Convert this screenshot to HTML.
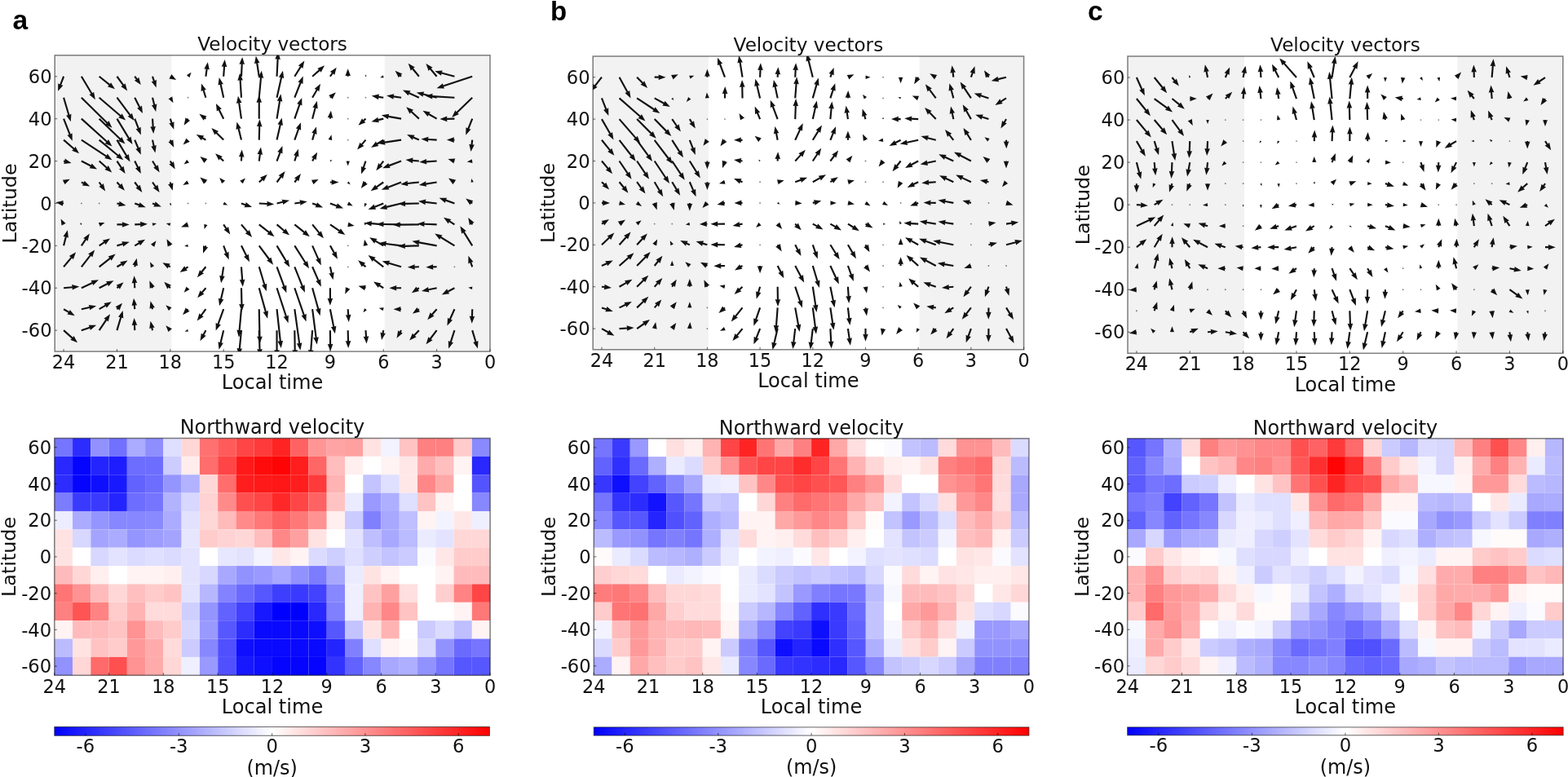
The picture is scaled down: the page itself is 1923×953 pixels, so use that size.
<!DOCTYPE html><html><head><meta charset="utf-8"><style>html,body{margin:0;padding:0;background:#fff;overflow:hidden}svg{display:block;filter:blur(0.55px)}text{font-family:'DejaVu Sans', 'Liberation Sans', sans-serif;fill:#111}</style></head><body>
<svg width="1923" height="953" viewBox="0 0 1923 953">
<defs>
<clipPath id="cq0"><rect x="67.2" y="67.8" width="533.8" height="363.3"/></clipPath>
<clipPath id="cq1"><rect x="727.2" y="69" width="528.4" height="359.8"/></clipPath>
<clipPath id="cq2"><rect x="1383" y="69" width="533.8" height="364.3"/></clipPath>
<linearGradient id="cbg" x1="0" x2="1" y1="0" y2="0"><stop offset="0" stop-color="#0000ff"/><stop offset="0.5" stop-color="#ffffff"/><stop offset="1" stop-color="#ff0000"/></linearGradient>
</defs>
<text x="15.6" y="35.7" style="font-family:'Liberation Sans',Arial,sans-serif;font-weight:bold;font-size:33.5px;fill:#000">a</text>
<rect x="67.2" y="67.8" width="143.02" height="363.3" fill="#f2f2f2"/>
<rect x="471.67" y="67.8" width="129.33" height="363.3" fill="#f2f2f2"/>
<g clip-path="url(#cq0)" fill="#111"><polygon points="77.09,93.36 73.19,103.44 71.26,102.27 71.09,111.85 77.42,104.65 75.2,104.22 79.1,94.14"/><polygon points="98.96,94.3 111.54,115.32 109.43,116.12 116.88,122.15 115.09,112.73 113.39,114.22 100.8,93.2"/><polygon points="120.99,94.59 133.61,104.78 131.9,106.26 140.97,109.35 136.04,101.13 134.96,103.11 122.35,92.91"/><polygon points="142.58,94.38 150.27,105.09 148.23,106.06 156.16,111.45 153.59,102.21 152.02,103.84 144.33,93.12"/><polygon points="164.38,94.39 166.87,97.77 164.85,98.77 172.84,104.05 170.16,94.85 168.6,96.49 166.11,93.11"/><polygon points="186.01,94.09 187.88,99.64 185.64,99.97 191.63,107.45 191.9,97.87 189.91,98.96 188.05,93.41"/><polygon points="208.32,94.62 208.64,94.81 207.28,96.43 216.12,97.95 210.36,91.07 209.65,93.06 209.32,92.88"/><polygon points="231.21,94.22 231.38,93.99 232.44,95.18 234.51,88.75 228.77,92.32 230.18,93.06 230.01,93.28"/><polygon points="253.46,93.9 254.7,84.82 256.85,85.51 254.8,76.15 250.31,84.62 252.57,84.53 251.33,93.6"/><polygon points="275.26,93.83 276.13,81.71 278.32,82.26 275.68,73.05 271.74,81.79 273.99,81.55 273.11,93.67"/><polygon points="297.05,93.8 297.81,78.59 300.01,79.1 297.17,69.95 293.42,78.77 295.66,78.48 294.9,93.7"/><polygon points="318.82,93.58 316.25,77.08 318.51,77.13 313.86,68.75 311.99,78.15 314.12,77.41 316.7,93.92"/><polygon points="340.62,93.8 341.69,72.39 343.89,72.9 341.05,63.75 337.3,72.57 339.54,72.29 338.47,93.7"/><polygon points="362.25,94.32 369.69,82.41 371.36,83.93 373.33,74.55 365.77,80.43 367.87,81.27 360.42,93.18"/><polygon points="383.84,94.55 392.43,86.88 393.61,88.81 398.12,80.35 389.21,83.88 390.99,85.28 382.41,92.95"/><polygon points="405.79,94.37 408.65,90.3 410.24,91.91 412.71,82.65 404.84,88.12 406.89,89.07 404.03,93.13"/><polygon points="427.77,93.75 427.77,92.85 430,93.25 426.7,84.25 423.4,93.25 425.62,92.85 425.62,93.75"/><polygon points="448.78,93.79 448.8,93.67 449.4,93.86 448.79,91.25 447.57,93.64 448.2,93.6 448.19,93.71"/><polygon points="470.09,93.27 469.92,93.34 469.72,92.28 466.27,95.25 470.82,95.22 470.27,94.29 470.45,94.23"/><polygon points="492.79,92.96 491.58,91.83 493.39,90.48 484.56,86.75 488.89,95.3 490.11,93.4 491.33,94.54"/><polygon points="514.68,93.07 506.93,83.62 508.91,82.52 500.65,77.65 503.8,86.7 505.27,84.98 513.02,94.43"/><polygon points="536.46,93.06 528.7,83.84 530.66,82.71 522.34,77.95 525.61,86.96 527.05,85.22 534.81,94.44"/><polygon points="557.7,92.71 541.81,88.51 542.77,86.46 533.22,87.35 541.08,92.84 541.26,90.59 557.15,94.79"/><polygon points="578.87,92.73 543.34,104.52 543.02,102.28 535.51,108.25 545.09,108.55 544.01,106.56 579.55,94.77"/><polygon points="77.06,120 83.34,141.35 81.09,141.6 86.79,149.3 87.42,139.73 85.4,140.75 79.13,119.4"/><polygon points="99.13,120.47 130.6,151.43 128.75,152.74 137.48,156.7 133.38,148.04 132.11,149.9 100.64,118.93"/><polygon points="120.97,120.52 146.94,142.81 145.19,144.24 154.17,147.6 149.49,139.23 148.34,141.18 122.37,118.88"/><polygon points="142.6,120.35 158.63,141.67 156.61,142.69 164.66,147.9 161.89,138.72 160.35,140.38 144.32,119.05"/><polygon points="164.29,120.18 170.21,131.91 168.04,132.55 175.04,139.1 173.93,129.58 172.13,130.94 166.2,119.22"/><polygon points="185.99,119.96 188.15,128.8 185.89,128.94 191.23,136.9 192.3,127.37 190.24,128.29 188.08,119.44"/><polygon points="208.04,120.14 208.21,120.43 206.44,121.06 212.52,126.2 211.2,118.34 209.76,119.55 209.6,119.26"/><circle cx="230.61" cy="119.7" r="0.9" fill-opacity="0.55"/><polygon points="253.42,119.38 250.6,110.38 252.84,110.1 247,102.5 246.54,112.08 248.55,111.03 251.37,120.02"/><polygon points="275.23,119.47 271.68,103.27 273.94,103.18 268.78,95.1 267.49,104.6 269.58,103.73 273.13,119.93"/><polygon points="297.04,119.63 295.69,98.21 297.93,98.47 294.07,89.7 291.35,98.89 293.54,98.35 294.9,119.77"/><polygon points="318.83,119.8 321.05,95.36 323.23,95.96 320.76,86.7 316.66,95.36 318.91,95.17 316.69,119.6"/><polygon points="340.6,119.94 346.11,95.33 348.2,96.2 346.95,86.7 341.76,94.76 344.02,94.86 338.5,119.46"/><polygon points="362.33,120.1 369.56,101.89 371.48,103.08 371.73,93.5 365.35,100.65 367.56,101.1 360.34,119.3"/><polygon points="384.05,120.24 389.6,110.76 391.32,112.23 393.02,102.8 385.63,108.9 387.75,109.68 382.19,119.16"/><polygon points="405.64,120.49 406.34,119.84 407.56,121.74 411.91,113.2 403.07,116.91 404.88,118.26 404.18,118.91"/><circle cx="426.7" cy="119.7" r="0.9" fill-opacity="0.55"/><circle cx="448.49" cy="119.7" r="0.9" fill-opacity="0.55"/><polygon points="470.43,118.64 464.44,117.77 465.15,115.62 455.77,117.6 464.21,122.16 464.13,119.9 470.12,120.76"/><polygon points="492.2,118.63 482.73,117.37 483.42,115.22 474.06,117.3 482.55,121.76 482.44,119.5 491.92,120.77"/><polygon points="514.3,118.72 502.22,113.2 503.51,111.34 493.95,110.6 500.76,117.34 501.32,115.15 513.4,120.68"/><polygon points="535.9,118.66 519.34,114.47 520.27,112.41 510.74,113.4 518.65,118.81 518.81,116.55 535.37,120.74"/><polygon points="557.49,118.63 530.17,117.03 530.7,114.83 521.52,117.6 530.32,121.42 530.05,119.18 557.36,120.77"/><polygon points="578.46,118.93 559.63,137.23 558.37,135.36 554.21,144 562.97,140.09 561.13,138.78 579.96,120.47"/><polygon points="77.09,146.04 84.65,165.24 82.43,165.68 88.79,172.85 88.57,163.27 86.65,164.45 79.09,145.26"/><polygon points="99.16,146.45 130.37,174.5 128.58,175.89 137.48,179.45 132.99,170.98 131.8,172.9 100.6,144.85"/><polygon points="120.92,146.42 146.55,171.33 144.72,172.64 153.47,176.55 149.31,167.91 148.05,169.79 122.42,144.88"/><polygon points="142.54,146.21 157.08,170.16 154.97,170.97 162.46,176.95 160.61,167.54 158.91,169.04 144.38,145.09"/><polygon points="164.24,146.04 168.76,157.81 166.54,158.23 172.84,165.45 172.7,155.87 170.77,157.04 166.25,145.26"/><polygon points="185.96,145.72 186.6,155.54 184.35,155.28 188.23,164.05 190.94,154.85 188.75,155.4 188.11,145.58"/><polygon points="207.8,145.99 209.48,151.03 207.24,151.36 213.22,158.85 213.51,149.27 211.52,150.35 209.84,145.31"/><polygon points="229.7,145.08 229.25,145.79 227.58,144.27 225.61,153.65 233.18,147.77 231.08,146.93 231.52,146.22"/><polygon points="253.04,144.79 251.92,143.95 253.58,142.41 244.4,139.65 249.62,147.69 250.63,145.67 251.75,146.51"/><polygon points="275.15,145.17 269.68,134.17 271.85,133.54 264.88,126.95 265.94,136.48 267.75,135.13 273.22,146.13"/><polygon points="297.04,145.5 294.25,126.01 296.51,126.09 291.97,117.65 289.98,127.03 292.12,126.32 294.91,145.8"/><polygon points="318.83,145.65 318.83,125.45 321.06,125.85 317.76,116.85 314.46,125.85 316.68,125.45 316.68,145.65"/><polygon points="340.61,145.82 344.14,124.01 346.27,124.76 344.45,115.35 339.75,123.71 342.01,123.67 338.49,145.48"/><polygon points="362.35,146 368.44,128.43 370.41,129.53 370.23,119.95 364.17,127.37 366.4,127.72 360.32,145.3"/><polygon points="384.16,145.92 387.69,132.44 389.74,133.39 388.82,123.85 383.35,131.72 385.61,131.9 382.08,145.38"/><polygon points="405.98,145.76 406.12,144.31 408.3,144.93 405.91,135.65 401.73,144.28 403.98,144.1 403.84,145.54"/><circle cx="426.7" cy="145.65" r="0.9" fill-opacity="0.55"/><polygon points="447.77,144.85 445.2,147.13 444.02,145.2 439.49,153.65 448.4,150.14 446.63,148.74 449.2,146.45"/><polygon points="470.03,144.6 463.6,146.12 463.47,143.87 455.47,149.15 464.99,150.29 464.09,148.22 470.52,146.7"/><polygon points="492.25,144.59 476.52,141.8 477.3,139.68 467.86,141.35 476.15,146.17 476.14,143.91 491.87,146.71"/><polygon points="514.58,144.86 505.28,136.22 507.09,134.86 498.25,131.15 502.59,139.69 503.82,137.79 513.12,146.44"/><polygon points="536.17,144.72 526.43,139.11 527.88,137.38 518.44,135.75 524.59,143.1 525.35,140.97 535.1,146.58"/><polygon points="557.4,144.58 548,144.78 548.35,142.55 539.42,146.05 548.5,149.15 548.05,146.93 557.45,146.72"/><polygon points="578.21,145.25 573.39,157.36 571.47,156.17 571.21,165.75 577.61,158.61 575.39,158.16 580.21,146.05"/><polygon points="77.39,172.41 89.91,183.35 88.15,184.76 97.09,188.2 92.49,179.79 91.32,181.73 78.8,170.79"/><polygon points="99.29,172.5 129.7,192.48 128.15,194.12 137.48,196.3 131.77,188.6 130.88,190.68 100.47,170.7"/><polygon points="120.98,172.43 143.98,191.62 142.24,193.07 151.27,196.3 146.47,188 145.36,189.96 122.36,170.77"/><polygon points="142.53,172.15 154.22,191.67 152.1,192.47 159.56,198.5 157.77,189.08 156.06,190.57 144.38,171.05"/><polygon points="164.25,172.02 168.52,182.19 166.32,182.68 172.84,189.7 172.4,180.12 170.51,181.35 166.24,171.18"/><polygon points="185.98,171.82 187.58,179.31 185.32,179.39 190.43,187.5 191.78,178.01 189.69,178.87 188.08,171.38"/><polygon points="207.85,172.06 208.54,173.51 206.36,174.1 213.22,180.8 212.31,171.26 210.48,172.58 209.79,171.14"/><polygon points="229.89,170.88 229.62,171.15 228.41,169.4 224.61,177.6 232.81,173.8 231.06,172.58 231.32,172.32"/><polygon points="252.93,170.67 248.8,168.32 250.25,166.58 240.8,165 246.99,172.32 247.74,170.19 251.86,172.53"/><polygon points="274.94,170.84 266.24,162.2 268.09,160.9 259.38,156.9 263.44,165.58 264.73,163.72 273.43,172.36"/><polygon points="297.01,171.34 293.59,157.59 295.85,157.44 290.47,149.5 289.44,159.03 291.51,158.11 294.93,171.86"/><polygon points="318.83,171.63 319.3,154.93 321.51,155.39 318.46,146.3 314.91,155.21 317.15,154.87 316.68,171.57"/><polygon points="340.6,171.84 344.81,153.13 346.89,154 345.65,144.5 340.45,152.56 342.71,152.65 338.5,171.36"/><polygon points="362.35,171.96 367.07,158.66 369.03,159.79 368.93,150.2 362.81,157.58 365.04,157.94 360.32,171.24"/><polygon points="384.15,171.91 386.51,163.95 388.53,164.97 387.92,155.4 382.2,163.09 384.45,163.34 382.09,171.29"/><polygon points="405.66,171.79 405.73,171.51 407.22,172.19 406.51,165.3 402.6,171.01 404.23,171.13 404.16,171.41"/><circle cx="426.7" cy="171.6" r="0.9" fill-opacity="0.55"/><polygon points="447.67,170.9 442.91,176.4 441.49,174.64 438.09,183.6 446.47,178.96 444.53,177.81 449.3,172.3"/><polygon points="469.7,170.69 461.88,175.61 461.03,173.51 455.17,181.1 464.55,179.1 463.03,177.43 470.85,172.51"/><polygon points="491.9,170.54 471.61,173.57 471.68,171.31 463.26,175.9 472.65,177.83 471.93,175.69 492.22,172.66"/><polygon points="514.29,170.62 507.34,167.52 508.61,165.65 499.05,165 505.92,171.68 506.47,169.48 513.41,172.58"/><polygon points="535.69,170.53 525.08,169.97 525.6,167.77 516.44,170.6 525.25,174.36 524.97,172.12 535.58,172.67"/><polygon points="557.42,170.53 556.52,170.53 556.92,168.3 547.92,171.6 556.92,174.9 556.52,172.68 557.42,172.68"/><polygon points="578.14,171.47 577.45,177.33 575.29,176.68 577.51,186 581.84,177.45 579.59,177.59 580.28,171.73"/><polygon points="77.82,198.59 79,198.9 78.05,200.95 87.59,200.05 79.73,194.57 79.55,196.82 78.37,196.51"/><polygon points="99.39,198.5 110.96,204.53 109.58,206.32 119.08,207.55 112.62,200.47 111.95,202.62 100.38,196.6"/><polygon points="120.95,198.35 130.15,206.61 128.37,207.99 137.27,211.55 132.78,203.08 131.59,205.01 122.39,196.75"/><polygon points="142.56,198.14 148.03,206.46 145.95,207.35 153.66,213.05 151.47,203.72 149.83,205.28 144.36,196.96"/><polygon points="164.28,198.02 168.09,205.8 165.92,206.42 172.84,213.05 171.85,203.52 170.02,204.86 166.21,197.08"/><polygon points="186.12,198.11 190.22,204.78 188.11,205.61 195.63,211.55 193.73,202.15 192.05,203.66 187.95,196.99"/><polygon points="207.89,198.1 209.42,200.69 207.3,201.48 214.72,207.55 212.99,198.12 211.28,199.6 209.75,197"/><polygon points="230.13,196.95 229.91,197.13 229.14,195.72 225.61,201.55 232.07,199.38 230.86,198.33 231.09,198.15"/><polygon points="253.05,196.71 252.74,196.47 254.41,194.98 245.4,192.05 250.38,200.12 251.43,198.14 251.74,198.39"/><polygon points="274.91,196.76 271.14,193.28 272.94,191.92 264.08,188.25 268.47,196.77 269.68,194.87 273.46,198.34"/><polygon points="297.05,197.6 297.32,192.19 299.52,192.7 296.67,183.55 292.93,192.37 295.17,192.09 294.9,197.5"/><polygon points="318.83,197.69 319.92,189.22 322.08,189.9 319.96,180.55 315.53,189.05 317.79,188.94 316.69,197.41"/><polygon points="340.55,197.92 344.46,187.39 346.41,188.54 346.45,178.95 340.22,186.24 342.45,186.64 338.54,197.18"/><polygon points="362.36,197.86 364.35,191.39 366.36,192.42 365.83,182.85 360.04,190.49 362.29,190.76 360.31,197.24"/><polygon points="384.06,198.07 385.89,194.79 387.64,196.22 389.12,186.75 381.87,193.01 384.01,193.75 382.18,197.03"/><polygon points="405.09,197.85 405.2,197.78 405.46,198.47 407.41,196.05 404.36,196.63 404.84,197.18 404.73,197.25"/><polygon points="425.98,197.55 425.98,197.82 424.5,197.55 426.7,203.55 428.9,197.55 427.41,197.82 427.41,197.55"/><polygon points="447.47,197.21 444.82,205.06 442.84,203.97 443.09,213.55 449.09,206.08 446.85,205.75 449.5,197.89"/><polygon points="469.42,196.9 465.72,201.75 464.2,200.09 461.37,209.25 469.45,204.08 467.44,203.06 471.13,198.2"/><polygon points="491.68,196.54 476.83,202.12 476.43,199.9 469.16,206.15 478.75,206.08 477.59,204.13 492.44,198.56"/><polygon points="513.95,196.48 506.11,195.76 506.71,193.58 497.45,196.05 506.11,200.16 505.92,197.9 513.75,198.62"/><polygon points="535.57,196.48 522.76,197.26 523.02,195.01 514.24,198.85 523.42,201.6 522.89,199.4 535.7,198.62"/><polygon points="557.72,196.59 557.37,196.48 558.34,194.62 549.42,195.05 556.51,200.48 556.77,198.39 557.13,198.51"/><polygon points="579.09,196.77 578.8,196.82 578.85,195.17 572.71,198.55 579.58,199.93 579.04,198.37 579.33,198.33"/><polygon points="78.55,224.42 78.89,224.25 79.49,226.32 85.79,219.7 76.7,220.68 77.98,222.41 77.64,222.58"/><polygon points="99.42,224.47 102.07,225.74 100.74,227.57 110.28,228.5 103.6,221.63 103,223.8 100.35,222.53"/><polygon points="120.78,224.11 123.41,227.92 121.35,228.86 129.17,234.4 126.79,225.12 125.18,226.71 122.55,222.89"/><polygon points="142.67,224.23 146.31,228.14 144.41,229.36 152.96,233.7 149.24,224.86 147.88,226.67 144.24,222.77"/><polygon points="164.38,224.14 168.39,229.6 166.36,230.6 174.34,235.9 171.68,226.69 170.12,228.33 166.11,222.86"/><polygon points="186.15,224.11 189.85,229.45 187.79,230.39 195.63,235.9 193.22,226.62 191.61,228.22 187.92,222.89"/><polygon points="207.79,223.79 208.33,225.72 206.08,225.95 211.72,233.7 212.43,224.14 210.4,225.13 209.85,223.21"/><polygon points="230.19,222.75 229.91,222.9 229.32,221.19 224.31,227 231.89,225.81 230.75,224.41 231.03,224.25"/><polygon points="253.1,222.68 252.63,222.28 254.38,220.85 245.4,217.5 250.08,225.86 251.23,223.91 251.7,224.32"/><polygon points="274.84,222.9 274.62,222.66 276.2,221.67 269.18,218 272.17,225.33 273.3,223.85 273.53,224.1"/><polygon points="296.57,224.1 296.79,223.88 297.8,225.33 300.97,218.5 294.14,221.67 295.6,222.68 295.37,222.9"/><polygon points="318.5,224.28 322.26,220.7 323.51,222.59 327.76,214 318.96,217.81 320.78,219.14 317.02,222.72"/><polygon points="340.41,224.14 345.29,217.55 346.84,219.2 349.55,210 341.54,215.27 343.56,216.27 338.68,222.86"/><polygon points="362.2,224.13 364.73,220.68 366.29,222.31 368.93,213.1 360.96,218.42 362.99,219.41 360.47,222.87"/><polygon points="383.54,224.4 383.87,224.24 384.41,226.25 390.62,220 381.84,220.75 383.04,222.45 382.7,222.6"/><polygon points="404.91,224.57 406.91,224.57 406.51,226.8 415.51,223.5 406.51,220.2 406.91,222.43 404.91,222.43"/><polygon points="426.34,223.86 426.47,223.99 425.6,224.6 429.7,226.5 427.8,222.4 427.19,223.28 427.06,223.14"/><polygon points="447.63,222.85 447.13,223.5 445.6,221.84 442.79,231 450.86,225.83 448.85,224.8 449.34,224.15"/><polygon points="469.67,222.61 461.16,228.45 460.23,226.39 454.67,234.2 463.96,231.83 462.37,230.22 470.88,224.39"/><polygon points="491.68,222.5 475.52,228.64 475.1,226.42 467.86,232.7 477.45,232.59 476.28,230.65 492.44,224.5"/><polygon points="513.73,222.43 499.68,223.99 499.83,221.73 491.25,226 500.56,228.29 499.92,226.12 513.97,224.57"/><polygon points="535.47,222.44 522.17,224.51 522.22,222.25 513.84,226.9 523.24,228.77 522.5,226.64 535.8,224.56"/><polygon points="558.02,222.61 557.68,222.38 559.24,220.75 549.92,218.5 555.58,226.24 556.48,224.16 556.83,224.39"/><polygon points="579.75,223.38 579.71,223.18 580.86,223.13 578.21,219 577.56,223.87 578.63,223.42 578.67,223.62"/><polygon points="78.22,248.38 77.16,248.26 77.81,246.1 68.49,248.35 77.06,252.65 76.92,250.4 77.97,250.52"/><circle cx="99.88" cy="249.45" r="0.9" fill-opacity="0.55"/><circle cx="121.67" cy="249.45" r="0.9" fill-opacity="0.55"/><polygon points="143.22,250.5 145.83,251.09 144.95,253.17 154.46,251.95 146.41,246.74 146.31,249 143.7,248.4"/><polygon points="164.88,250.46 170.28,252.38 169.16,254.34 178.74,254.25 171.37,248.13 171,250.36 165.61,248.44"/><polygon points="186.66,250.46 189.39,251.47 188.25,253.42 197.83,253.45 190.54,247.23 190.14,249.46 187.41,248.44"/><polygon points="208.46,249.57 208.51,249.7 207.72,249.82 209.82,252.45 209.92,249.08 209.22,249.46 209.18,249.33"/><circle cx="230.61" cy="249.45" r="0.9" fill-opacity="0.55"/><circle cx="252.4" cy="249.45" r="0.9" fill-opacity="0.55"/><polygon points="273.94,250.05 274.17,250.14 273.45,251.28 279.18,251.45 274.92,247.62 274.64,248.94 274.42,248.85"/><polygon points="295.62,250.47 300.59,252.17 299.49,254.15 309.07,253.95 301.63,247.91 301.29,250.14 296.32,248.43"/><polygon points="317.7,250.52 327.61,251.11 327.08,253.31 336.26,250.55 327.47,246.72 327.74,248.97 317.82,248.38"/><polygon points="339.8,250.5 346.93,248.79 347.06,251.05 355.05,245.75 345.53,244.63 346.43,246.7 339.3,248.4"/><polygon points="361.49,250.51 368.37,249.53 368.29,251.79 376.73,247.25 367.36,245.26 368.07,247.4 361.18,248.39"/><polygon points="382.74,250.45 387.71,252.37 386.54,254.3 396.12,254.45 388.91,248.14 388.48,250.36 383.51,248.45"/><polygon points="404.53,250.46 412.59,253.51 411.42,255.45 421.01,255.55 413.76,249.28 413.35,251.5 405.29,248.44"/><polygon points="426.34,250.17 426.61,250.3 425.6,251.65 432.7,252.45 427.8,247.25 427.32,248.87 427.06,248.73"/><polygon points="447.95,249.27 447.88,249.47 446.84,248.9 446.99,253.95 450.14,250 448.96,249.83 449.02,249.63"/><polygon points="469.87,248.45 459.23,252.8 458.76,250.59 451.67,257.05 461.25,256.7 460.04,254.79 470.68,250.45"/><polygon points="491.8,248.41 473.75,252.85 473.61,250.59 465.66,255.95 475.19,257 474.27,254.94 492.32,250.49"/><polygon points="513.82,248.38 496.82,248.77 497.17,246.54 488.25,250.05 497.32,253.14 496.87,250.92 513.87,250.52"/><polygon points="535.76,248.38 521.8,246.77 522.46,244.6 513.14,246.85 521.7,251.16 521.56,248.91 535.51,250.52"/><polygon points="557.79,248.44 547.09,244.62 548.21,242.66 538.62,242.75 545.99,248.88 546.36,246.65 557.06,250.46"/><polygon points="579.86,248.59 578.74,247.75 580.39,246.21 571.21,243.45 576.43,251.49 577.45,249.47 578.57,250.31"/><polygon points="78.93,274.98 78.77,274.67 80.66,274.12 74.59,268.4 75.53,276.68 77.1,275.51 77.26,275.82"/><polygon points="100.18,275.22 100.11,275.11 100.8,274.85 98.38,272.9 98.96,275.95 99.52,275.47 99.58,275.58"/><polygon points="121.97,276.21 122.27,276.1 122.59,277.89 128.47,272.9 120.75,272.91 121.67,274.48 121.37,274.59"/><polygon points="143.45,276.47 150.15,276.52 149.74,278.74 158.76,275.5 149.78,272.14 150.16,274.37 143.46,274.33"/><polygon points="165.29,276.47 172.39,276.2 172.08,278.44 180.94,274.8 171.83,271.85 172.31,274.05 165.2,274.33"/><polygon points="187.21,276 187.43,275.93 187.58,277.23 192.03,273.9 186.48,273.57 187.08,274.74 186.85,274.8"/><polygon points="209,274.8 208.78,274.74 209.37,273.57 203.82,273.9 208.27,277.23 208.42,275.93 208.64,276"/><polygon points="230.25,274.39 229.86,274.52 229.5,272.29 222.11,278.4 231.69,278.52 230.58,276.55 230.97,276.41"/><polygon points="251.72,275.19 251.64,275.44 250.31,274.74 250.6,281.1 254.49,276.06 253,275.87 253.08,275.62"/><polygon points="273.29,276 276.58,280.87 274.51,281.79 282.28,287.4 279.98,278.09 278.36,279.67 275.07,274.8"/><polygon points="295.15,276.09 302.7,285.03 300.74,286.16 309.07,290.9 305.78,281.9 304.34,283.64 296.79,274.71"/><polygon points="317.09,276.24 329.14,285.73 327.45,287.23 336.56,290.2 331.53,282.04 330.47,284.04 318.42,274.56"/><polygon points="338.85,276.22 347.8,283.84 346.06,285.28 355.05,288.6 350.33,280.25 349.2,282.21 340.24,274.58"/><polygon points="360.66,276.24 372.45,285.67 370.75,287.15 379.83,290.2 374.87,282 373.79,283.99 362.01,274.56"/><polygon points="382.29,276.08 390.65,286.32 388.67,287.42 396.92,292.3 393.79,283.24 392.32,284.96 383.96,274.72"/><polygon points="404.3,276.28 415.62,284.1 414.03,285.7 423.31,288.1 417.78,280.27 416.84,282.33 405.52,274.52"/><polygon points="426.52,276.36 426.87,276.42 426.15,278.33 434.7,276.9 427.25,272.47 427.23,274.51 426.88,274.44"/><polygon points="448.84,275.16 448.76,275.03 449.59,274.67 446.49,272.4 447.39,276.13 448.04,275.51 448.13,275.64"/><polygon points="470.37,274.33 455.53,273.06 456.12,270.88 446.87,273.4 455.56,277.45 455.35,275.2 470.18,276.47"/><polygon points="492.08,274.33 470.28,273.97 470.71,271.75 461.66,274.9 470.61,278.35 470.24,276.12 492.04,276.47"/><polygon points="513.84,274.33 490.44,274.54 490.82,272.32 481.85,275.7 490.88,278.92 490.46,276.69 513.86,276.47"/><polygon points="535.68,274.33 520.27,273.68 520.77,271.48 511.64,274.4 520.49,278.07 520.18,275.83 535.59,276.47"/><polygon points="558.01,274.5 551.84,270.54 553.38,268.88 544.02,266.8 549.82,274.44 550.68,272.35 556.84,276.3"/><polygon points="580.14,274.85 579.5,273.77 581.62,272.98 574.21,266.9 575.93,276.33 577.65,274.86 578.29,275.95"/><polygon points="79.14,301.61 81.85,290.75 83.91,291.68 82.89,282.15 77.51,290.08 79.77,290.23 77.05,301.09"/><polygon points="100.77,301.95 105.96,294.28 107.58,295.85 109.88,286.55 102.11,292.16 104.18,293.07 98.99,300.75"/><polygon points="122.26,302.25 128.5,298.1 129.4,300.18 135.07,292.45 125.75,294.68 127.31,296.31 121.07,300.45"/><polygon points="143.76,302.38 150.81,300.31 151.05,302.56 158.76,296.85 149.19,296.22 150.2,298.25 143.15,300.32"/><polygon points="165.79,302.28 171.17,299.13 171.95,301.25 178.04,293.85 168.61,295.55 170.08,297.27 164.7,300.42"/><polygon points="187.75,301.89 187.95,301.62 189.23,303 191.53,295.35 184.83,299.7 186.52,300.55 186.32,300.81"/><polygon points="209.77,300.84 209.43,300.22 211.58,299.52 204.42,293.15 205.77,302.64 207.54,301.24 207.87,301.86"/><polygon points="230.55,300.81 230.35,300.83 230.42,299.7 226.11,301.85 230.79,303 230.47,301.91 230.67,301.89"/><polygon points="251.39,300.98 250.94,302.2 248.99,301.06 249,310.65 255.19,303.33 252.96,302.94 253.41,301.72"/><polygon points="273.18,301.73 276.62,310.79 274.4,311.21 280.68,318.45 280.57,308.86 278.63,310.03 275.19,300.97"/><polygon points="295.01,301.83 301.15,314.05 298.98,314.69 305.97,321.25 304.88,311.73 303.07,313.08 296.93,300.87"/><polygon points="316.9,301.99 329.07,318.39 327.04,319.39 335.06,324.65 332.34,315.46 330.8,317.1 318.62,300.71"/><polygon points="338.62,301.9 350.01,320.92 347.89,321.72 355.35,327.75 353.56,318.33 351.85,319.82 340.47,300.8"/><polygon points="360.43,301.93 373.52,322.56 371.43,323.42 379.03,329.25 377,319.88 375.34,321.41 362.24,300.77"/><polygon points="382.14,301.79 389.35,318.03 387.15,318.56 393.82,325.45 393.19,315.89 391.32,317.15 384.1,300.91"/><polygon points="403.97,301.87 408.88,310.66 406.74,311.4 414.01,317.65 412.5,308.18 410.76,309.62 405.85,300.83"/><circle cx="426.7" cy="301.35" r="0.9" fill-opacity="0.55"/><polygon points="449.38,301.17 449.31,300.84 451.24,300.8 446.99,293.85 445.74,301.9 447.52,301.2 447.59,301.53"/><polygon points="470.82,300.42 461.13,294.7 462.6,292.99 453.17,291.25 459.24,298.67 460.03,296.55 469.73,302.28"/><polygon points="492.19,300.28 473.43,297.95 474.1,295.79 464.76,297.95 473.28,302.34 473.16,300.08 491.93,302.42"/><polygon points="513.82,300.28 496.62,300.74 496.96,298.51 488.05,302.05 497.14,305.1 496.67,302.89 513.88,302.42"/><polygon points="535.83,300.29 513.99,296.33 514.78,294.21 505.34,295.85 513.6,300.7 513.61,298.44 535.44,302.41"/><polygon points="557.99,300.43 541.12,290.12 542.62,288.43 533.22,286.55 539.18,294.06 540,291.95 556.86,302.27"/><polygon points="580.13,300.78 569.75,284 571.85,283.17 564.31,277.25 566.24,286.64 567.92,285.13 578.3,301.92"/><polygon points="78.92,327.99 88.41,316.59 89.87,318.33 93.09,309.3 84.8,314.1 86.76,315.22 77.27,326.61"/><polygon points="100.73,327.96 111.74,313.84 113.25,315.53 116.18,306.4 108.04,311.47 110.05,312.52 99.03,326.64"/><polygon points="122.34,328.14 135.59,317.67 136.65,319.67 141.67,311.5 132.56,314.49 134.25,315.99 121,326.46"/><polygon points="144,328.23 149.69,324.88 150.47,327.01 156.56,319.6 147.13,321.32 148.6,323.03 142.91,326.37"/><polygon points="166.29,327.55 166.8,325.42 168.87,326.32 167.74,316.8 162.45,324.79 164.71,324.92 164.2,327.05"/><polygon points="187.75,326.94 187.62,326.68 189.23,326.2 184.03,321.3 184.83,328.4 186.18,327.39 186.32,327.66"/><polygon points="209.32,326.35 207.43,325.35 208.82,323.57 199.32,322.3 205.75,329.41 206.43,327.26 208.32,328.25"/><polygon points="230.01,326.41 227.15,328.32 226.25,326.25 220.61,334 229.92,331.73 228.35,330.11 231.21,328.19"/><polygon points="251.56,326.62 246.49,332.85 245.02,331.14 241.9,340.2 250.14,335.3 248.16,334.21 253.23,327.98"/><polygon points="273.12,327.13 271.35,338.54 269.21,337.8 271.08,347.2 275.73,338.82 273.47,338.87 275.25,327.47"/><polygon points="294.9,327.38 296.07,343.3 293.82,343.07 297.77,351.8 300.4,342.58 298.21,343.14 297.04,327.22"/><polygon points="316.73,327.61 323.26,349.37 321.01,349.63 326.76,357.3 327.33,347.73 325.32,348.75 318.79,326.99"/><polygon points="338.54,327.67 347.36,351.6 345.14,352 351.35,359.3 351.33,349.71 349.38,350.86 340.56,326.93"/><polygon points="360.34,327.7 369.74,351.21 367.53,351.67 373.93,358.8 373.66,349.22 371.74,350.42 362.33,326.9"/><polygon points="382.14,327.73 389.4,344.35 387.2,344.87 393.82,351.8 393.24,342.23 391.37,343.49 384.11,326.87"/><polygon points="403.86,327.54 405.57,335.15 403.32,335.24 408.51,343.3 409.75,333.8 407.67,334.67 405.96,327.06"/><circle cx="426.7" cy="327.3" r="0.9" fill-opacity="0.55"/><polygon points="449.19,326.49 446.38,324.04 448.14,322.62 439.19,319.2 443.81,327.6 444.96,325.66 447.78,328.11"/><polygon points="470.93,326.45 459.06,317.37 460.73,315.85 451.57,313 456.72,321.09 457.75,319.08 469.62,328.15"/><polygon points="492.37,326.27 477.21,321.73 478.23,319.72 468.66,320.3 476.34,326.04 476.59,323.79 491.75,328.33"/><polygon points="513.82,326.23 508.41,326.38 508.75,324.14 499.85,327.7 508.94,330.74 508.48,328.53 513.88,328.37"/><polygon points="535.6,326.23 530.9,326.37 531.23,324.13 522.34,327.7 531.43,330.73 530.97,328.52 535.67,328.37"/><circle cx="557.42" cy="327.3" r="0.9" fill-opacity="0.55"/><polygon points="580.23,326.94 578.31,321.54 580.54,321.17 574.41,313.8 574.32,323.39 576.28,322.26 578.2,327.66"/><polygon points="78.19,354.32 88.83,353.32 88.64,355.58 97.29,351.45 88.03,349 88.63,351.18 77.99,352.18"/><polygon points="100.34,354.22 113.67,347.9 114.26,350.09 120.98,343.25 111.44,344.12 112.75,345.96 99.42,352.28"/><polygon points="122.16,354.21 132.3,349.02 132.96,351.19 139.47,344.15 129.95,345.31 131.32,347.11 121.18,352.29"/><polygon points="144.17,354.06 145.69,352.72 146.86,354.66 151.46,346.25 142.51,349.69 144.28,351.1 142.75,352.44"/><polygon points="166.32,353.2 166.02,346.79 168.26,347.09 164.54,338.25 161.67,347.39 163.87,346.89 164.17,353.3"/><polygon points="188.03,352.84 187.63,351.88 189.83,351.39 183.33,344.35 183.74,353.93 185.64,352.7 186.04,353.66"/><polygon points="209.58,352.49 208.16,351.07 210.02,349.78 201.32,345.75 205.35,354.45 206.64,352.59 208.06,354.01"/><polygon points="229.95,352.65 229.73,352.9 228.59,351.42 225.61,358.75 232.62,355.08 231.04,354.09 231.27,353.85"/><polygon points="251.58,352.55 246.95,358 245.51,356.26 242.2,365.25 250.54,360.53 248.58,359.39 253.22,353.95"/><polygon points="273.14,353.01 269.99,366.53 267.91,365.64 269.08,375.15 274.34,367.13 272.08,367.02 275.23,353.49"/><polygon points="294.9,353.28 295.39,373.28 293.15,372.93 296.67,381.85 299.75,372.77 297.54,373.23 297.05,353.22"/><polygon points="316.72,353.54 324.82,382.65 322.57,382.86 328.16,390.65 328.93,381.09 326.89,382.08 318.79,352.96"/><polygon points="338.52,353.58 349.86,388.31 347.62,388.62 353.55,396.15 353.89,386.57 351.9,387.64 340.57,352.92"/><polygon points="360.32,353.6 371.72,386.67 369.48,387.02 375.53,394.45 375.72,384.87 373.75,385.97 362.35,352.9"/><polygon points="382.09,353.54 389.27,379.26 387.02,379.47 392.62,387.25 393.38,377.69 391.34,378.68 384.16,352.96"/><polygon points="403.84,353.25 403.84,366.15 401.61,365.75 404.91,374.75 408.21,365.75 405.99,366.15 405.99,353.25"/><polygon points="425.8,352.83 425.65,353.17 423.95,351.97 423.2,360.75 429.45,354.53 427.44,354 427.59,353.67"/><polygon points="448.77,352.21 448.06,352.02 449.04,349.98 439.49,350.75 447.27,356.34 447.48,354.09 448.2,354.29"/><polygon points="470.85,352.34 465.9,349.18 467.43,347.52 458.07,345.45 463.88,353.08 464.74,350.99 469.69,354.16"/><polygon points="492.06,352.18 485.96,352.18 486.36,349.95 477.36,353.25 486.36,356.55 485.96,354.33 492.06,354.33"/><polygon points="513.25,352.36 511.41,353.59 510.51,351.51 504.85,359.25 514.17,357 512.6,355.37 514.45,354.14"/><polygon points="535.43,352.2 525.26,354.22 525.22,351.96 517.04,356.95 526.51,358.43 525.68,356.33 535.85,354.3"/><polygon points="556.92,352.3 548.94,356.5 548.26,354.34 541.82,361.45 551.33,360.18 549.94,358.4 557.92,354.2"/><polygon points="579.27,352.65 579.05,352.63 579.4,351.42 574.21,352.75 579.03,355.08 578.93,353.83 579.15,353.85"/><polygon points="77.55,380.13 83.84,383.85 82.37,385.56 91.79,387.3 85.73,379.88 84.94,382 78.64,378.27"/><polygon points="100.11,380.25 110.01,378.09 110.09,380.35 118.18,375.2 108.68,373.9 109.55,375.99 99.65,378.15"/><polygon points="122.22,380.12 129.93,375.53 130.73,377.64 136.77,370.2 127.35,371.97 128.83,373.68 121.12,378.28"/><polygon points="144.27,379.9 145.14,378.9 146.56,380.66 149.96,371.7 141.57,376.34 143.51,377.49 142.64,378.5"/><polygon points="166.32,379.1 165.88,374.27 168.13,374.47 164.04,365.8 161.56,375.06 163.74,374.46 164.17,379.3"/><polygon points="188.08,378.94 187.66,377.28 189.92,377.13 184.53,369.2 183.51,378.73 185.58,377.8 185.99,379.46"/><polygon points="209.42,378.54 209.17,378.32 210.65,377.18 203.32,374.2 206.99,381.22 207.98,379.63 208.22,379.86"/><polygon points="229.82,378.47 229.17,379.17 227.81,377.36 224.11,386.2 232.65,381.85 230.75,380.63 231.4,379.93"/><polygon points="251.54,378.55 246.01,385.88 244.48,384.23 241.7,393.4 249.75,388.2 247.73,387.18 253.25,379.85"/><polygon points="273.17,378.83 266.59,397.05 264.64,395.91 264.68,405.5 270.84,398.16 268.62,397.78 275.19,379.57"/><polygon points="294.9,379.1 292.57,405.04 290.39,404.44 292.87,413.7 296.96,405.03 294.71,405.23 297.04,379.3"/><polygon points="316.68,379.22 317.4,412.92 315.17,412.57 318.66,421.5 321.77,412.43 319.55,412.88 318.83,379.18"/><polygon points="338.48,379.32 342.75,418.57 340.49,418.41 344.75,427 347.05,417.7 344.89,418.33 340.62,379.08"/><polygon points="360.27,379.35 366.09,421.33 363.83,421.24 368.33,429.7 370.37,420.33 368.22,421.03 362.4,379.05"/><polygon points="382.06,379.34 386.56,414.21 384.3,414.1 388.72,422.6 390.84,413.25 388.69,413.93 384.19,379.06"/><polygon points="403.86,379.41 408.17,400.98 405.91,401.02 410.91,409.2 412.38,399.73 410.28,400.56 405.96,378.99"/><polygon points="425.63,379.27 426.13,386.5 423.88,386.25 427.8,395 430.46,385.79 428.27,386.35 427.77,379.13"/><polygon points="448.01,378.84 447.87,379.02 447.02,378.1 445.49,383.2 449.95,380.3 448.83,379.74 448.96,379.56"/><polygon points="470.45,378.54 470.21,378.48 470.82,377.18 464.77,377.7 469.72,381.22 469.85,379.79 470.09,379.86"/><polygon points="492.06,378.13 491.16,378.13 491.56,375.9 482.56,379.2 491.56,382.5 491.16,380.28 492.06,380.28"/><polygon points="513.24,378.31 512.33,378.94 511.4,376.88 505.85,384.7 515.13,382.32 513.54,380.71 514.46,380.09"/><polygon points="534.83,378.49 529.1,385.03 527.69,383.26 524.24,392.2 532.65,387.61 530.72,386.44 536.44,379.91"/><polygon points="556.44,378.76 550.94,391.11 549.07,389.84 548.42,399.4 555.1,392.52 552.91,391.98 558.41,379.64"/><polygon points="578.14,379.17 577.88,388.07 575.67,387.61 578.71,396.7 582.27,387.8 580.03,388.13 580.29,379.23"/><polygon points="77.38,405.95 87.97,415.42 86.19,416.81 95.09,420.35 90.58,411.89 89.4,413.82 78.81,404.35"/><polygon points="100.23,406.17 110.4,402.67 110.75,404.9 118.18,398.85 108.6,398.66 109.7,400.63 99.53,404.13"/><polygon points="122.56,405.75 131.18,392.89 132.8,394.46 135.07,385.15 127.32,390.79 129.39,391.7 120.78,404.55"/><polygon points="144.49,405.46 149.24,389.5 151.25,390.52 150.66,380.95 144.93,388.64 147.17,388.89 142.43,404.84"/><polygon points="166.32,405.1 166.02,398.59 168.26,398.89 164.54,390.05 161.67,399.19 163.87,398.69 164.17,405.2"/><polygon points="188.08,404.92 187.41,401.83 189.67,401.74 184.53,393.65 183.22,403.15 185.31,402.28 185.98,405.38"/><polygon points="209.54,404.49 209.29,404.23 211.02,403.13 203.32,399.15 206.62,407.17 207.86,405.54 208.1,405.81"/><polygon points="230.43,404.67 230.25,404.74 230.06,403.68 226.61,406.65 231.16,406.62 230.61,405.69 230.79,405.63"/><polygon points="251.45,404.65 248.58,410.05 246.8,408.65 245.5,418.15 252.63,411.75 250.48,411.06 253.35,405.65"/><polygon points="273.14,404.9 269.53,420.04 267.46,419.13 268.58,428.65 273.88,420.66 271.62,420.53 275.23,405.4"/><polygon points="294.9,405.05 292.73,427.49 290.55,426.87 292.97,436.15 297.12,427.51 294.87,427.69 297.04,405.25"/><polygon points="316.68,405.18 317.42,428.59 315.18,428.26 318.76,437.15 321.78,428.05 319.57,428.52 318.83,405.12"/><polygon points="338.47,405.15 338.47,429.55 336.25,429.15 339.55,438.15 342.85,429.15 340.62,429.55 340.62,405.15"/><polygon points="360.26,405.17 360.63,429.57 358.4,429.2 361.83,438.15 365,429.1 362.78,429.53 362.41,405.13"/><polygon points="382.05,405.07 380.2,429.49 378.01,428.93 380.62,438.15 384.59,429.43 382.34,429.66 384.19,405.23"/><polygon points="403.84,405.16 404.03,422.26 401.81,421.89 405.21,430.85 408.4,421.81 406.18,422.24 405.99,405.14"/><polygon points="425.62,405.17 425.93,418.38 423.69,418.03 427.2,426.95 430.29,417.88 428.08,418.33 427.77,405.13"/><polygon points="447.41,405.22 447.93,412.94 445.69,412.69 449.59,421.45 452.27,412.25 450.08,412.8 449.56,405.08"/><polygon points="469.22,404.95 468.55,408.4 466.44,407.59 467.97,417.05 472.92,408.84 470.66,408.81 471.33,405.35"/><polygon points="491.13,404.61 489.94,406.67 488.21,405.21 486.56,414.65 493.93,408.51 491.8,407.75 492.99,405.69"/><polygon points="513.07,404.41 507.27,410.56 505.93,408.74 502.15,417.55 510.73,413.27 508.83,412.03 514.63,405.89"/><polygon points="534.78,404.5 526.89,414.86 525.36,413.19 522.54,422.35 530.62,417.19 528.6,416.16 536.49,405.8"/><polygon points="556.4,404.82 551.77,419.04 549.78,417.97 550.12,427.55 556.05,420.02 553.81,419.71 558.45,405.48"/><polygon points="578.18,405.46 582.42,419.62 580.17,419.87 585.91,427.55 586.49,417.98 584.48,419 580.24,404.84"/></g>
<rect x="67.2" y="67.8" width="533.8" height="363.3" fill="none" stroke="#000" stroke-opacity="0.5" stroke-width="1.5"/>
<line x1="67.2" x2="70.2" y1="93.75" y2="93.75" stroke="#000" stroke-opacity="0.55" stroke-width="1.1"/>
<text x="63.6" y="101.92" text-anchor="end" font-size="22.7">60</text>
<line x1="67.2" x2="70.2" y1="145.65" y2="145.65" stroke="#000" stroke-opacity="0.55" stroke-width="1.1"/>
<text x="63.6" y="153.82" text-anchor="end" font-size="22.7">40</text>
<line x1="67.2" x2="70.2" y1="197.55" y2="197.55" stroke="#000" stroke-opacity="0.55" stroke-width="1.1"/>
<text x="63.6" y="205.72" text-anchor="end" font-size="22.7">20</text>
<line x1="67.2" x2="70.2" y1="249.45" y2="249.45" stroke="#000" stroke-opacity="0.55" stroke-width="1.1"/>
<text x="63.6" y="257.62" text-anchor="end" font-size="22.7">0</text>
<line x1="67.2" x2="70.2" y1="301.35" y2="301.35" stroke="#000" stroke-opacity="0.55" stroke-width="1.1"/>
<text x="63.6" y="309.52" text-anchor="end" font-size="22.7">-20</text>
<line x1="67.2" x2="70.2" y1="353.25" y2="353.25" stroke="#000" stroke-opacity="0.55" stroke-width="1.1"/>
<text x="63.6" y="361.42" text-anchor="end" font-size="22.7">-40</text>
<line x1="67.2" x2="70.2" y1="405.15" y2="405.15" stroke="#000" stroke-opacity="0.55" stroke-width="1.1"/>
<text x="63.6" y="413.32" text-anchor="end" font-size="22.7">-60</text>
<line x1="78.09" x2="78.09" y1="431.1" y2="428.1" stroke="#000" stroke-opacity="0.55" stroke-width="1.1"/>
<text x="78.09" y="452.1" text-anchor="middle" font-size="22.4">24</text>
<line x1="143.46" x2="143.46" y1="431.1" y2="428.1" stroke="#000" stroke-opacity="0.55" stroke-width="1.1"/>
<text x="143.46" y="452.1" text-anchor="middle" font-size="22.4">21</text>
<line x1="208.82" x2="208.82" y1="431.1" y2="428.1" stroke="#000" stroke-opacity="0.55" stroke-width="1.1"/>
<text x="208.82" y="452.1" text-anchor="middle" font-size="22.4">18</text>
<line x1="274.18" x2="274.18" y1="431.1" y2="428.1" stroke="#000" stroke-opacity="0.55" stroke-width="1.1"/>
<text x="274.18" y="452.1" text-anchor="middle" font-size="22.4">15</text>
<line x1="339.55" x2="339.55" y1="431.1" y2="428.1" stroke="#000" stroke-opacity="0.55" stroke-width="1.1"/>
<text x="339.55" y="452.1" text-anchor="middle" font-size="22.4">12</text>
<line x1="404.91" x2="404.91" y1="431.1" y2="428.1" stroke="#000" stroke-opacity="0.55" stroke-width="1.1"/>
<text x="404.91" y="452.1" text-anchor="middle" font-size="22.4">9</text>
<line x1="470.27" x2="470.27" y1="431.1" y2="428.1" stroke="#000" stroke-opacity="0.55" stroke-width="1.1"/>
<text x="470.27" y="452.1" text-anchor="middle" font-size="22.4">6</text>
<line x1="535.64" x2="535.64" y1="431.1" y2="428.1" stroke="#000" stroke-opacity="0.55" stroke-width="1.1"/>
<text x="535.64" y="452.1" text-anchor="middle" font-size="22.4">3</text>
<line x1="601" x2="601" y1="431.1" y2="428.1" stroke="#000" stroke-opacity="0.55" stroke-width="1.1"/>
<text x="601" y="452.1" text-anchor="middle" font-size="22.4">0</text>
<text x="334.1" y="62.2" text-anchor="middle" font-size="23.15">Velocity vectors</text>
<text x="334.1" y="477.4" text-anchor="middle" font-size="24.1">Local time</text>
<text transform="translate(19.7 249.45) rotate(-90)" text-anchor="middle" font-size="23.85">Latitude</text>
<g><rect x="66.8" y="537.5" width="22.26" height="22.37" fill="#7575ff"/><rect x="89.06" y="537.5" width="22.26" height="22.37" fill="#2c2cff"/><rect x="111.33" y="537.5" width="22.26" height="22.37" fill="#9292ff"/><rect x="133.59" y="537.5" width="22.26" height="22.37" fill="#7171ff"/><rect x="155.85" y="537.5" width="22.26" height="22.37" fill="#ababff"/><rect x="178.11" y="537.5" width="22.26" height="22.37" fill="#8e8eff"/><rect x="200.38" y="537.5" width="22.26" height="22.37" fill="#dfdfff"/><rect x="222.64" y="537.5" width="22.26" height="22.37" fill="#ffd7d7"/><rect x="244.9" y="537.5" width="22.26" height="22.37" fill="#ff7171"/><rect x="267.16" y="537.5" width="22.26" height="22.37" fill="#ff5b5b"/><rect x="289.43" y="537.5" width="22.26" height="22.37" fill="#ff4545"/><rect x="311.69" y="537.5" width="22.26" height="22.37" fill="#ff3a3a"/><rect x="333.95" y="537.5" width="22.26" height="22.37" fill="#ff2424"/><rect x="356.21" y="537.5" width="22.26" height="22.37" fill="#ff6262"/><rect x="378.48" y="537.5" width="22.26" height="22.37" fill="#ff9595"/><rect x="400.74" y="537.5" width="22.26" height="22.37" fill="#ffa4a4"/><rect x="423" y="537.5" width="22.26" height="22.37" fill="#ffa0a0"/><rect x="445.26" y="537.5" width="22.26" height="22.37" fill="#ffe3e3"/><rect x="467.53" y="537.5" width="22.26" height="22.37" fill="#f3f3ff"/><rect x="489.79" y="537.5" width="22.26" height="22.37" fill="#ffc3c3"/><rect x="512.05" y="537.5" width="22.26" height="22.37" fill="#ff8080"/><rect x="534.31" y="537.5" width="22.26" height="22.37" fill="#ff8080"/><rect x="556.58" y="537.5" width="22.26" height="22.37" fill="#ffcbcb"/><rect x="578.84" y="537.5" width="22.26" height="22.37" fill="#8a8aff"/><rect x="66.8" y="559.87" width="22.26" height="22.37" fill="#2828ff"/><rect x="89.06" y="559.87" width="22.26" height="22.37" fill="#0404ff"/><rect x="111.33" y="559.87" width="22.26" height="22.37" fill="#2424ff"/><rect x="133.59" y="559.87" width="22.26" height="22.37" fill="#1d1dff"/><rect x="155.85" y="559.87" width="22.26" height="22.37" fill="#6d6dff"/><rect x="178.11" y="559.87" width="22.26" height="22.37" fill="#6d6dff"/><rect x="200.38" y="559.87" width="22.26" height="22.37" fill="#ccccff"/><rect x="222.64" y="559.87" width="22.26" height="22.37" fill="#ffeded"/><rect x="244.9" y="559.87" width="22.26" height="22.37" fill="#ff6d6d"/><rect x="267.16" y="559.87" width="22.26" height="22.37" fill="#ff4545"/><rect x="289.43" y="559.87" width="22.26" height="22.37" fill="#ff1919"/><rect x="311.69" y="559.87" width="22.26" height="22.37" fill="#ff0b0b"/><rect x="333.95" y="559.87" width="22.26" height="22.37" fill="#ff0404"/><rect x="356.21" y="559.87" width="22.26" height="22.37" fill="#ff1d1d"/><rect x="378.48" y="559.87" width="22.26" height="22.37" fill="#ff6666"/><rect x="400.74" y="559.87" width="22.26" height="22.37" fill="#ffbdbd"/><rect x="423" y="559.87" width="22.26" height="22.37" fill="#ffefef"/><rect x="445.26" y="559.87" width="22.26" height="22.37" fill="#ffffff"/><rect x="467.53" y="559.87" width="22.26" height="22.37" fill="#fff3f3"/><rect x="489.79" y="559.87" width="22.26" height="22.37" fill="#ffe7e7"/><rect x="512.05" y="559.87" width="22.26" height="22.37" fill="#ffabab"/><rect x="534.31" y="559.87" width="22.26" height="22.37" fill="#ffbfbf"/><rect x="556.58" y="559.87" width="22.26" height="22.37" fill="#fff3f3"/><rect x="578.84" y="559.87" width="22.26" height="22.37" fill="#2828ff"/><rect x="66.8" y="582.24" width="22.26" height="22.37" fill="#2c2cff"/><rect x="89.06" y="582.24" width="22.26" height="22.37" fill="#0404ff"/><rect x="111.33" y="582.24" width="22.26" height="22.37" fill="#0f0fff"/><rect x="133.59" y="582.24" width="22.26" height="22.37" fill="#1919ff"/><rect x="155.85" y="582.24" width="22.26" height="22.37" fill="#6262ff"/><rect x="178.11" y="582.24" width="22.26" height="22.37" fill="#6d6dff"/><rect x="200.38" y="582.24" width="22.26" height="22.37" fill="#9595ff"/><rect x="222.64" y="582.24" width="22.26" height="22.37" fill="#b2b2ff"/><rect x="244.9" y="582.24" width="22.26" height="22.37" fill="#ffd7d7"/><rect x="267.16" y="582.24" width="22.26" height="22.37" fill="#ff6d6d"/><rect x="289.43" y="582.24" width="22.26" height="22.37" fill="#ff1d1d"/><rect x="311.69" y="582.24" width="22.26" height="22.37" fill="#ff1919"/><rect x="333.95" y="582.24" width="22.26" height="22.37" fill="#ff1616"/><rect x="356.21" y="582.24" width="22.26" height="22.37" fill="#ff1d1d"/><rect x="378.48" y="582.24" width="22.26" height="22.37" fill="#ff3a3a"/><rect x="400.74" y="582.24" width="22.26" height="22.37" fill="#ffb3b3"/><rect x="423" y="582.24" width="22.26" height="22.37" fill="#ffffff"/><rect x="445.26" y="582.24" width="22.26" height="22.37" fill="#c3c3ff"/><rect x="467.53" y="582.24" width="22.26" height="22.37" fill="#dfdfff"/><rect x="489.79" y="582.24" width="22.26" height="22.37" fill="#ffe7e7"/><rect x="512.05" y="582.24" width="22.26" height="22.37" fill="#ff8787"/><rect x="534.31" y="582.24" width="22.26" height="22.37" fill="#ffa8a8"/><rect x="556.58" y="582.24" width="22.26" height="22.37" fill="#ffffff"/><rect x="578.84" y="582.24" width="22.26" height="22.37" fill="#5454ff"/><rect x="66.8" y="604.61" width="22.26" height="22.37" fill="#7c7cff"/><rect x="89.06" y="604.61" width="22.26" height="22.37" fill="#3a3aff"/><rect x="111.33" y="604.61" width="22.26" height="22.37" fill="#3a3aff"/><rect x="133.59" y="604.61" width="22.26" height="22.37" fill="#2424ff"/><rect x="155.85" y="604.61" width="22.26" height="22.37" fill="#6d6dff"/><rect x="178.11" y="604.61" width="22.26" height="22.37" fill="#7575ff"/><rect x="200.38" y="604.61" width="22.26" height="22.37" fill="#b2b2ff"/><rect x="222.64" y="604.61" width="22.26" height="22.37" fill="#d7d7ff"/><rect x="244.9" y="604.61" width="22.26" height="22.37" fill="#ffd3d3"/><rect x="267.16" y="604.61" width="22.26" height="22.37" fill="#ff8a8a"/><rect x="289.43" y="604.61" width="22.26" height="22.37" fill="#ff5050"/><rect x="311.69" y="604.61" width="22.26" height="22.37" fill="#ff4545"/><rect x="333.95" y="604.61" width="22.26" height="22.37" fill="#ff2828"/><rect x="356.21" y="604.61" width="22.26" height="22.37" fill="#ff4545"/><rect x="378.48" y="604.61" width="22.26" height="22.37" fill="#ff6262"/><rect x="400.74" y="604.61" width="22.26" height="22.37" fill="#ffc3c3"/><rect x="423" y="604.61" width="22.26" height="22.37" fill="#ebebff"/><rect x="445.26" y="604.61" width="22.26" height="22.37" fill="#9999ff"/><rect x="467.53" y="604.61" width="22.26" height="22.37" fill="#afafff"/><rect x="489.79" y="604.61" width="22.26" height="22.37" fill="#dfdfff"/><rect x="512.05" y="604.61" width="22.26" height="22.37" fill="#ffc3c3"/><rect x="534.31" y="604.61" width="22.26" height="22.37" fill="#fff3f3"/><rect x="556.58" y="604.61" width="22.26" height="22.37" fill="#ffffff"/><rect x="578.84" y="604.61" width="22.26" height="22.37" fill="#8787ff"/><rect x="66.8" y="626.98" width="22.26" height="22.37" fill="#ededff"/><rect x="89.06" y="626.98" width="22.26" height="22.37" fill="#ababff"/><rect x="111.33" y="626.98" width="22.26" height="22.37" fill="#9595ff"/><rect x="133.59" y="626.98" width="22.26" height="22.37" fill="#8787ff"/><rect x="155.85" y="626.98" width="22.26" height="22.37" fill="#8787ff"/><rect x="178.11" y="626.98" width="22.26" height="22.37" fill="#8a8aff"/><rect x="200.38" y="626.98" width="22.26" height="22.37" fill="#ababff"/><rect x="222.64" y="626.98" width="22.26" height="22.37" fill="#e2e2ff"/><rect x="244.9" y="626.98" width="22.26" height="22.37" fill="#ffd7d7"/><rect x="267.16" y="626.98" width="22.26" height="22.37" fill="#ffbaba"/><rect x="289.43" y="626.98" width="22.26" height="22.37" fill="#ff8a8a"/><rect x="311.69" y="626.98" width="22.26" height="22.37" fill="#ff7878"/><rect x="333.95" y="626.98" width="22.26" height="22.37" fill="#ff6262"/><rect x="356.21" y="626.98" width="22.26" height="22.37" fill="#ff7878"/><rect x="378.48" y="626.98" width="22.26" height="22.37" fill="#ff9292"/><rect x="400.74" y="626.98" width="22.26" height="22.37" fill="#ffefef"/><rect x="423" y="626.98" width="22.26" height="22.37" fill="#cbcbff"/><rect x="445.26" y="626.98" width="22.26" height="22.37" fill="#8080ff"/><rect x="467.53" y="626.98" width="22.26" height="22.37" fill="#a8a8ff"/><rect x="489.79" y="626.98" width="22.26" height="22.37" fill="#bfbfff"/><rect x="512.05" y="626.98" width="22.26" height="22.37" fill="#fff3f3"/><rect x="534.31" y="626.98" width="22.26" height="22.37" fill="#f3f3ff"/><rect x="556.58" y="626.98" width="22.26" height="22.37" fill="#ffe7e7"/><rect x="578.84" y="626.98" width="22.26" height="22.37" fill="#efefff"/><rect x="66.8" y="649.35" width="22.26" height="22.37" fill="#ffe2e2"/><rect x="89.06" y="649.35" width="22.26" height="22.37" fill="#d7d7ff"/><rect x="111.33" y="649.35" width="22.26" height="22.37" fill="#a4a4ff"/><rect x="133.59" y="649.35" width="22.26" height="22.37" fill="#ababff"/><rect x="155.85" y="649.35" width="22.26" height="22.37" fill="#9595ff"/><rect x="178.11" y="649.35" width="22.26" height="22.37" fill="#9d9dff"/><rect x="200.38" y="649.35" width="22.26" height="22.37" fill="#a4a4ff"/><rect x="222.64" y="649.35" width="22.26" height="22.37" fill="#e6e6ff"/><rect x="244.9" y="649.35" width="22.26" height="22.37" fill="#ffcccc"/><rect x="267.16" y="649.35" width="22.26" height="22.37" fill="#ffd3d3"/><rect x="289.43" y="649.35" width="22.26" height="22.37" fill="#ffd7d7"/><rect x="311.69" y="649.35" width="22.26" height="22.37" fill="#ffbdbd"/><rect x="333.95" y="649.35" width="22.26" height="22.37" fill="#ff8787"/><rect x="356.21" y="649.35" width="22.26" height="22.37" fill="#ffa0a0"/><rect x="378.48" y="649.35" width="22.26" height="22.37" fill="#ffe3e3"/><rect x="400.74" y="649.35" width="22.26" height="22.37" fill="#ffffff"/><rect x="423" y="649.35" width="22.26" height="22.37" fill="#e3e3ff"/><rect x="445.26" y="649.35" width="22.26" height="22.37" fill="#bfbfff"/><rect x="467.53" y="649.35" width="22.26" height="22.37" fill="#a8a8ff"/><rect x="489.79" y="649.35" width="22.26" height="22.37" fill="#bbbbff"/><rect x="512.05" y="649.35" width="22.26" height="22.37" fill="#ebebff"/><rect x="534.31" y="649.35" width="22.26" height="22.37" fill="#e3e3ff"/><rect x="556.58" y="649.35" width="22.26" height="22.37" fill="#ffd7d7"/><rect x="578.84" y="649.35" width="22.26" height="22.37" fill="#ffd7d7"/><rect x="66.8" y="671.72" width="22.26" height="22.37" fill="#ffe3e3"/><rect x="89.06" y="671.72" width="22.26" height="22.37" fill="#ffffff"/><rect x="111.33" y="671.72" width="22.26" height="22.37" fill="#d7d7ff"/><rect x="133.59" y="671.72" width="22.26" height="22.37" fill="#e3e3ff"/><rect x="155.85" y="671.72" width="22.26" height="22.37" fill="#dbdbff"/><rect x="178.11" y="671.72" width="22.26" height="22.37" fill="#dfdfff"/><rect x="200.38" y="671.72" width="22.26" height="22.37" fill="#dbdbff"/><rect x="222.64" y="671.72" width="22.26" height="22.37" fill="#e3e3ff"/><rect x="244.9" y="671.72" width="22.26" height="22.37" fill="#ffffff"/><rect x="267.16" y="671.72" width="22.26" height="22.37" fill="#e7e7ff"/><rect x="289.43" y="671.72" width="22.26" height="22.37" fill="#e3e3ff"/><rect x="311.69" y="671.72" width="22.26" height="22.37" fill="#f3f3ff"/><rect x="333.95" y="671.72" width="22.26" height="22.37" fill="#ffe7e7"/><rect x="356.21" y="671.72" width="22.26" height="22.37" fill="#fff3f3"/><rect x="378.48" y="671.72" width="22.26" height="22.37" fill="#dbdbff"/><rect x="400.74" y="671.72" width="22.26" height="22.37" fill="#cfcfff"/><rect x="423" y="671.72" width="22.26" height="22.37" fill="#dfdfff"/><rect x="445.26" y="671.72" width="22.26" height="22.37" fill="#cfcfff"/><rect x="467.53" y="671.72" width="22.26" height="22.37" fill="#c3c3ff"/><rect x="489.79" y="671.72" width="22.26" height="22.37" fill="#cbcbff"/><rect x="512.05" y="671.72" width="22.26" height="22.37" fill="#fbfbff"/><rect x="534.31" y="671.72" width="22.26" height="22.37" fill="#ffe7e7"/><rect x="556.58" y="671.72" width="22.26" height="22.37" fill="#ffcbcb"/><rect x="578.84" y="671.72" width="22.26" height="22.37" fill="#ffcbcb"/><rect x="66.8" y="694.08" width="22.26" height="22.37" fill="#ffbbbb"/><rect x="89.06" y="694.08" width="22.26" height="22.37" fill="#ffd7d7"/><rect x="111.33" y="694.08" width="22.26" height="22.37" fill="#ffefef"/><rect x="133.59" y="694.08" width="22.26" height="22.37" fill="#ffffff"/><rect x="155.85" y="694.08" width="22.26" height="22.37" fill="#fff3f3"/><rect x="178.11" y="694.08" width="22.26" height="22.37" fill="#fff3f3"/><rect x="200.38" y="694.08" width="22.26" height="22.37" fill="#ffefef"/><rect x="222.64" y="694.08" width="22.26" height="22.37" fill="#e3e3ff"/><rect x="244.9" y="694.08" width="22.26" height="22.37" fill="#d7d7ff"/><rect x="267.16" y="694.08" width="22.26" height="22.37" fill="#a8a8ff"/><rect x="289.43" y="694.08" width="22.26" height="22.37" fill="#9292ff"/><rect x="311.69" y="694.08" width="22.26" height="22.37" fill="#9999ff"/><rect x="333.95" y="694.08" width="22.26" height="22.37" fill="#a8a8ff"/><rect x="356.21" y="694.08" width="22.26" height="22.37" fill="#9292ff"/><rect x="378.48" y="694.08" width="22.26" height="22.37" fill="#7c7cff"/><rect x="400.74" y="694.08" width="22.26" height="22.37" fill="#a8a8ff"/><rect x="423" y="694.08" width="22.26" height="22.37" fill="#ebebff"/><rect x="445.26" y="694.08" width="22.26" height="22.37" fill="#ffe3e3"/><rect x="467.53" y="694.08" width="22.26" height="22.37" fill="#fff3f3"/><rect x="489.79" y="694.08" width="22.26" height="22.37" fill="#ffffff"/><rect x="512.05" y="694.08" width="22.26" height="22.37" fill="#ffffff"/><rect x="534.31" y="694.08" width="22.26" height="22.37" fill="#fff3f3"/><rect x="556.58" y="694.08" width="22.26" height="22.37" fill="#ffbbbb"/><rect x="578.84" y="694.08" width="22.26" height="22.37" fill="#ffbbbb"/><rect x="66.8" y="716.45" width="22.26" height="22.37" fill="#ff7575"/><rect x="89.06" y="716.45" width="22.26" height="22.37" fill="#ff9292"/><rect x="111.33" y="716.45" width="22.26" height="22.37" fill="#ffbbbb"/><rect x="133.59" y="716.45" width="22.26" height="22.37" fill="#ffd7d7"/><rect x="155.85" y="716.45" width="22.26" height="22.37" fill="#ffbfbf"/><rect x="178.11" y="716.45" width="22.26" height="22.37" fill="#ffcbcb"/><rect x="200.38" y="716.45" width="22.26" height="22.37" fill="#ffc3c3"/><rect x="222.64" y="716.45" width="22.26" height="22.37" fill="#e3e3ff"/><rect x="244.9" y="716.45" width="22.26" height="22.37" fill="#b7b7ff"/><rect x="267.16" y="716.45" width="22.26" height="22.37" fill="#8383ff"/><rect x="289.43" y="716.45" width="22.26" height="22.37" fill="#6a6aff"/><rect x="311.69" y="716.45" width="22.26" height="22.37" fill="#5757ff"/><rect x="333.95" y="716.45" width="22.26" height="22.37" fill="#3e3eff"/><rect x="356.21" y="716.45" width="22.26" height="22.37" fill="#3a3aff"/><rect x="378.48" y="716.45" width="22.26" height="22.37" fill="#4242ff"/><rect x="400.74" y="716.45" width="22.26" height="22.37" fill="#8787ff"/><rect x="423" y="716.45" width="22.26" height="22.37" fill="#efefff"/><rect x="445.26" y="716.45" width="22.26" height="22.37" fill="#ffc3c3"/><rect x="467.53" y="716.45" width="22.26" height="22.37" fill="#ffa0a0"/><rect x="489.79" y="716.45" width="22.26" height="22.37" fill="#ffdfdf"/><rect x="512.05" y="716.45" width="22.26" height="22.37" fill="#ffffff"/><rect x="534.31" y="716.45" width="22.26" height="22.37" fill="#ffcfcf"/><rect x="556.58" y="716.45" width="22.26" height="22.37" fill="#ff8383"/><rect x="578.84" y="716.45" width="22.26" height="22.37" fill="#ff4545"/><rect x="66.8" y="738.82" width="22.26" height="22.37" fill="#ff8080"/><rect x="89.06" y="738.82" width="22.26" height="22.37" fill="#ff5454"/><rect x="111.33" y="738.82" width="22.26" height="22.37" fill="#ff8383"/><rect x="133.59" y="738.82" width="22.26" height="22.37" fill="#ffcbcb"/><rect x="155.85" y="738.82" width="22.26" height="22.37" fill="#ffb3b3"/><rect x="178.11" y="738.82" width="22.26" height="22.37" fill="#ffdbdb"/><rect x="200.38" y="738.82" width="22.26" height="22.37" fill="#ffdbdb"/><rect x="222.64" y="738.82" width="22.26" height="22.37" fill="#cfcfff"/><rect x="244.9" y="738.82" width="22.26" height="22.37" fill="#9595ff"/><rect x="267.16" y="738.82" width="22.26" height="22.37" fill="#6262ff"/><rect x="289.43" y="738.82" width="22.26" height="22.37" fill="#4242ff"/><rect x="311.69" y="738.82" width="22.26" height="22.37" fill="#1818ff"/><rect x="333.95" y="738.82" width="22.26" height="22.37" fill="#0000ff"/><rect x="356.21" y="738.82" width="22.26" height="22.37" fill="#0000ff"/><rect x="378.48" y="738.82" width="22.26" height="22.37" fill="#2828ff"/><rect x="400.74" y="738.82" width="22.26" height="22.37" fill="#8080ff"/><rect x="423" y="738.82" width="22.26" height="22.37" fill="#efefff"/><rect x="445.26" y="738.82" width="22.26" height="22.37" fill="#ffb3b3"/><rect x="467.53" y="738.82" width="22.26" height="22.37" fill="#ff8787"/><rect x="489.79" y="738.82" width="22.26" height="22.37" fill="#ffc3c3"/><rect x="512.05" y="738.82" width="22.26" height="22.37" fill="#ffffff"/><rect x="534.31" y="738.82" width="22.26" height="22.37" fill="#ffffff"/><rect x="556.58" y="738.82" width="22.26" height="22.37" fill="#fff3f3"/><rect x="578.84" y="738.82" width="22.26" height="22.37" fill="#ff7878"/><rect x="66.8" y="761.19" width="22.26" height="22.37" fill="#fff3f3"/><rect x="89.06" y="761.19" width="22.26" height="22.37" fill="#ffbbbb"/><rect x="111.33" y="761.19" width="22.26" height="22.37" fill="#ffbbbb"/><rect x="133.59" y="761.19" width="22.26" height="22.37" fill="#ffc3c3"/><rect x="155.85" y="761.19" width="22.26" height="22.37" fill="#ff9292"/><rect x="178.11" y="761.19" width="22.26" height="22.37" fill="#ffbbbb"/><rect x="200.38" y="761.19" width="22.26" height="22.37" fill="#ffcbcb"/><rect x="222.64" y="761.19" width="22.26" height="22.37" fill="#d7d7ff"/><rect x="244.9" y="761.19" width="22.26" height="22.37" fill="#9999ff"/><rect x="267.16" y="761.19" width="22.26" height="22.37" fill="#5757ff"/><rect x="289.43" y="761.19" width="22.26" height="22.37" fill="#2c2cff"/><rect x="311.69" y="761.19" width="22.26" height="22.37" fill="#0909ff"/><rect x="333.95" y="761.19" width="22.26" height="22.37" fill="#0909ff"/><rect x="356.21" y="761.19" width="22.26" height="22.37" fill="#0909ff"/><rect x="378.48" y="761.19" width="22.26" height="22.37" fill="#0f0fff"/><rect x="400.74" y="761.19" width="22.26" height="22.37" fill="#5757ff"/><rect x="423" y="761.19" width="22.26" height="22.37" fill="#c3c3ff"/><rect x="445.26" y="761.19" width="22.26" height="22.37" fill="#ffe3e3"/><rect x="467.53" y="761.19" width="22.26" height="22.37" fill="#ffb3b3"/><rect x="489.79" y="761.19" width="22.26" height="22.37" fill="#ffffff"/><rect x="512.05" y="761.19" width="22.26" height="22.37" fill="#cbcbff"/><rect x="534.31" y="761.19" width="22.26" height="22.37" fill="#dbdbff"/><rect x="556.58" y="761.19" width="22.26" height="22.37" fill="#bfbfff"/><rect x="578.84" y="761.19" width="22.26" height="22.37" fill="#fff3f3"/><rect x="66.8" y="783.56" width="22.26" height="22.37" fill="#bbbbff"/><rect x="89.06" y="783.56" width="22.26" height="22.37" fill="#ffe3e3"/><rect x="111.33" y="783.56" width="22.26" height="22.37" fill="#ffc3c3"/><rect x="133.59" y="783.56" width="22.26" height="22.37" fill="#ffcbcb"/><rect x="155.85" y="783.56" width="22.26" height="22.37" fill="#ff9999"/><rect x="178.11" y="783.56" width="22.26" height="22.37" fill="#ffabab"/><rect x="200.38" y="783.56" width="22.26" height="22.37" fill="#ffdbdb"/><rect x="222.64" y="783.56" width="22.26" height="22.37" fill="#cbcbff"/><rect x="244.9" y="783.56" width="22.26" height="22.37" fill="#8787ff"/><rect x="267.16" y="783.56" width="22.26" height="22.37" fill="#5050ff"/><rect x="289.43" y="783.56" width="22.26" height="22.37" fill="#0f0fff"/><rect x="311.69" y="783.56" width="22.26" height="22.37" fill="#0909ff"/><rect x="333.95" y="783.56" width="22.26" height="22.37" fill="#0909ff"/><rect x="356.21" y="783.56" width="22.26" height="22.37" fill="#0909ff"/><rect x="378.48" y="783.56" width="22.26" height="22.37" fill="#0909ff"/><rect x="400.74" y="783.56" width="22.26" height="22.37" fill="#2424ff"/><rect x="423" y="783.56" width="22.26" height="22.37" fill="#8080ff"/><rect x="445.26" y="783.56" width="22.26" height="22.37" fill="#dfdfff"/><rect x="467.53" y="783.56" width="22.26" height="22.37" fill="#fff3f3"/><rect x="489.79" y="783.56" width="22.26" height="22.37" fill="#fffbfb"/><rect x="512.05" y="783.56" width="22.26" height="22.37" fill="#d7d7ff"/><rect x="534.31" y="783.56" width="22.26" height="22.37" fill="#9292ff"/><rect x="556.58" y="783.56" width="22.26" height="22.37" fill="#6a6aff"/><rect x="578.84" y="783.56" width="22.26" height="22.37" fill="#7575ff"/><rect x="66.8" y="805.93" width="22.26" height="22.37" fill="#9292ff"/><rect x="89.06" y="805.93" width="22.26" height="22.37" fill="#ffd7d7"/><rect x="111.33" y="805.93" width="22.26" height="22.37" fill="#ff6a6a"/><rect x="133.59" y="805.93" width="22.26" height="22.37" fill="#ff5050"/><rect x="155.85" y="805.93" width="22.26" height="22.37" fill="#ff9292"/><rect x="178.11" y="805.93" width="22.26" height="22.37" fill="#ffabab"/><rect x="200.38" y="805.93" width="22.26" height="22.37" fill="#ffd7d7"/><rect x="222.64" y="805.93" width="22.26" height="22.37" fill="#efefff"/><rect x="244.9" y="805.93" width="22.26" height="22.37" fill="#9999ff"/><rect x="267.16" y="805.93" width="22.26" height="22.37" fill="#5050ff"/><rect x="289.43" y="805.93" width="22.26" height="22.37" fill="#1818ff"/><rect x="311.69" y="805.93" width="22.26" height="22.37" fill="#0f0fff"/><rect x="333.95" y="805.93" width="22.26" height="22.37" fill="#0404ff"/><rect x="356.21" y="805.93" width="22.26" height="22.37" fill="#0404ff"/><rect x="378.48" y="805.93" width="22.26" height="22.37" fill="#0404ff"/><rect x="400.74" y="805.93" width="22.26" height="22.37" fill="#3333ff"/><rect x="423" y="805.93" width="22.26" height="22.37" fill="#6262ff"/><rect x="445.26" y="805.93" width="22.26" height="22.37" fill="#8787ff"/><rect x="467.53" y="805.93" width="22.26" height="22.37" fill="#a8a8ff"/><rect x="489.79" y="805.93" width="22.26" height="22.37" fill="#afafff"/><rect x="512.05" y="805.93" width="22.26" height="22.37" fill="#9292ff"/><rect x="534.31" y="805.93" width="22.26" height="22.37" fill="#7575ff"/><rect x="556.58" y="805.93" width="22.26" height="22.37" fill="#5757ff"/><rect x="578.84" y="805.93" width="22.26" height="22.37" fill="#5757ff"/></g>
<rect x="66.8" y="537.5" width="534.3" height="290.8" fill="none" stroke="#000" stroke-opacity="0.5" stroke-width="1.5"/>
<line x1="66.8" x2="69.8" y1="548.68" y2="548.68" stroke="#000" stroke-opacity="0.55" stroke-width="1.1"/>
<text x="63.2" y="556.86" text-anchor="end" font-size="22.7">60</text>
<line x1="66.8" x2="69.8" y1="593.42" y2="593.42" stroke="#000" stroke-opacity="0.55" stroke-width="1.1"/>
<text x="63.2" y="601.6" text-anchor="end" font-size="22.7">40</text>
<line x1="66.8" x2="69.8" y1="638.16" y2="638.16" stroke="#000" stroke-opacity="0.55" stroke-width="1.1"/>
<text x="63.2" y="646.33" text-anchor="end" font-size="22.7">20</text>
<line x1="66.8" x2="69.8" y1="682.9" y2="682.9" stroke="#000" stroke-opacity="0.55" stroke-width="1.1"/>
<text x="63.2" y="691.07" text-anchor="end" font-size="22.7">0</text>
<line x1="66.8" x2="69.8" y1="727.64" y2="727.64" stroke="#000" stroke-opacity="0.55" stroke-width="1.1"/>
<text x="63.2" y="735.81" text-anchor="end" font-size="22.7">-20</text>
<line x1="66.8" x2="69.8" y1="772.38" y2="772.38" stroke="#000" stroke-opacity="0.55" stroke-width="1.1"/>
<text x="63.2" y="780.55" text-anchor="end" font-size="22.7">-40</text>
<line x1="66.8" x2="69.8" y1="817.12" y2="817.12" stroke="#000" stroke-opacity="0.55" stroke-width="1.1"/>
<text x="63.2" y="825.29" text-anchor="end" font-size="22.7">-60</text>
<line x1="66.8" x2="66.8" y1="828.3" y2="825.3" stroke="#000" stroke-opacity="0.55" stroke-width="1.1"/>
<text x="66.8" y="850" text-anchor="middle" font-size="22.4">24</text>
<line x1="133.59" x2="133.59" y1="828.3" y2="825.3" stroke="#000" stroke-opacity="0.55" stroke-width="1.1"/>
<text x="133.59" y="850" text-anchor="middle" font-size="22.4">21</text>
<line x1="200.38" x2="200.38" y1="828.3" y2="825.3" stroke="#000" stroke-opacity="0.55" stroke-width="1.1"/>
<text x="200.38" y="850" text-anchor="middle" font-size="22.4">18</text>
<line x1="267.16" x2="267.16" y1="828.3" y2="825.3" stroke="#000" stroke-opacity="0.55" stroke-width="1.1"/>
<text x="267.16" y="850" text-anchor="middle" font-size="22.4">15</text>
<line x1="333.95" x2="333.95" y1="828.3" y2="825.3" stroke="#000" stroke-opacity="0.55" stroke-width="1.1"/>
<text x="333.95" y="850" text-anchor="middle" font-size="22.4">12</text>
<line x1="400.74" x2="400.74" y1="828.3" y2="825.3" stroke="#000" stroke-opacity="0.55" stroke-width="1.1"/>
<text x="400.74" y="850" text-anchor="middle" font-size="22.4">9</text>
<line x1="467.52" x2="467.52" y1="828.3" y2="825.3" stroke="#000" stroke-opacity="0.55" stroke-width="1.1"/>
<text x="467.52" y="850" text-anchor="middle" font-size="22.4">6</text>
<line x1="534.31" x2="534.31" y1="828.3" y2="825.3" stroke="#000" stroke-opacity="0.55" stroke-width="1.1"/>
<text x="534.31" y="850" text-anchor="middle" font-size="22.4">3</text>
<line x1="601.1" x2="601.1" y1="828.3" y2="825.3" stroke="#000" stroke-opacity="0.55" stroke-width="1.1"/>
<text x="601.1" y="850" text-anchor="middle" font-size="22.4">0</text>
<text x="333.95" y="532.3" text-anchor="middle" font-size="23.9">Northward velocity</text>
<text x="333.95" y="875.4" text-anchor="middle" font-size="24.1">Local time</text>
<text transform="translate(19.3 682.9) rotate(-90)" text-anchor="middle" font-size="23.85">Latitude</text>
<rect x="66.8" y="891.5" width="533.6" height="10.8" fill="url(#cbg)" stroke="#000" stroke-opacity="0.55" stroke-width="1.1"/>
<line x1="104.91" x2="104.91" y1="902.3" y2="899.3" stroke="#000" stroke-opacity="0.55" stroke-width="1.1"/>
<text x="104.91" y="922.8" text-anchor="middle" font-size="22.7">-6</text>
<line x1="219.26" x2="219.26" y1="902.3" y2="899.3" stroke="#000" stroke-opacity="0.55" stroke-width="1.1"/>
<text x="219.26" y="922.8" text-anchor="middle" font-size="22.7">-3</text>
<line x1="333.6" x2="333.6" y1="902.3" y2="899.3" stroke="#000" stroke-opacity="0.55" stroke-width="1.1"/>
<text x="333.6" y="922.8" text-anchor="middle" font-size="22.7">0</text>
<line x1="447.94" x2="447.94" y1="902.3" y2="899.3" stroke="#000" stroke-opacity="0.55" stroke-width="1.1"/>
<text x="447.94" y="922.8" text-anchor="middle" font-size="22.7">3</text>
<line x1="562.29" x2="562.29" y1="902.3" y2="899.3" stroke="#000" stroke-opacity="0.55" stroke-width="1.1"/>
<text x="562.29" y="922.8" text-anchor="middle" font-size="22.7">6</text>
<text x="333.6" y="949.6" text-anchor="middle" font-size="23.9">(m/s)</text>
<text x="675" y="24.9" style="font-family:'Liberation Sans',Arial,sans-serif;font-weight:bold;font-size:33px;fill:#000">b</text>
<rect x="727.2" y="69" width="141.59" height="359.8" fill="#f2f2f2"/>
<rect x="1127.6" y="69" width="128" height="359.8" fill="#f2f2f2"/>
<g clip-path="url(#cq1)" fill="#111"><polygon points="737.14,94.04 729.02,104.46 727.51,102.77 724.58,111.9 732.72,106.83 730.72,105.78 738.83,95.36"/><polygon points="758.61,95.21 768.49,113.36 766.35,114.08 773.55,120.4 772.14,110.92 770.38,112.33 760.5,94.19"/><polygon points="780.35,95.45 787.34,102.6 785.47,103.87 794.12,108 790.19,99.26 788.88,101.1 781.89,93.95"/><polygon points="802.69,95.78 807.89,95.78 807.49,98 816.49,94.7 807.49,91.4 807.89,93.62 802.69,93.62"/><polygon points="824.67,95.6 825,95.44 825.54,97.45 831.75,91.2 822.97,91.95 824.17,93.65 823.84,93.8"/><polygon points="846.06,95.36 846.3,95.27 846.55,96.72 851.32,92.7 845.09,92.68 845.83,93.95 845.58,94.04"/><polygon points="868.46,94.7 868.46,93.3 870.69,93.7 867.39,84.7 864.09,93.7 866.31,93.3 866.31,94.7"/><polygon points="889.96,94.32 883.98,78.37 886.21,77.97 879.96,70.7 880.03,80.29 881.97,79.13 887.95,95.08"/><polygon points="911.58,94.53 908.66,76.52 910.92,76.56 906.22,68.2 904.41,77.61 906.54,76.86 909.46,94.87"/><polygon points="933.16,94.75 933.57,85.84 935.78,86.34 932.89,77.2 929.18,86.04 931.42,85.74 931.02,94.65"/><polygon points="954.73,94.76 954.95,90.95 957.14,91.47 954.36,82.3 950.56,91.1 952.8,90.83 952.58,94.64"/><polygon points="976.3,94.76 976.76,85.84 978.96,86.36 976.12,77.2 972.37,86.02 974.61,85.73 974.15,94.64"/><polygon points="997.83,94.44 992.65,73.97 994.9,73.81 989.49,65.9 988.5,75.43 990.56,74.5 995.75,94.96"/><polygon points="1019.37,95.07 1020.72,91.35 1022.68,92.49 1022.66,82.9 1016.48,90.23 1018.7,90.61 1017.35,94.33"/><polygon points="1040.34,95.6 1040.68,95.44 1041.21,97.45 1047.43,91.2 1038.64,91.95 1039.84,93.65 1039.51,93.8"/><polygon points="1061.49,95.42 1061.76,95.42 1061.49,96.9 1067.49,94.7 1061.49,92.5 1061.76,93.98 1061.49,93.98"/><circle cx="1083.06" cy="94.7" r="0.9" fill-opacity="0.55"/><polygon points="1103.73,94.7 1103.73,95.03 1101.88,94.7 1104.63,102.2 1107.38,94.7 1105.52,95.03 1105.52,94.7"/><polygon points="1125.27,94.15 1124.63,95.24 1122.91,93.77 1121.2,103.2 1128.6,97.12 1126.48,96.33 1127.12,95.25"/><polygon points="1148.3,93.8 1147.97,93.6 1149.41,91.95 1140.26,90.2 1146.11,97.45 1146.89,95.4 1147.23,95.6"/><polygon points="1170.4,94.57 1169.66,88.7 1171.92,88.82 1167.53,80.3 1165.37,89.64 1167.53,88.97 1168.26,94.83"/><polygon points="1191.92,95.05 1193.74,89.69 1195.72,90.78 1195.5,81.2 1189.47,88.65 1191.71,88.99 1189.88,94.35"/><polygon points="1213.37,94.12 1212.54,92.84 1214.63,91.96 1206.97,86.2 1209.08,95.55 1210.73,94 1211.56,95.28"/><polygon points="1233.78,93.66 1223.83,96.1 1223.68,93.85 1215.73,99.2 1225.26,100.26 1224.34,98.19 1234.29,95.74"/><polygon points="736.98,120.79 742.25,134.28 740.03,134.72 746.38,141.9 746.18,132.32 744.26,133.5 738.98,120.01"/><polygon points="758.84,121.21 784.28,143.53 782.51,144.94 791.45,148.4 786.86,139.98 785.7,141.92 760.26,119.59"/><polygon points="780.53,121.3 801.55,135.16 799.99,136.8 809.32,139 803.62,131.29 802.73,133.37 781.71,119.5"/><polygon points="802.17,121.34 813.73,127.7 812.31,129.46 821.79,130.9 815.49,123.67 814.77,125.81 803.2,119.46"/><polygon points="823.93,120.64 824.02,120.76 823.26,121.13 826.25,123.1 825.24,119.67 824.66,120.28 824.58,120.16"/><polygon points="845.28,119.92 845.11,120.12 844.17,118.93 841.82,124.9 847.47,121.87 846.18,121.08 846.36,120.88"/><polygon points="868.22,120.34 868.2,120.03 869.95,120.22 866.89,113.4 864.82,120.58 866.53,120.15 866.55,120.46"/><polygon points="890.03,120.42 890.15,114.72 892.37,115.17 889.26,106.1 885.77,115.03 888,114.68 887.88,120.38"/><polygon points="911.6,120.38 911.35,106.48 913.58,106.84 910.12,97.9 906.98,106.96 909.2,106.52 909.45,120.42"/><polygon points="933.13,120.15 929.45,104.81 931.7,104.68 926.39,96.7 925.29,106.22 927.36,105.31 931.04,120.65"/><polygon points="954.71,120.18 951.7,106.09 953.96,106.01 948.86,97.9 947.51,107.39 949.6,106.54 952.61,120.62"/><polygon points="976.3,120.48 977.64,102.86 979.83,103.43 977.22,94.2 973.25,102.92 975.5,102.69 974.15,120.32"/><polygon points="997.83,120.69 1002.49,104.17 1004.52,105.16 1003.79,95.6 998.17,103.37 1000.42,103.58 995.76,120.11"/><polygon points="1019.38,120.73 1022.63,110.71 1024.62,111.78 1024.26,102.2 1018.34,109.74 1020.58,110.05 1017.34,120.07"/><polygon points="1041,120.43 1041.03,119.53 1043.24,120 1040.23,110.9 1036.64,119.79 1038.88,119.46 1038.85,120.37"/><polygon points="1062.03,119.98 1061.88,119.78 1063.14,119.12 1057.99,115.9 1059.84,121.68 1060.8,120.62 1060.96,120.82"/><circle cx="1083.06" cy="120.4" r="0.9" fill-opacity="0.55"/><polygon points="1104.81,120.04 1104.67,119.98 1105.18,119.3 1101.63,118.9 1104.08,121.5 1104.32,120.69 1104.45,120.76"/><polygon points="1126.55,119.5 1126.22,119.37 1127.3,117.65 1118.7,117.4 1125.1,123.15 1125.5,121.16 1125.84,121.3"/><polygon points="1148.62,119.75 1140.9,109.52 1142.92,108.5 1134.86,103.3 1137.65,112.47 1139.18,110.81 1146.91,121.05"/><polygon points="1170.37,120.12 1167.7,110.22 1169.96,110.03 1164.43,102.2 1163.58,111.75 1165.63,110.78 1168.29,120.68"/><polygon points="1191.79,119.8 1183.27,107.05 1185.34,106.15 1177.6,100.5 1179.86,109.82 1181.48,108.25 1190,121"/><polygon points="1212.8,119.38 1203.17,116.19 1204.25,114.2 1194.67,114.5 1202.17,120.46 1202.49,118.23 1212.13,121.42"/><polygon points="1233.46,119.49 1227.16,123.43 1226.32,121.33 1220.43,128.9 1229.81,126.93 1228.3,125.25 1234.6,121.31"/><polygon points="737.05,146.64 747.37,164.58 745.24,165.34 752.58,171.5 750.96,162.05 749.23,163.51 738.92,145.56"/><polygon points="758.74,146.8 778.7,169.81 776.76,170.97 785.15,175.6 781.74,166.64 780.33,168.4 760.36,145.4"/><polygon points="780.36,146.86 797.88,164.38 796.02,165.67 804.72,169.7 800.69,161 799.4,162.86 781.88,145.34"/><polygon points="801.92,146.85 816.48,161.63 814.62,162.91 823.29,167 819.32,158.27 818.01,160.12 803.45,145.35"/><polygon points="823.37,146.71 829.11,155.11 827.05,156.03 834.85,161.6 832.5,152.31 830.89,153.89 825.14,145.49"/><polygon points="844.9,146.66 847.43,150.81 845.32,151.63 852.82,157.6 850.96,148.2 849.27,149.69 846.74,145.54"/><circle cx="867.39" cy="146.1" r="0.9" fill-opacity="0.55"/><circle cx="888.96" cy="146.1" r="0.9" fill-opacity="0.55"/><polygon points="911.36,145.62 911.18,145.31 913.09,144.63 906.52,139.1 907.96,147.57 909.51,146.27 909.69,146.58"/><polygon points="933.08,145.69 929.97,138.14 932.17,137.66 925.69,130.6 926.07,140.18 927.98,138.96 931.1,146.51"/><polygon points="954.66,145.72 948.82,130.36 951.04,129.94 944.76,122.7 944.87,132.29 946.81,131.12 952.65,146.48"/><polygon points="976.3,146.14 976.89,129.73 979.1,130.21 976.12,121.1 972.5,129.98 974.74,129.66 974.15,146.06"/><polygon points="997.84,146.33 1000.98,132.23 1003.06,133.1 1001.79,123.6 996.62,131.67 998.88,131.76 995.74,145.87"/><polygon points="1019.43,146.2 1020.64,133.06 1022.82,133.66 1020.36,124.4 1016.25,133.06 1018.5,132.87 1017.29,146"/><polygon points="1040.99,145.94 1039.84,138.05 1042.09,138.13 1037.53,129.7 1035.56,139.08 1037.71,138.37 1038.86,146.26"/><polygon points="1062.52,145.79 1061.22,141.52 1063.47,141.25 1057.69,133.6 1057.15,143.17 1059.17,142.14 1060.47,146.41"/><polygon points="1083.36,146.1 1083.36,145.99 1083.98,146.1 1083.06,143.6 1082.14,146.1 1082.76,145.99 1082.76,146.1"/><polygon points="1104.63,145.03 1101.63,145.03 1102.03,142.8 1093.03,146.1 1102.03,149.4 1101.63,147.18 1104.63,147.18"/><polygon points="1126.25,145.03 1117.94,144.58 1118.46,142.38 1109.3,145.2 1118.11,148.97 1117.83,146.73 1126.14,147.17"/><polygon points="1148.54,145.35 1140.81,137.34 1142.69,136.09 1134.06,131.9 1137.94,140.67 1139.26,138.84 1146.99,146.85"/><polygon points="1170.38,145.88 1168.85,138.59 1171.11,138.53 1166.03,130.4 1164.65,139.89 1166.75,139.04 1168.28,146.32"/><polygon points="1191.83,145.57 1185.89,135.14 1188.02,134.39 1180.7,128.2 1182.29,137.65 1184.02,136.2 1189.96,146.63"/><polygon points="1212.8,145.08 1204.77,142.45 1205.85,140.46 1196.27,140.8 1203.79,146.73 1204.1,144.5 1212.13,147.12"/><polygon points="1233.1,145.56 1230.81,149.52 1229.09,148.06 1227.43,157.5 1234.8,151.36 1232.67,150.6 1234.96,146.64"/><polygon points="737.15,172.48 747.13,184.8 745.15,185.89 753.38,190.8 750.28,181.73 748.8,183.44 738.82,171.12"/><polygon points="758.7,172.46 773.63,191.67 771.62,192.72 779.75,197.8 776.84,188.67 775.32,190.35 760.4,171.14"/><polygon points="780.25,172.43 794.1,191.56 792.07,192.55 800.02,197.9 797.41,188.68 795.85,190.3 781.99,171.17"/><polygon points="801.83,172.45 818.84,194.89 816.82,195.92 824.89,201.1 822.08,191.93 820.55,193.6 803.54,171.15"/><polygon points="823.35,172.38 832.5,186.64 830.41,187.51 838.05,193.3 835.97,183.94 834.31,185.48 825.16,171.22"/><polygon points="844.82,172.19 848.73,182.36 846.51,182.78 852.82,190 852.67,180.42 850.74,181.59 846.82,171.41"/><polygon points="866.55,171.2 866.33,171.51 864.82,169.97 862.39,178.8 869.95,173.63 868,172.71 868.22,172.4"/><polygon points="888.09,171.16 887.67,171.73 886.12,170.09 883.46,179.3 891.44,173.99 889.41,173 889.82,172.44"/><polygon points="910.52,170.73 908.62,170.73 909.02,168.5 900.02,171.8 909.02,175.1 908.62,172.88 910.52,172.88"/><polygon points="932.69,171.02 932.4,170.8 933.92,169.42 925.59,166.8 930.26,174.18 931.2,172.35 931.49,172.58"/><polygon points="954.71,171.6 953.12,163.25 955.38,163.22 950.46,155 948.9,164.46 951.01,163.65 952.6,172"/><polygon points="976.2,172.25 982.08,159.55 983.93,160.85 984.72,151.3 977.95,158.08 980.13,158.65 974.25,171.35"/><polygon points="997.71,172.36 1004.42,161.4 1006.11,162.9 1007.99,153.5 1000.48,159.45 1002.59,160.27 995.87,171.24"/><polygon points="1019.36,172.2 1022.82,163.67 1024.73,164.88 1025.06,155.3 1018.62,162.4 1020.83,162.86 1017.36,171.4"/><polygon points="1041,171.8 1041,169.1 1043.23,169.5 1039.93,160.5 1036.63,169.5 1038.85,169.1 1038.85,171.8"/><polygon points="1062.35,171.38 1062.2,171.06 1064.13,170.52 1057.99,164.6 1058.85,173.08 1060.48,171.9 1060.63,172.22"/><polygon points="1082.94,171.08 1082.68,171.13 1082.69,169.6 1077.06,172.8 1083.43,174 1082.91,172.56 1083.18,172.52"/><polygon points="1104.14,170.84 1097.78,174.11 1097.12,171.95 1090.63,179 1100.14,177.82 1098.77,176.02 1105.12,172.76"/><polygon points="1125.97,170.75 1111.98,173.75 1111.9,171.49 1103.8,176.6 1113.29,177.94 1112.43,175.85 1126.42,172.85"/><polygon points="1148.03,170.76 1138.06,168.2 1139,166.14 1129.46,167.1 1137.36,172.54 1137.53,170.28 1147.5,172.84"/><polygon points="1170.17,171.13 1165.24,164.95 1167.23,163.87 1159.03,158.9 1162.07,167.99 1163.56,166.29 1168.49,172.47"/><polygon points="1191.81,171.22 1187.02,163.68 1189.11,162.83 1181.5,157 1183.54,166.37 1185.2,164.84 1189.99,172.38"/><polygon points="1212.88,171.2 1212.66,171.05 1213.75,169.97 1207.47,168.3 1211.18,173.63 1211.83,172.24 1212.05,172.4"/><polygon points="1232.96,171.83 1233.01,173.73 1230.78,173.4 1234.33,182.3 1237.37,173.21 1235.16,173.67 1235.11,171.77"/><polygon points="737.16,198.19 744.77,207.37 742.8,208.48 751.08,213.3 747.88,204.27 746.42,205.99 738.81,196.81"/><polygon points="758.66,198.1 768.86,213.26 766.79,214.17 774.55,219.8 772.27,210.49 770.64,212.06 760.44,196.9"/><polygon points="780.23,198.1 790.43,213.26 788.36,214.17 796.12,219.8 793.83,210.49 792.21,212.06 782.01,196.9"/><polygon points="801.79,198.1 815.32,218.35 813.24,219.25 820.99,224.9 818.73,215.58 817.1,217.15 803.58,196.9"/><polygon points="823.36,198.1 834.09,214.24 832.02,215.13 839.75,220.8 837.52,211.48 835.88,213.04 825.15,196.9"/><polygon points="844.91,198.07 853.37,211.67 851.26,212.5 858.82,218.4 856.87,209.01 855.19,210.53 846.73,196.93"/><polygon points="866.31,197.5 866.31,198.9 864.09,198.5 867.39,207.5 870.69,198.5 868.46,198.9 868.46,197.5"/><polygon points="887.94,197.15 887.74,197.72 885.77,196.62 885.96,206.2 892.01,198.77 889.77,198.42 889.97,197.85"/><polygon points="910.67,196.44 908.69,196.15 909.4,194.01 900.02,196 908.47,200.54 908.38,198.28 910.37,198.56"/><polygon points="932.29,197.26 932.2,197.19 932.71,196.77 930.09,195.8 931.47,198.23 931.8,197.66 931.89,197.74"/><polygon points="954.73,197.55 954.85,194.84 957.06,195.34 954.16,186.2 950.46,195.05 952.7,194.74 952.58,197.45"/><polygon points="976.02,198.23 982.79,190.86 984.16,192.66 987.82,183.8 979.3,188.19 981.21,189.4 974.43,196.77"/><polygon points="997.69,198.09 1003.34,189.56 1004.97,191.13 1007.19,181.8 999.47,187.48 1001.55,188.38 995.9,196.91"/><polygon points="1019.22,198.14 1023.87,191.93 1025.41,193.58 1028.16,184.4 1020.13,189.63 1022.15,190.64 1017.5,196.86"/><polygon points="1040.73,198.16 1040.97,197.86 1042.38,199.52 1045.43,190.8 1037.47,195.48 1039.37,196.55 1039.13,196.84"/><circle cx="1061.49" cy="197.5" r="0.9" fill-opacity="0.55"/><polygon points="1082.23,196.84 1081.98,197.15 1080.49,195.48 1077.56,204.5 1085.63,199.52 1083.65,198.47 1083.9,198.16"/><polygon points="1103.79,196.83 1099.04,202.8 1097.55,201.1 1094.53,210.2 1102.71,205.21 1100.72,204.14 1105.47,198.17"/><polygon points="1125.7,196.55 1117.22,200.97 1116.55,198.81 1110.1,205.9 1119.6,204.66 1118.22,202.88 1126.69,198.45"/><polygon points="1147.54,196.45 1136.85,198.74 1136.77,196.48 1128.66,201.6 1138.16,202.94 1137.3,200.85 1147.99,198.55"/><polygon points="1169.77,196.52 1159.51,191.87 1160.79,190.01 1151.23,189.3 1158.07,196.02 1158.62,193.83 1168.89,198.48"/><polygon points="1191.4,196.55 1178.01,189.54 1179.4,187.75 1169.9,186.5 1176.34,193.6 1177.02,191.44 1190.4,198.45"/><polygon points="1213.12,196.66 1212.81,196.42 1214.48,194.93 1205.47,192 1210.45,200.07 1211.5,198.09 1211.81,198.34"/><polygon points="1232.97,197.5 1232.97,197.9 1230.77,197.5 1234.03,206.4 1237.3,197.5 1235.1,197.9 1235.1,197.5"/><polygon points="737.22,223.96 740.34,227.08 738.49,228.37 747.18,232.4 743.15,223.7 741.86,225.56 738.74,222.44"/><polygon points="758.71,223.88 764.21,230.68 762.23,231.77 770.45,236.7 767.36,227.62 765.88,229.33 760.39,222.52"/><polygon points="780.25,223.83 785.59,231.18 783.56,232.16 791.52,237.5 788.89,228.28 787.33,229.91 781.99,222.57"/><polygon points="801.76,223.74 807.92,234.31 805.8,235.09 813.19,241.2 811.5,231.76 809.78,233.23 803.61,222.66"/><polygon points="823.33,223.75 828.82,232.96 826.71,233.76 834.15,239.8 832.38,230.38 830.67,231.86 825.18,222.65"/><polygon points="844.83,223.63 849.21,233.74 847.01,234.25 853.62,241.2 853.07,231.63 851.19,232.88 846.81,222.77"/><polygon points="866.31,223.2 866.31,224.4 864.09,224 867.39,233 870.69,224 868.46,224.4 868.46,223.2"/><polygon points="888.72,222.36 888.41,222.45 888.22,220.63 881.96,225.2 889.69,225.77 888.88,224.13 889.19,224.04"/><polygon points="910.92,222.2 908.41,221.2 909.6,219.28 900.02,219 907.15,225.41 907.61,223.19 910.12,224.2"/><circle cx="932.09" cy="223.2" r="0.9" fill-opacity="0.55"/><polygon points="953.9,224.16 954.25,224.07 954.39,226.13 961.66,221.2 952.92,220.27 953.77,222.16 953.42,222.24"/><polygon points="975.6,224.21 982.43,221.69 982.82,223.91 990.12,217.7 980.54,217.72 981.68,219.67 974.85,222.19"/><polygon points="997.31,224.14 1006.06,219.36 1006.77,221.51 1013.09,214.3 1003.61,215.72 1005.03,217.48 996.28,222.26"/><polygon points="1018.93,224.11 1021.16,222.7 1022.01,224.8 1027.86,217.2 1018.49,219.22 1020.01,220.88 1017.79,222.29"/><polygon points="1040.17,224.16 1040.52,224.07 1040.66,226.13 1047.93,221.2 1039.19,220.27 1040.04,222.16 1039.69,222.24"/><circle cx="1061.49" cy="223.2" r="0.9" fill-opacity="0.55"/><circle cx="1083.06" cy="223.2" r="0.9" fill-opacity="0.55"/><polygon points="1103.73,222.72 1103.55,223.06 1101.88,221.73 1100.63,230.7 1107.38,224.67 1105.35,224.01 1105.52,223.68"/><polygon points="1125.72,222.24 1119.92,225.11 1119.29,222.94 1112.7,229.9 1122.22,228.85 1120.88,227.04 1126.67,224.16"/><polygon points="1147.68,222.13 1138.76,222.79 1138.99,220.54 1130.26,224.5 1139.48,227.12 1138.92,224.93 1147.84,224.27"/><polygon points="1169.78,222.22 1160.29,217.83 1161.58,215.98 1152.03,215.2 1158.81,221.97 1159.39,219.79 1168.88,224.18"/><polygon points="1191.35,222.23 1180.45,217.15 1181.75,215.3 1172.2,214.5 1178.97,221.29 1179.54,219.1 1190.44,224.17"/><polygon points="1212.69,222.15 1210.6,221.71 1211.45,219.62 1201.97,221 1210.1,226.08 1210.16,223.82 1212.24,224.25"/><polygon points="1233.32,222.6 1233.09,222.87 1231.83,221.37 1229.03,229.2 1236.23,225.03 1234.53,224.06 1234.75,223.8"/><polygon points="737.98,249.98 739.38,249.98 738.98,252.2 747.98,248.9 738.98,245.6 739.38,247.83 737.98,247.83"/><polygon points="759.31,249.8 759.65,249.88 758.82,251.65 767.05,250.9 760.28,246.15 760.12,248.09 759.79,248"/><polygon points="780.64,249.62 780.91,249.79 779.65,251.1 787.12,252.9 782.59,246.7 781.86,248.36 781.6,248.18"/><polygon points="801.67,249.26 801.81,249.65 799.58,250.01 805.69,257.4 805.8,247.81 803.84,248.93 803.7,248.54"/><polygon points="823.22,249.19 823.42,249.9 821.16,250.11 826.75,257.9 827.52,248.35 825.49,249.33 825.29,248.61"/><polygon points="844.75,248.9 844.75,250.1 842.52,249.7 845.82,258.7 849.12,249.7 846.9,250.1 846.9,248.9"/><polygon points="866.65,248.18 866.38,248.46 865.11,246.7 861.39,255.1 869.66,251.1 867.86,249.89 868.13,249.62"/><polygon points="888.73,247.85 887.65,248.08 887.58,245.82 879.46,250.9 888.94,252.28 888.09,250.18 889.18,249.95"/><polygon points="910.52,247.83 909.12,247.83 909.52,245.6 900.52,248.9 909.52,252.2 909.12,249.98 910.52,249.98"/><circle cx="932.09" cy="248.9" r="0.9" fill-opacity="0.55"/><polygon points="953.48,249.26 953.61,249.33 953.11,250 956.66,250.4 954.21,247.8 953.97,248.61 953.84,248.54"/><polygon points="975.16,249.92 975.54,249.94 975.04,252.02 983.72,249.4 975.41,245.78 975.66,247.91 975.28,247.88"/><polygon points="997.06,249.94 999.23,249.38 999.4,251.64 1007.29,246.2 997.75,245.25 998.7,247.3 996.52,247.86"/><polygon points="1018.36,249.8 1018.69,249.8 1018.36,251.65 1025.86,248.9 1018.36,246.15 1018.69,248 1018.36,248"/><polygon points="1039.72,249.86 1040.08,249.93 1039.3,251.83 1047.93,250.6 1040.55,245.97 1040.49,248.02 1040.13,247.94"/><polygon points="1061.08,249.62 1061.34,249.77 1060.21,251.1 1067.49,252.4 1062.78,246.7 1062.18,248.34 1061.91,248.18"/><polygon points="1082.7,249.62 1082.97,249.75 1081.96,251.1 1089.06,251.9 1084.16,246.7 1083.69,248.32 1083.42,248.18"/><circle cx="1104.63" cy="248.9" r="0.9" fill-opacity="0.55"/><polygon points="1125.84,247.89 1123.96,248.54 1123.6,246.31 1116.2,252.4 1125.78,252.54 1124.67,250.57 1126.55,249.91"/><polygon points="1147.78,247.83 1141.18,247.69 1141.63,245.48 1132.56,248.6 1141.5,252.08 1141.14,249.84 1147.74,249.97"/><polygon points="1169.52,247.84 1159.18,245.97 1159.97,243.85 1150.53,245.5 1158.8,250.35 1158.8,248.09 1169.14,249.96"/><polygon points="1191.19,247.87 1188.96,247.23 1189.96,245.2 1180.4,245.9 1188.15,251.55 1188.37,249.3 1190.6,249.93"/><circle cx="1212.47" cy="248.9" r="0.9" fill-opacity="0.55"/><polygon points="1233.73,249.92 1234.11,250.03 1233.12,252.02 1242.53,251.4 1234.95,245.78 1234.71,248 1234.33,247.88"/><polygon points="738.56,275.51 740.29,274.41 741.15,276.5 746.98,268.9 737.61,270.93 739.14,272.59 737.41,273.69"/><polygon points="760.15,275.49 760.49,275.26 761.39,277.34 767.05,269.6 757.73,271.85 759.3,273.48 758.95,273.71"/><polygon points="781.63,275.26 781.88,275.07 782.7,276.62 786.62,270.3 779.54,272.58 780.85,273.75 780.6,273.94"/><circle cx="802.69" cy="274.6" r="0.9" fill-opacity="0.55"/><circle cx="824.25" cy="274.6" r="0.9" fill-opacity="0.55"/><polygon points="845.7,274 845.48,274.05 845.45,272.77 840.82,275.6 846.19,276.43 845.72,275.24 845.94,275.2"/><polygon points="867.35,273.53 866.45,273.55 866.78,271.32 857.89,274.9 866.99,277.91 866.52,275.7 867.42,275.67"/><polygon points="888.94,273.53 880.04,273.63 880.42,271.4 871.46,274.8 880.49,278 880.07,275.78 888.97,275.67"/><polygon points="910.32,273.54 906.77,274.23 906.74,271.96 898.52,276.9 907.98,278.45 907.17,276.34 910.72,275.66"/><polygon points="931.58,274 931.35,274.19 930.51,272.77 927.09,278.9 933.67,276.43 932.38,275.39 932.6,275.2"/><polygon points="952.88,275.26 953.13,275.55 951.27,276.62 959.16,281.1 956.04,272.58 954.68,274.23 954.43,273.94"/><polygon points="974.45,275.35 975.95,276.89 974.08,278.16 982.72,282.3 978.81,273.55 977.49,275.39 975.99,273.85"/><polygon points="996.28,275.55 1001.4,278.29 1000,280.06 1009.49,281.4 1003.12,274.24 1002.42,276.39 997.3,273.65"/><polygon points="1017.82,275.53 1023.96,279.05 1022.51,280.78 1031.96,282.4 1025.79,275.06 1025.03,277.19 1018.89,273.67"/><polygon points="1039.36,275.51 1045.97,279.65 1044.45,281.32 1053.83,283.3 1047.95,275.73 1047.11,277.83 1040.5,273.69"/><polygon points="1060.99,275.55 1062.4,276.3 1061,278.08 1070.49,279.4 1064.11,272.25 1063.41,274.4 1062,273.65"/><polygon points="1083,274.96 1083.13,274.98 1082.88,275.7 1086.06,275.1 1083.24,273.5 1083.25,274.26 1083.12,274.24"/><polygon points="1105.05,274.42 1104.98,274.27 1105.91,274.05 1103.13,271.1 1103.35,275.15 1104.14,274.62 1104.21,274.78"/><polygon points="1126.26,273.53 1117.14,273.01 1117.67,270.81 1108.5,273.6 1117.3,277.4 1117.02,275.16 1126.14,275.67"/><polygon points="1147.93,273.54 1136.52,271.7 1137.27,269.57 1127.86,271.4 1136.23,276.09 1136.18,273.83 1147.59,275.66"/><polygon points="1169.49,273.54 1159.19,271.95 1159.93,269.81 1150.53,271.7 1158.92,276.33 1158.87,274.07 1169.17,275.66"/><circle cx="1190.9" cy="274.6" r="0.9" fill-opacity="0.55"/><polygon points="1212.64,275.66 1213.16,275.57 1213.13,277.83 1221.47,273.1 1212.05,271.32 1212.81,273.45 1212.29,273.54"/><polygon points="1234.19,275.66 1240.78,274.7 1240.7,276.96 1249.13,272.4 1239.75,270.43 1240.47,272.58 1233.88,273.54"/><polygon points="738.73,301.08 747.91,292.32 749.15,294.2 753.38,285.6 744.59,289.43 746.42,290.76 737.24,299.52"/><polygon points="760.36,301.01 768.65,291.65 770.05,293.42 773.55,284.5 765.11,289.05 767.04,290.22 758.75,299.59"/><polygon points="781.91,301.03 788.81,293.47 790.18,295.27 793.82,286.4 785.31,290.82 787.22,292.02 780.32,299.57"/><polygon points="803.5,300.72 803.65,300.42 805.18,301.58 806.19,293.5 800.19,299.02 802.03,299.58 801.87,299.88"/><polygon points="824.85,300 824.74,299.78 826.09,299.38 821.75,295.3 822.42,301.22 823.54,300.38 823.66,300.6"/><polygon points="846.26,299.32 842.51,297.64 843.78,295.77 834.22,295.1 841.08,301.79 841.63,299.6 845.38,301.28"/><polygon points="867.7,299.27 862.13,297.58 863.16,295.56 853.59,296.1 861.24,301.88 861.5,299.63 867.07,301.33"/><polygon points="888.97,299.23 880.07,299.07 880.51,296.85 871.46,300 880.4,303.45 880.04,301.22 888.94,301.37"/><polygon points="910.26,299.26 908.11,299.79 907.97,297.53 900.02,302.9 909.55,303.94 908.63,301.88 910.78,301.34"/><circle cx="932.09" cy="300.3" r="0.9" fill-opacity="0.55"/><polygon points="952.74,300.86 953.26,301.72 951.15,302.53 958.66,308.5 956.79,299.1 955.1,300.6 954.57,299.74"/><polygon points="974.27,300.8 977.47,306.89 975.32,307.57 982.42,314 981.16,304.5 979.38,305.89 976.18,299.8"/><polygon points="995.78,300.65 998.94,309.73 996.71,310.09 1002.79,317.5 1002.94,307.92 1000.97,309.03 997.81,299.95"/><polygon points="1017.45,300.87 1024.18,311.59 1022.08,312.43 1029.66,318.3 1027.67,308.92 1026,310.44 1019.27,299.73"/><polygon points="1039,300.85 1044.64,310.43 1042.52,311.22 1049.93,317.3 1048.21,307.87 1046.49,309.34 1040.85,299.75"/><polygon points="1060.56,300.83 1061.34,302.23 1059.21,302.97 1066.49,309.2 1064.96,299.74 1063.22,301.18 1062.43,299.77"/><circle cx="1083.06" cy="300.3" r="0.9" fill-opacity="0.55"/><polygon points="1105.58,300.3 1105.58,299.94 1107.56,300.3 1104.63,292.3 1101.7,300.3 1103.67,299.94 1103.67,300.3"/><polygon points="1126.72,299.36 1118.11,294.5 1119.55,292.76 1110.1,291.2 1116.31,298.5 1117.05,296.37 1125.67,301.24"/><polygon points="1148.13,299.29 1135.61,294.73 1136.75,292.78 1127.16,292.8 1134.49,298.98 1134.88,296.75 1147.4,301.31"/><polygon points="1169.54,299.25 1152.97,295.93 1153.8,293.83 1144.33,295.3 1152.51,300.3 1152.55,298.04 1169.12,301.35"/><circle cx="1190.9" cy="300.3" r="0.9" fill-opacity="0.55"/><polygon points="1212.72,301.34 1214.88,300.81 1215.02,303.07 1222.97,297.7 1213.44,296.66 1214.36,298.72 1212.21,299.26"/><polygon points="1234.32,301.34 1245.82,298.2 1246.02,300.45 1253.83,294.9 1244.28,294.08 1245.25,296.13 1233.75,299.26"/><polygon points="738.44,326.97 744.46,324.14 745.05,326.32 751.78,319.5 742.24,320.35 743.55,322.19 737.53,325.03"/><polygon points="760.26,326.81 771.71,316.7 772.89,318.63 777.45,310.2 768.52,313.68 770.29,315.09 758.84,325.19"/><polygon points="781.89,326.75 792.48,315.9 793.79,317.74 797.72,309 789.07,313.13 790.94,314.4 780.35,325.25"/><polygon points="803.52,326.67 807.94,321.18 809.42,322.88 812.49,313.8 804.28,318.75 806.26,319.83 801.85,325.33"/><polygon points="824.99,326 824.99,325.72 826.53,326 824.25,319.8 821.98,326 823.51,325.72 823.51,326"/><polygon points="846.39,325.34 846.15,325.13 847.58,323.98 840.32,321.2 844.06,328.02 845,326.44 845.25,326.66"/><polygon points="867.87,325.04 867.05,324.62 868.41,322.82 858.89,321.7 865.43,328.71 866.08,326.54 866.9,326.96"/><polygon points="888.93,324.93 883.93,325.04 884.28,322.8 875.36,326.3 884.43,329.4 883.98,327.19 888.98,327.07"/><polygon points="909.98,325.07 907.93,326.26 907.16,324.13 901.02,331.5 910.46,329.85 909,328.12 911.06,326.93"/><polygon points="931.01,326 931.01,326.7 928.79,326.3 932.09,335.3 935.39,326.3 933.16,326.7 933.16,326"/><polygon points="952.7,326.49 956.51,334.01 954.35,334.66 961.36,341.2 960.23,331.68 958.43,333.04 954.62,325.51"/><polygon points="974.28,326.51 981.23,339.52 979.07,340.22 986.22,346.6 984.9,337.11 983.12,338.51 976.17,325.49"/><polygon points="995.76,326.31 1001.39,345.07 999.14,345.33 1004.89,353 1005.47,343.43 1003.45,344.45 997.82,325.69"/><polygon points="1017.38,326.45 1024.26,341.25 1022.07,341.83 1028.86,348.6 1028.06,339.05 1026.21,340.35 1019.33,325.55"/><polygon points="1038.92,326.37 1042.88,337.28 1040.65,337.67 1046.83,345 1046.86,335.41 1044.9,336.55 1040.94,325.63"/><polygon points="1060.63,326.64 1061.04,327.2 1059.01,328.19 1066.99,333.5 1064.33,324.29 1062.78,325.93 1062.36,325.36"/><circle cx="1083.06" cy="326" r="0.9" fill-opacity="0.55"/><polygon points="1105.7,326 1105.7,323.8 1107.93,324.2 1104.63,315.2 1101.33,324.2 1103.55,323.8 1103.55,326"/><polygon points="1126.91,325.2 1118.71,317.84 1120.5,316.45 1111.6,312.9 1116.09,321.37 1117.28,319.44 1125.48,326.8"/><polygon points="1148.27,325.05 1136.06,318.58 1137.46,316.8 1127.96,315.5 1134.37,322.63 1135.06,320.48 1147.26,326.95"/><polygon points="1169.51,324.94 1158.39,323.07 1159.15,320.94 1149.73,322.7 1158.06,327.45 1158.03,325.19 1169.15,327.06"/><polygon points="1190.54,324.99 1190.15,325.12 1189.79,322.89 1182.4,329 1191.98,329.12 1190.87,327.15 1191.26,327.01"/><circle cx="1212.47" cy="326" r="0.9" fill-opacity="0.55"/><circle cx="1234.03" cy="326" r="0.9" fill-opacity="0.55"/><polygon points="737.88,352.77 741.32,353.11 740.7,355.29 749.98,352.9 741.36,348.72 741.53,350.97 738.09,350.63"/><polygon points="760.08,352.64 768.5,347.87 769.24,350.01 775.45,342.7 765.99,344.26 767.44,346 759.02,350.76"/><polygon points="781.87,352.47 789.95,344.5 791.23,346.37 795.32,337.7 786.59,341.67 788.44,342.97 780.36,350.93"/><polygon points="803.48,352.42 807.41,348.09 808.79,349.88 812.39,341 803.9,345.45 805.81,346.65 801.89,350.98"/><polygon points="825.17,352.26 826.19,350.6 827.88,352.1 829.75,342.7 822.24,348.66 824.35,349.48 823.34,351.14"/><polygon points="846.9,351.7 846.9,350.5 849.12,350.9 845.82,341.9 842.52,350.9 844.75,350.5 844.75,351.7"/><polygon points="868.36,351.24 868.02,350.52 870.21,349.94 863.39,343.2 864.23,352.75 866.08,351.44 866.42,352.16"/><polygon points="889.1,350.92 888.81,350.87 889.4,349.32 882.46,350.5 888.52,354.08 888.52,352.42 888.81,352.48"/><polygon points="909.79,350.92 906.15,354.33 904.92,352.43 900.62,361 909.44,357.24 907.63,355.9 911.26,352.48"/><polygon points="931.06,351.4 929.08,358.15 927.06,357.14 927.69,366.7 933.39,358.99 931.14,358.75 933.12,352"/><polygon points="952.58,351.72 952.84,367.42 950.61,367.06 954.06,376 957.21,366.95 954.99,367.38 954.73,351.68"/><polygon points="974.21,352.04 980.16,369.69 977.92,370.03 983.92,377.5 984.18,367.92 982.2,369.01 976.24,351.36"/><polygon points="995.73,351.86 999.15,374.56 996.89,374.49 1001.49,382.9 1003.41,373.51 1001.27,374.24 997.85,351.54"/><polygon points="1017.31,351.91 1020.79,368.99 1018.53,369.04 1023.56,377.2 1024.99,367.72 1022.89,368.56 1019.41,351.49"/><polygon points="1038.85,351.77 1039.6,363.39 1037.36,363.13 1041.23,371.9 1043.94,362.71 1041.75,363.25 1041,351.63"/><polygon points="1060.54,351.88 1060.6,352.23 1058.56,352.25 1062.99,359.7 1064.43,351.15 1062.52,351.88 1062.45,351.52"/><circle cx="1083.06" cy="351.7" r="0.9" fill-opacity="0.55"/><polygon points="1105.35,351.58 1105.3,351.31 1106.83,351.33 1103.63,345.7 1102.43,352.07 1103.87,351.55 1103.91,351.82"/><polygon points="1126.89,350.88 1121.47,346.32 1123.21,344.87 1114.2,341.6 1118.96,349.92 1120.08,347.96 1125.5,352.52"/><polygon points="1148.12,350.69 1140.83,348.13 1141.95,346.16 1132.36,346.3 1139.76,352.39 1140.12,350.16 1147.41,352.71"/><polygon points="1169.23,350.63 1163.5,351.15 1163.69,348.9 1155.03,353 1164.29,355.47 1163.69,353.29 1169.43,352.77"/><polygon points="1190.04,351.05 1185.72,356.79 1184.18,355.13 1181.4,364.3 1189.45,359.1 1187.43,358.08 1191.76,352.35"/><polygon points="1211.46,351.33 1209.8,355.85 1207.85,354.71 1207.87,364.3 1214.05,356.98 1211.82,356.59 1213.48,352.07"/><polygon points="1233.01,352.03 1233.9,354.83 1231.66,355.12 1237.53,362.7 1237.95,353.12 1235.95,354.18 1235.06,351.37"/><polygon points="737.65,378.42 743.27,380.26 742.2,382.25 751.78,381.9 744.25,375.97 743.94,378.21 738.32,376.38"/><polygon points="760.01,378.37 767.55,374.77 768.15,376.95 774.85,370.1 765.31,371 766.63,372.83 759.09,376.43"/><polygon points="781.86,378.18 789.85,370.52 791.1,372.41 795.32,363.8 786.54,367.64 788.36,368.97 780.37,376.62"/><polygon points="803.5,378.1 806.49,374.62 807.92,376.38 811.29,367.4 802.92,372.07 804.86,373.22 801.87,376.7"/><polygon points="825.11,378.05 825.39,377.69 826.91,379.36 829.75,370.2 821.67,375.35 823.68,376.38 823.4,376.75"/><polygon points="846.68,377.4 846.68,377.08 848.46,377.4 845.82,370.2 843.18,377.4 844.96,377.08 844.96,377.4"/><circle cx="867.39" cy="377.4" r="0.9" fill-opacity="0.55"/><polygon points="888.25,376.59 887.25,377.46 886.1,375.51 881.46,383.9 890.42,380.5 888.66,379.08 889.66,378.21"/><polygon points="909.69,376.72 901.29,387.13 899.81,385.42 896.72,394.5 904.94,389.57 902.96,388.48 911.36,378.08"/><polygon points="931.07,377.05 926.17,391.32 924.19,390.22 924.39,399.8 930.44,392.36 928.2,392.02 933.11,377.75"/><polygon points="952.59,377.32 950.93,399.24 948.74,398.68 951.36,407.9 955.32,399.17 953.08,399.41 954.73,377.48"/><polygon points="974.17,377.59 978.02,398.63 975.76,398.64 980.62,406.9 982.25,397.45 980.13,398.25 976.28,377.21"/><polygon points="995.73,377.54 998.82,401.31 996.56,401.2 1000.99,409.7 1003.1,400.35 1000.95,401.03 997.86,377.26"/><polygon points="1017.3,377.56 1020.12,396.45 1017.86,396.39 1022.46,404.8 1024.39,395.41 1022.25,396.14 1019.42,377.24"/><polygon points="1038.86,377.52 1040.31,390.57 1038.05,390.42 1042.33,399 1044.61,389.69 1042.45,390.33 1040.99,377.28"/><polygon points="1060.43,377.56 1060.66,379.05 1058.4,378.99 1062.99,387.4 1064.92,378.01 1062.78,378.74 1062.56,377.24"/><circle cx="1083.06" cy="377.4" r="0.9" fill-opacity="0.55"/><polygon points="1105.05,376.92 1104.87,376.77 1105.91,375.93 1100.63,373.9 1103.35,378.87 1104.03,377.72 1104.21,377.88"/><polygon points="1126.91,376.68 1126.65,376.42 1128.4,375.2 1120.2,371.4 1124,379.6 1125.21,377.85 1125.48,378.12"/><polygon points="1147.92,376.34 1144.93,375.89 1145.65,373.75 1136.26,375.7 1144.68,380.28 1144.61,378.02 1147.61,378.46"/><polygon points="1168.77,376.49 1165.08,378.76 1164.25,376.66 1158.33,384.2 1167.72,382.27 1166.21,380.59 1169.9,378.31"/><polygon points="1190.05,376.74 1184.22,384.25 1182.71,382.57 1179.8,391.7 1187.92,386.61 1185.92,385.57 1191.75,378.06"/><polygon points="1211.39,377.38 1211.31,383.09 1209.09,382.65 1212.27,391.7 1215.69,382.75 1213.46,383.12 1213.54,377.42"/><polygon points="1233.12,377.96 1237.6,385.24 1235.5,386.07 1243.03,392 1241.12,382.61 1239.43,384.12 1234.95,376.84"/><polygon points="737.46,404.04 745.35,408.45 743.92,410.19 753.38,411.7 747.13,404.43 746.4,406.57 738.51,402.16"/><polygon points="759.62,404.17 769.13,403.59 768.87,405.84 777.65,402 768.47,399.25 769,401.45 759.49,402.03"/><polygon points="781.73,403.98 790.56,397.88 791.49,399.93 797.02,392.1 787.74,394.51 789.33,396.11 780.51,402.22"/><polygon points="803.64,403.28 803.71,402.92 805.62,403.65 804.19,395.1 799.75,402.55 801.8,402.57 801.73,402.92"/><polygon points="825.11,403.7 825.34,403.38 826.89,404.93 829.25,395.9 821.61,401.27 823.62,402.18 823.39,402.5"/><polygon points="846.78,403.16 846.8,402.8 848.75,403.28 846.32,395.1 842.89,402.92 844.89,402.68 844.86,403.04"/><circle cx="867.39" cy="403.1" r="0.9" fill-opacity="0.55"/><polygon points="888.64,402.38 888.38,402.5 888,400.9 882.96,405.7 889.91,405.3 889,403.93 889.27,403.82"/><polygon points="909.69,402.43 902.99,410.73 901.5,409.02 898.42,418.1 906.64,413.17 904.66,412.08 911.36,403.77"/><polygon points="931.09,402.7 926.59,413.92 924.68,412.72 924.39,422.3 930.8,415.18 928.59,414.72 933.09,403.5"/><polygon points="952.61,402.85 948.41,420.49 946.33,419.58 947.46,429.1 952.75,421.11 950.5,420.98 954.7,403.35"/><polygon points="974.16,402.98 972.25,419.43 970.08,418.78 972.32,428.1 976.64,419.54 974.38,419.68 976.29,403.22"/><polygon points="995.72,402.97 993.73,419.93 991.57,419.28 993.79,428.6 998.12,420.05 995.86,420.18 997.86,403.23"/><polygon points="1017.29,403.16 1018.13,419.07 1015.89,418.79 1019.66,427.6 1022.48,418.44 1020.28,418.96 1019.43,403.04"/><polygon points="1038.86,403.25 1040.62,415.34 1038.36,415.27 1042.93,423.7 1044.9,414.32 1042.75,415.03 1040.99,402.95"/><polygon points="1060.42,403.1 1060.42,410.2 1058.19,409.8 1061.49,418.8 1064.79,409.8 1062.57,410.2 1062.57,403.1"/><polygon points="1082.05,402.92 1081.98,403.3 1079.94,402.55 1081.56,411.6 1086.18,403.65 1084.01,403.66 1084.08,403.28"/><polygon points="1103.82,402.44 1103.57,402.75 1102.14,401.08 1099.13,409.9 1107.12,405.12 1105.2,404.06 1105.44,403.76"/><polygon points="1125.6,402.8 1125.49,403.02 1124.36,402.18 1123.7,408.1 1128.03,404.02 1126.68,403.62 1126.79,403.4"/><polygon points="1146.95,402.4 1146.08,403.4 1144.66,401.64 1141.26,410.6 1149.65,405.96 1147.71,404.81 1148.58,403.8"/><polygon points="1168.46,402.47 1164.69,407.7 1163.12,406.07 1160.53,415.3 1168.47,409.93 1166.43,408.95 1170.2,403.73"/><polygon points="1189.89,402.74 1186.6,411.85 1184.65,410.71 1184.7,420.3 1190.85,412.95 1188.63,412.57 1191.91,403.46"/><polygon points="1211.39,403.09 1211.29,411.19 1209.07,410.76 1212.27,419.8 1215.67,410.84 1213.44,411.21 1213.54,403.11"/><polygon points="1233.09,403.61 1238.6,413.84 1236.46,414.55 1243.63,420.9 1242.26,411.41 1240.5,412.82 1234.98,402.59"/></g>
<rect x="727.2" y="69" width="528.4" height="359.8" fill="none" stroke="#000" stroke-opacity="0.5" stroke-width="1.5"/>
<line x1="727.2" x2="730.2" y1="94.7" y2="94.7" stroke="#000" stroke-opacity="0.55" stroke-width="1.1"/>
<text x="723.6" y="102.87" text-anchor="end" font-size="22.7">60</text>
<line x1="727.2" x2="730.2" y1="146.1" y2="146.1" stroke="#000" stroke-opacity="0.55" stroke-width="1.1"/>
<text x="723.6" y="154.27" text-anchor="end" font-size="22.7">40</text>
<line x1="727.2" x2="730.2" y1="197.5" y2="197.5" stroke="#000" stroke-opacity="0.55" stroke-width="1.1"/>
<text x="723.6" y="205.67" text-anchor="end" font-size="22.7">20</text>
<line x1="727.2" x2="730.2" y1="248.9" y2="248.9" stroke="#000" stroke-opacity="0.55" stroke-width="1.1"/>
<text x="723.6" y="257.07" text-anchor="end" font-size="22.7">0</text>
<line x1="727.2" x2="730.2" y1="300.3" y2="300.3" stroke="#000" stroke-opacity="0.55" stroke-width="1.1"/>
<text x="723.6" y="308.47" text-anchor="end" font-size="22.7">-20</text>
<line x1="727.2" x2="730.2" y1="351.7" y2="351.7" stroke="#000" stroke-opacity="0.55" stroke-width="1.1"/>
<text x="723.6" y="359.87" text-anchor="end" font-size="22.7">-40</text>
<line x1="727.2" x2="730.2" y1="403.1" y2="403.1" stroke="#000" stroke-opacity="0.55" stroke-width="1.1"/>
<text x="723.6" y="411.27" text-anchor="end" font-size="22.7">-60</text>
<line x1="737.98" x2="737.98" y1="428.8" y2="425.8" stroke="#000" stroke-opacity="0.55" stroke-width="1.1"/>
<text x="737.98" y="449.8" text-anchor="middle" font-size="22.4">24</text>
<line x1="802.69" x2="802.69" y1="428.8" y2="425.8" stroke="#000" stroke-opacity="0.55" stroke-width="1.1"/>
<text x="802.69" y="449.8" text-anchor="middle" font-size="22.4">21</text>
<line x1="867.39" x2="867.39" y1="428.8" y2="425.8" stroke="#000" stroke-opacity="0.55" stroke-width="1.1"/>
<text x="867.39" y="449.8" text-anchor="middle" font-size="22.4">18</text>
<line x1="932.09" x2="932.09" y1="428.8" y2="425.8" stroke="#000" stroke-opacity="0.55" stroke-width="1.1"/>
<text x="932.09" y="449.8" text-anchor="middle" font-size="22.4">15</text>
<line x1="996.79" x2="996.79" y1="428.8" y2="425.8" stroke="#000" stroke-opacity="0.55" stroke-width="1.1"/>
<text x="996.79" y="449.8" text-anchor="middle" font-size="22.4">12</text>
<line x1="1061.49" x2="1061.49" y1="428.8" y2="425.8" stroke="#000" stroke-opacity="0.55" stroke-width="1.1"/>
<text x="1061.49" y="449.8" text-anchor="middle" font-size="22.4">9</text>
<line x1="1126.2" x2="1126.2" y1="428.8" y2="425.8" stroke="#000" stroke-opacity="0.55" stroke-width="1.1"/>
<text x="1126.2" y="449.8" text-anchor="middle" font-size="22.4">6</text>
<line x1="1190.9" x2="1190.9" y1="428.8" y2="425.8" stroke="#000" stroke-opacity="0.55" stroke-width="1.1"/>
<text x="1190.9" y="449.8" text-anchor="middle" font-size="22.4">3</text>
<line x1="1255.6" x2="1255.6" y1="428.8" y2="425.8" stroke="#000" stroke-opacity="0.55" stroke-width="1.1"/>
<text x="1255.6" y="449.8" text-anchor="middle" font-size="22.4">0</text>
<text x="991.4" y="63.4" text-anchor="middle" font-size="23.15">Velocity vectors</text>
<text x="991.4" y="475.1" text-anchor="middle" font-size="24.1">Local time</text>
<text transform="translate(679.7 248.9) rotate(-90)" text-anchor="middle" font-size="23.85">Latitude</text>
<g><rect x="728.3" y="537.8" width="22.23" height="22.32" fill="#7575ff"/><rect x="750.53" y="537.8" width="22.23" height="22.32" fill="#3a3aff"/><rect x="772.77" y="537.8" width="22.23" height="22.32" fill="#9999ff"/><rect x="795" y="537.8" width="22.23" height="22.32" fill="#ffffff"/><rect x="817.23" y="537.8" width="22.23" height="22.32" fill="#ffdfdf"/><rect x="839.47" y="537.8" width="22.23" height="22.32" fill="#ffefef"/><rect x="861.7" y="537.8" width="22.23" height="22.32" fill="#ffb3b3"/><rect x="883.93" y="537.8" width="22.23" height="22.32" fill="#ff4545"/><rect x="906.17" y="537.8" width="22.23" height="22.32" fill="#ff2424"/><rect x="928.4" y="537.8" width="22.23" height="22.32" fill="#ff7575"/><rect x="950.63" y="537.8" width="22.23" height="22.32" fill="#ffa8a8"/><rect x="972.87" y="537.8" width="22.23" height="22.32" fill="#ff8080"/><rect x="995.1" y="537.8" width="22.23" height="22.32" fill="#ff2424"/><rect x="1017.33" y="537.8" width="22.23" height="22.32" fill="#ffa8a8"/><rect x="1039.57" y="537.8" width="22.23" height="22.32" fill="#ffdfdf"/><rect x="1061.8" y="537.8" width="22.23" height="22.32" fill="#ffffff"/><rect x="1084.03" y="537.8" width="22.23" height="22.32" fill="#fbfbff"/><rect x="1106.27" y="537.8" width="22.23" height="22.32" fill="#c3c3ff"/><rect x="1128.5" y="537.8" width="22.23" height="22.32" fill="#bbbbff"/><rect x="1150.73" y="537.8" width="22.23" height="22.32" fill="#ffdbdb"/><rect x="1172.97" y="537.8" width="22.23" height="22.32" fill="#ff9292"/><rect x="1195.2" y="537.8" width="22.23" height="22.32" fill="#ff9292"/><rect x="1217.43" y="537.8" width="22.23" height="22.32" fill="#ffbbbb"/><rect x="1239.67" y="537.8" width="22.23" height="22.32" fill="#dbdbff"/><rect x="728.3" y="560.12" width="22.23" height="22.32" fill="#6262ff"/><rect x="750.53" y="560.12" width="22.23" height="22.32" fill="#2f2fff"/><rect x="772.77" y="560.12" width="22.23" height="22.32" fill="#6a6aff"/><rect x="795" y="560.12" width="22.23" height="22.32" fill="#afafff"/><rect x="817.23" y="560.12" width="22.23" height="22.32" fill="#ebebff"/><rect x="839.47" y="560.12" width="22.23" height="22.32" fill="#dbdbff"/><rect x="861.7" y="560.12" width="22.23" height="22.32" fill="#ffcbcb"/><rect x="883.93" y="560.12" width="22.23" height="22.32" fill="#ff9292"/><rect x="906.17" y="560.12" width="22.23" height="22.32" fill="#ff5757"/><rect x="928.4" y="560.12" width="22.23" height="22.32" fill="#ff4545"/><rect x="950.63" y="560.12" width="22.23" height="22.32" fill="#ff4545"/><rect x="972.87" y="560.12" width="22.23" height="22.32" fill="#ff2c2c"/><rect x="995.1" y="560.12" width="22.23" height="22.32" fill="#ff4545"/><rect x="1017.33" y="560.12" width="22.23" height="22.32" fill="#ff7575"/><rect x="1039.57" y="560.12" width="22.23" height="22.32" fill="#ffb3b3"/><rect x="1061.8" y="560.12" width="22.23" height="22.32" fill="#ffd7d7"/><rect x="1084.03" y="560.12" width="22.23" height="22.32" fill="#ffefef"/><rect x="1106.27" y="560.12" width="22.23" height="22.32" fill="#fff3f3"/><rect x="1128.5" y="560.12" width="22.23" height="22.32" fill="#ffe3e3"/><rect x="1150.73" y="560.12" width="22.23" height="22.32" fill="#ff8080"/><rect x="1172.97" y="560.12" width="22.23" height="22.32" fill="#ff7575"/><rect x="1195.2" y="560.12" width="22.23" height="22.32" fill="#ff6a6a"/><rect x="1217.43" y="560.12" width="22.23" height="22.32" fill="#ffd7d7"/><rect x="1239.67" y="560.12" width="22.23" height="22.32" fill="#bbbbff"/><rect x="728.3" y="582.45" width="22.23" height="22.32" fill="#3737ff"/><rect x="750.53" y="582.45" width="22.23" height="22.32" fill="#0f0fff"/><rect x="772.77" y="582.45" width="22.23" height="22.32" fill="#4242ff"/><rect x="795" y="582.45" width="22.23" height="22.32" fill="#6262ff"/><rect x="817.23" y="582.45" width="22.23" height="22.32" fill="#8787ff"/><rect x="839.47" y="582.45" width="22.23" height="22.32" fill="#a8a8ff"/><rect x="861.7" y="582.45" width="22.23" height="22.32" fill="#ebebff"/><rect x="883.93" y="582.45" width="22.23" height="22.32" fill="#efefff"/><rect x="906.17" y="582.45" width="22.23" height="22.32" fill="#ffc3c3"/><rect x="928.4" y="582.45" width="22.23" height="22.32" fill="#ff8787"/><rect x="950.63" y="582.45" width="22.23" height="22.32" fill="#ff5050"/><rect x="972.87" y="582.45" width="22.23" height="22.32" fill="#ff4545"/><rect x="995.1" y="582.45" width="22.23" height="22.32" fill="#ff5050"/><rect x="1017.33" y="582.45" width="22.23" height="22.32" fill="#ff5757"/><rect x="1039.57" y="582.45" width="22.23" height="22.32" fill="#ff8080"/><rect x="1061.8" y="582.45" width="22.23" height="22.32" fill="#ff9999"/><rect x="1084.03" y="582.45" width="22.23" height="22.32" fill="#ffdbdb"/><rect x="1106.27" y="582.45" width="22.23" height="22.32" fill="#ffffff"/><rect x="1128.5" y="582.45" width="22.23" height="22.32" fill="#ffffff"/><rect x="1150.73" y="582.45" width="22.23" height="22.32" fill="#ff9292"/><rect x="1172.97" y="582.45" width="22.23" height="22.32" fill="#ff8787"/><rect x="1195.2" y="582.45" width="22.23" height="22.32" fill="#ff7575"/><rect x="1217.43" y="582.45" width="22.23" height="22.32" fill="#ffdbdb"/><rect x="1239.67" y="582.45" width="22.23" height="22.32" fill="#a8a8ff"/><rect x="728.3" y="604.77" width="22.23" height="22.32" fill="#7575ff"/><rect x="750.53" y="604.77" width="22.23" height="22.32" fill="#3333ff"/><rect x="772.77" y="604.77" width="22.23" height="22.32" fill="#2c2cff"/><rect x="795" y="604.77" width="22.23" height="22.32" fill="#1212ff"/><rect x="817.23" y="604.77" width="22.23" height="22.32" fill="#5757ff"/><rect x="839.47" y="604.77" width="22.23" height="22.32" fill="#7575ff"/><rect x="861.7" y="604.77" width="22.23" height="22.32" fill="#cbcbff"/><rect x="883.93" y="604.77" width="22.23" height="22.32" fill="#c3c3ff"/><rect x="906.17" y="604.77" width="22.23" height="22.32" fill="#ffffff"/><rect x="928.4" y="604.77" width="22.23" height="22.32" fill="#ffd7d7"/><rect x="950.63" y="604.77" width="22.23" height="22.32" fill="#ff8080"/><rect x="972.87" y="604.77" width="22.23" height="22.32" fill="#ff6a6a"/><rect x="995.1" y="604.77" width="22.23" height="22.32" fill="#ff7575"/><rect x="1017.33" y="604.77" width="22.23" height="22.32" fill="#ff8080"/><rect x="1039.57" y="604.77" width="22.23" height="22.32" fill="#ffa8a8"/><rect x="1061.8" y="604.77" width="22.23" height="22.32" fill="#ffc3c3"/><rect x="1084.03" y="604.77" width="22.23" height="22.32" fill="#f3f3ff"/><rect x="1106.27" y="604.77" width="22.23" height="22.32" fill="#c3c3ff"/><rect x="1128.5" y="604.77" width="22.23" height="22.32" fill="#dbdbff"/><rect x="1150.73" y="604.77" width="22.23" height="22.32" fill="#ffdfdf"/><rect x="1172.97" y="604.77" width="22.23" height="22.32" fill="#ff9999"/><rect x="1195.2" y="604.77" width="22.23" height="22.32" fill="#ff8787"/><rect x="1217.43" y="604.77" width="22.23" height="22.32" fill="#ffdfdf"/><rect x="1239.67" y="604.77" width="22.23" height="22.32" fill="#a8a8ff"/><rect x="728.3" y="627.09" width="22.23" height="22.32" fill="#8787ff"/><rect x="750.53" y="627.09" width="22.23" height="22.32" fill="#5757ff"/><rect x="772.77" y="627.09" width="22.23" height="22.32" fill="#5757ff"/><rect x="795" y="627.09" width="22.23" height="22.32" fill="#2424ff"/><rect x="817.23" y="627.09" width="22.23" height="22.32" fill="#5050ff"/><rect x="839.47" y="627.09" width="22.23" height="22.32" fill="#6262ff"/><rect x="861.7" y="627.09" width="22.23" height="22.32" fill="#afafff"/><rect x="883.93" y="627.09" width="22.23" height="22.32" fill="#bbbbff"/><rect x="906.17" y="627.09" width="22.23" height="22.32" fill="#fff3f3"/><rect x="928.4" y="627.09" width="22.23" height="22.32" fill="#fff3f3"/><rect x="950.63" y="627.09" width="22.23" height="22.32" fill="#ffa8a8"/><rect x="972.87" y="627.09" width="22.23" height="22.32" fill="#ff9999"/><rect x="995.1" y="627.09" width="22.23" height="22.32" fill="#ff8787"/><rect x="1017.33" y="627.09" width="22.23" height="22.32" fill="#ff9595"/><rect x="1039.57" y="627.09" width="22.23" height="22.32" fill="#ffcbcb"/><rect x="1061.8" y="627.09" width="22.23" height="22.32" fill="#fffbfb"/><rect x="1084.03" y="627.09" width="22.23" height="22.32" fill="#c3c3ff"/><rect x="1106.27" y="627.09" width="22.23" height="22.32" fill="#9999ff"/><rect x="1128.5" y="627.09" width="22.23" height="22.32" fill="#bbbbff"/><rect x="1150.73" y="627.09" width="22.23" height="22.32" fill="#dfdfff"/><rect x="1172.97" y="627.09" width="22.23" height="22.32" fill="#ffbbbb"/><rect x="1195.2" y="627.09" width="22.23" height="22.32" fill="#ffabab"/><rect x="1217.43" y="627.09" width="22.23" height="22.32" fill="#ffcfcf"/><rect x="1239.67" y="627.09" width="22.23" height="22.32" fill="#bbbbff"/><rect x="728.3" y="649.42" width="22.23" height="22.32" fill="#bbbbff"/><rect x="750.53" y="649.42" width="22.23" height="22.32" fill="#9999ff"/><rect x="772.77" y="649.42" width="22.23" height="22.32" fill="#9292ff"/><rect x="795" y="649.42" width="22.23" height="22.32" fill="#7575ff"/><rect x="817.23" y="649.42" width="22.23" height="22.32" fill="#8080ff"/><rect x="839.47" y="649.42" width="22.23" height="22.32" fill="#7575ff"/><rect x="861.7" y="649.42" width="22.23" height="22.32" fill="#afafff"/><rect x="883.93" y="649.42" width="22.23" height="22.32" fill="#e3e3ff"/><rect x="906.17" y="649.42" width="22.23" height="22.32" fill="#ffdbdb"/><rect x="928.4" y="649.42" width="22.23" height="22.32" fill="#fff3f3"/><rect x="950.63" y="649.42" width="22.23" height="22.32" fill="#ffefef"/><rect x="972.87" y="649.42" width="22.23" height="22.32" fill="#ffdbdb"/><rect x="995.1" y="649.42" width="22.23" height="22.32" fill="#ffbfbf"/><rect x="1017.33" y="649.42" width="22.23" height="22.32" fill="#ffcfcf"/><rect x="1039.57" y="649.42" width="22.23" height="22.32" fill="#ffefef"/><rect x="1061.8" y="649.42" width="22.23" height="22.32" fill="#ffffff"/><rect x="1084.03" y="649.42" width="22.23" height="22.32" fill="#e3e3ff"/><rect x="1106.27" y="649.42" width="22.23" height="22.32" fill="#c3c3ff"/><rect x="1128.5" y="649.42" width="22.23" height="22.32" fill="#cbcbff"/><rect x="1150.73" y="649.42" width="22.23" height="22.32" fill="#f3f3ff"/><rect x="1172.97" y="649.42" width="22.23" height="22.32" fill="#ffbfbf"/><rect x="1195.2" y="649.42" width="22.23" height="22.32" fill="#ffb7b7"/><rect x="1217.43" y="649.42" width="22.23" height="22.32" fill="#ffefef"/><rect x="1239.67" y="649.42" width="22.23" height="22.32" fill="#cbcbff"/><rect x="728.3" y="671.74" width="22.23" height="22.32" fill="#fffbfb"/><rect x="750.53" y="671.74" width="22.23" height="22.32" fill="#ebebff"/><rect x="772.77" y="671.74" width="22.23" height="22.32" fill="#dbdbff"/><rect x="795" y="671.74" width="22.23" height="22.32" fill="#bbbbff"/><rect x="817.23" y="671.74" width="22.23" height="22.32" fill="#b7b7ff"/><rect x="839.47" y="671.74" width="22.23" height="22.32" fill="#afafff"/><rect x="861.7" y="671.74" width="22.23" height="22.32" fill="#cbcbff"/><rect x="883.93" y="671.74" width="22.23" height="22.32" fill="#ebebff"/><rect x="906.17" y="671.74" width="22.23" height="22.32" fill="#ffffff"/><rect x="928.4" y="671.74" width="22.23" height="22.32" fill="#f3f3ff"/><rect x="950.63" y="671.74" width="22.23" height="22.32" fill="#efefff"/><rect x="972.87" y="671.74" width="22.23" height="22.32" fill="#fbfbff"/><rect x="995.1" y="671.74" width="22.23" height="22.32" fill="#ffe7e7"/><rect x="1017.33" y="671.74" width="22.23" height="22.32" fill="#ffffff"/><rect x="1039.57" y="671.74" width="22.23" height="22.32" fill="#f3f3ff"/><rect x="1061.8" y="671.74" width="22.23" height="22.32" fill="#dfdfff"/><rect x="1084.03" y="671.74" width="22.23" height="22.32" fill="#e3e3ff"/><rect x="1106.27" y="671.74" width="22.23" height="22.32" fill="#dfdfff"/><rect x="1128.5" y="671.74" width="22.23" height="22.32" fill="#dbdbff"/><rect x="1150.73" y="671.74" width="22.23" height="22.32" fill="#ffffff"/><rect x="1172.97" y="671.74" width="22.23" height="22.32" fill="#ffe3e3"/><rect x="1195.2" y="671.74" width="22.23" height="22.32" fill="#ffe7e7"/><rect x="1217.43" y="671.74" width="22.23" height="22.32" fill="#fbfbff"/><rect x="1239.67" y="671.74" width="22.23" height="22.32" fill="#e3e3ff"/><rect x="728.3" y="694.06" width="22.23" height="22.32" fill="#ffcfcf"/><rect x="750.53" y="694.06" width="22.23" height="22.32" fill="#ffd7d7"/><rect x="772.77" y="694.06" width="22.23" height="22.32" fill="#ffdbdb"/><rect x="795" y="694.06" width="22.23" height="22.32" fill="#ffffff"/><rect x="817.23" y="694.06" width="22.23" height="22.32" fill="#ebebff"/><rect x="839.47" y="694.06" width="22.23" height="22.32" fill="#f3f3ff"/><rect x="861.7" y="694.06" width="22.23" height="22.32" fill="#fbfbff"/><rect x="883.93" y="694.06" width="22.23" height="22.32" fill="#ffffff"/><rect x="906.17" y="694.06" width="22.23" height="22.32" fill="#ebebff"/><rect x="928.4" y="694.06" width="22.23" height="22.32" fill="#dbdbff"/><rect x="950.63" y="694.06" width="22.23" height="22.32" fill="#cbcbff"/><rect x="972.87" y="694.06" width="22.23" height="22.32" fill="#c3c3ff"/><rect x="995.1" y="694.06" width="22.23" height="22.32" fill="#cbcbff"/><rect x="1017.33" y="694.06" width="22.23" height="22.32" fill="#c3c3ff"/><rect x="1039.57" y="694.06" width="22.23" height="22.32" fill="#bbbbff"/><rect x="1061.8" y="694.06" width="22.23" height="22.32" fill="#d7d7ff"/><rect x="1084.03" y="694.06" width="22.23" height="22.32" fill="#fbfbff"/><rect x="1106.27" y="694.06" width="22.23" height="22.32" fill="#ffdbdb"/><rect x="1128.5" y="694.06" width="22.23" height="22.32" fill="#fff3f3"/><rect x="1150.73" y="694.06" width="22.23" height="22.32" fill="#ffe3e3"/><rect x="1172.97" y="694.06" width="22.23" height="22.32" fill="#ffe7e7"/><rect x="1195.2" y="694.06" width="22.23" height="22.32" fill="#ffefef"/><rect x="1217.43" y="694.06" width="22.23" height="22.32" fill="#ffefef"/><rect x="1239.67" y="694.06" width="22.23" height="22.32" fill="#ffe7e7"/><rect x="728.3" y="716.38" width="22.23" height="22.32" fill="#ff7c7c"/><rect x="750.53" y="716.38" width="22.23" height="22.32" fill="#ff7878"/><rect x="772.77" y="716.38" width="22.23" height="22.32" fill="#ff8787"/><rect x="795" y="716.38" width="22.23" height="22.32" fill="#ffbdbd"/><rect x="817.23" y="716.38" width="22.23" height="22.32" fill="#ffd7d7"/><rect x="839.47" y="716.38" width="22.23" height="22.32" fill="#ffd7d7"/><rect x="861.7" y="716.38" width="22.23" height="22.32" fill="#ffdbdb"/><rect x="883.93" y="716.38" width="22.23" height="22.32" fill="#ffffff"/><rect x="906.17" y="716.38" width="22.23" height="22.32" fill="#ebebff"/><rect x="928.4" y="716.38" width="22.23" height="22.32" fill="#e3e3ff"/><rect x="950.63" y="716.38" width="22.23" height="22.32" fill="#c3c3ff"/><rect x="972.87" y="716.38" width="22.23" height="22.32" fill="#9999ff"/><rect x="995.1" y="716.38" width="22.23" height="22.32" fill="#8080ff"/><rect x="1017.33" y="716.38" width="22.23" height="22.32" fill="#7575ff"/><rect x="1039.57" y="716.38" width="22.23" height="22.32" fill="#7878ff"/><rect x="1061.8" y="716.38" width="22.23" height="22.32" fill="#bbbbff"/><rect x="1084.03" y="716.38" width="22.23" height="22.32" fill="#f7f7ff"/><rect x="1106.27" y="716.38" width="22.23" height="22.32" fill="#ffbbbb"/><rect x="1128.5" y="716.38" width="22.23" height="22.32" fill="#ffbbbb"/><rect x="1150.73" y="716.38" width="22.23" height="22.32" fill="#ffc3c3"/><rect x="1172.97" y="716.38" width="22.23" height="22.32" fill="#ffd7d7"/><rect x="1195.2" y="716.38" width="22.23" height="22.32" fill="#ffffff"/><rect x="1217.43" y="716.38" width="22.23" height="22.32" fill="#ffe7e7"/><rect x="1239.67" y="716.38" width="22.23" height="22.32" fill="#ffd7d7"/><rect x="728.3" y="738.71" width="22.23" height="22.32" fill="#ffcbcb"/><rect x="750.53" y="738.71" width="22.23" height="22.32" fill="#ff7575"/><rect x="772.77" y="738.71" width="22.23" height="22.32" fill="#ff7171"/><rect x="795" y="738.71" width="22.23" height="22.32" fill="#ffa8a8"/><rect x="817.23" y="738.71" width="22.23" height="22.32" fill="#ffcfcf"/><rect x="839.47" y="738.71" width="22.23" height="22.32" fill="#ffdbdb"/><rect x="861.7" y="738.71" width="22.23" height="22.32" fill="#ffdbdb"/><rect x="883.93" y="738.71" width="22.23" height="22.32" fill="#fffbfb"/><rect x="906.17" y="738.71" width="22.23" height="22.32" fill="#cbcbff"/><rect x="928.4" y="738.71" width="22.23" height="22.32" fill="#b7b7ff"/><rect x="950.63" y="738.71" width="22.23" height="22.32" fill="#8787ff"/><rect x="972.87" y="738.71" width="22.23" height="22.32" fill="#6262ff"/><rect x="995.1" y="738.71" width="22.23" height="22.32" fill="#2f2fff"/><rect x="1017.33" y="738.71" width="22.23" height="22.32" fill="#3a3aff"/><rect x="1039.57" y="738.71" width="22.23" height="22.32" fill="#6a6aff"/><rect x="1061.8" y="738.71" width="22.23" height="22.32" fill="#c3c3ff"/><rect x="1084.03" y="738.71" width="22.23" height="22.32" fill="#ffffff"/><rect x="1106.27" y="738.71" width="22.23" height="22.32" fill="#ffa8a8"/><rect x="1128.5" y="738.71" width="22.23" height="22.32" fill="#ff9999"/><rect x="1150.73" y="738.71" width="22.23" height="22.32" fill="#ffb3b3"/><rect x="1172.97" y="738.71" width="22.23" height="22.32" fill="#ffe3e3"/><rect x="1195.2" y="738.71" width="22.23" height="22.32" fill="#dfdfff"/><rect x="1217.43" y="738.71" width="22.23" height="22.32" fill="#d7d7ff"/><rect x="1239.67" y="738.71" width="22.23" height="22.32" fill="#fbfbff"/><rect x="728.3" y="761.03" width="22.23" height="22.32" fill="#f3f3ff"/><rect x="750.53" y="761.03" width="22.23" height="22.32" fill="#ffbbbb"/><rect x="772.77" y="761.03" width="22.23" height="22.32" fill="#ff9999"/><rect x="795" y="761.03" width="22.23" height="22.32" fill="#ffb3b3"/><rect x="817.23" y="761.03" width="22.23" height="22.32" fill="#ffbbbb"/><rect x="839.47" y="761.03" width="22.23" height="22.32" fill="#ffb7b7"/><rect x="861.7" y="761.03" width="22.23" height="22.32" fill="#ffbbbb"/><rect x="883.93" y="761.03" width="22.23" height="22.32" fill="#fff3f3"/><rect x="906.17" y="761.03" width="22.23" height="22.32" fill="#afafff"/><rect x="928.4" y="761.03" width="22.23" height="22.32" fill="#8787ff"/><rect x="950.63" y="761.03" width="22.23" height="22.32" fill="#4242ff"/><rect x="972.87" y="761.03" width="22.23" height="22.32" fill="#3a3aff"/><rect x="995.1" y="761.03" width="22.23" height="22.32" fill="#0f0fff"/><rect x="1017.33" y="761.03" width="22.23" height="22.32" fill="#3a3aff"/><rect x="1039.57" y="761.03" width="22.23" height="22.32" fill="#6262ff"/><rect x="1061.8" y="761.03" width="22.23" height="22.32" fill="#c3c3ff"/><rect x="1084.03" y="761.03" width="22.23" height="22.32" fill="#f7f7ff"/><rect x="1106.27" y="761.03" width="22.23" height="22.32" fill="#ffcbcb"/><rect x="1128.5" y="761.03" width="22.23" height="22.32" fill="#ffb3b3"/><rect x="1150.73" y="761.03" width="22.23" height="22.32" fill="#ffdbdb"/><rect x="1172.97" y="761.03" width="22.23" height="22.32" fill="#f3f3ff"/><rect x="1195.2" y="761.03" width="22.23" height="22.32" fill="#9999ff"/><rect x="1217.43" y="761.03" width="22.23" height="22.32" fill="#9999ff"/><rect x="1239.67" y="761.03" width="22.23" height="22.32" fill="#a8a8ff"/><rect x="728.3" y="783.35" width="22.23" height="22.32" fill="#dbdbff"/><rect x="750.53" y="783.35" width="22.23" height="22.32" fill="#ffcbcb"/><rect x="772.77" y="783.35" width="22.23" height="22.32" fill="#ff9999"/><rect x="795" y="783.35" width="22.23" height="22.32" fill="#ffb3b3"/><rect x="817.23" y="783.35" width="22.23" height="22.32" fill="#ffcbcb"/><rect x="839.47" y="783.35" width="22.23" height="22.32" fill="#ffcbcb"/><rect x="861.7" y="783.35" width="22.23" height="22.32" fill="#fff3f3"/><rect x="883.93" y="783.35" width="22.23" height="22.32" fill="#cbcbff"/><rect x="906.17" y="783.35" width="22.23" height="22.32" fill="#8080ff"/><rect x="928.4" y="783.35" width="22.23" height="22.32" fill="#5757ff"/><rect x="950.63" y="783.35" width="22.23" height="22.32" fill="#0f0fff"/><rect x="972.87" y="783.35" width="22.23" height="22.32" fill="#2424ff"/><rect x="995.1" y="783.35" width="22.23" height="22.32" fill="#0909ff"/><rect x="1017.33" y="783.35" width="22.23" height="22.32" fill="#2f2fff"/><rect x="1039.57" y="783.35" width="22.23" height="22.32" fill="#5757ff"/><rect x="1061.8" y="783.35" width="22.23" height="22.32" fill="#afafff"/><rect x="1084.03" y="783.35" width="22.23" height="22.32" fill="#ebebff"/><rect x="1106.27" y="783.35" width="22.23" height="22.32" fill="#ffdfdf"/><rect x="1128.5" y="783.35" width="22.23" height="22.32" fill="#ffcbcb"/><rect x="1150.73" y="783.35" width="22.23" height="22.32" fill="#fff3f3"/><rect x="1172.97" y="783.35" width="22.23" height="22.32" fill="#cbcbff"/><rect x="1195.2" y="783.35" width="22.23" height="22.32" fill="#9292ff"/><rect x="1217.43" y="783.35" width="22.23" height="22.32" fill="#9292ff"/><rect x="1239.67" y="783.35" width="22.23" height="22.32" fill="#9292ff"/><rect x="728.3" y="805.68" width="22.23" height="22.32" fill="#ababff"/><rect x="750.53" y="805.68" width="22.23" height="22.32" fill="#fff3f3"/><rect x="772.77" y="805.68" width="22.23" height="22.32" fill="#ffa8a8"/><rect x="795" y="805.68" width="22.23" height="22.32" fill="#ffbfbf"/><rect x="817.23" y="805.68" width="22.23" height="22.32" fill="#ffcbcb"/><rect x="839.47" y="805.68" width="22.23" height="22.32" fill="#ffc3c3"/><rect x="861.7" y="805.68" width="22.23" height="22.32" fill="#ffe7e7"/><rect x="883.93" y="805.68" width="22.23" height="22.32" fill="#ebebff"/><rect x="906.17" y="805.68" width="22.23" height="22.32" fill="#8787ff"/><rect x="928.4" y="805.68" width="22.23" height="22.32" fill="#6a6aff"/><rect x="950.63" y="805.68" width="22.23" height="22.32" fill="#3737ff"/><rect x="972.87" y="805.68" width="22.23" height="22.32" fill="#3333ff"/><rect x="995.1" y="805.68" width="22.23" height="22.32" fill="#2c2cff"/><rect x="1017.33" y="805.68" width="22.23" height="22.32" fill="#2828ff"/><rect x="1039.57" y="805.68" width="22.23" height="22.32" fill="#5757ff"/><rect x="1061.8" y="805.68" width="22.23" height="22.32" fill="#8787ff"/><rect x="1084.03" y="805.68" width="22.23" height="22.32" fill="#c3c3ff"/><rect x="1106.27" y="805.68" width="22.23" height="22.32" fill="#cbcbff"/><rect x="1128.5" y="805.68" width="22.23" height="22.32" fill="#d7d7ff"/><rect x="1150.73" y="805.68" width="22.23" height="22.32" fill="#cbcbff"/><rect x="1172.97" y="805.68" width="22.23" height="22.32" fill="#a8a8ff"/><rect x="1195.2" y="805.68" width="22.23" height="22.32" fill="#8080ff"/><rect x="1217.43" y="805.68" width="22.23" height="22.32" fill="#8080ff"/><rect x="1239.67" y="805.68" width="22.23" height="22.32" fill="#8080ff"/></g>
<rect x="728.3" y="537.8" width="533.6" height="290.2" fill="none" stroke="#000" stroke-opacity="0.5" stroke-width="1.5"/>
<line x1="728.3" x2="731.3" y1="548.96" y2="548.96" stroke="#000" stroke-opacity="0.55" stroke-width="1.1"/>
<text x="724.7" y="557.13" text-anchor="end" font-size="22.7">60</text>
<line x1="728.3" x2="731.3" y1="593.61" y2="593.61" stroke="#000" stroke-opacity="0.55" stroke-width="1.1"/>
<text x="724.7" y="601.78" text-anchor="end" font-size="22.7">40</text>
<line x1="728.3" x2="731.3" y1="638.25" y2="638.25" stroke="#000" stroke-opacity="0.55" stroke-width="1.1"/>
<text x="724.7" y="646.43" text-anchor="end" font-size="22.7">20</text>
<line x1="728.3" x2="731.3" y1="682.9" y2="682.9" stroke="#000" stroke-opacity="0.55" stroke-width="1.1"/>
<text x="724.7" y="691.07" text-anchor="end" font-size="22.7">0</text>
<line x1="728.3" x2="731.3" y1="727.55" y2="727.55" stroke="#000" stroke-opacity="0.55" stroke-width="1.1"/>
<text x="724.7" y="735.72" text-anchor="end" font-size="22.7">-20</text>
<line x1="728.3" x2="731.3" y1="772.19" y2="772.19" stroke="#000" stroke-opacity="0.55" stroke-width="1.1"/>
<text x="724.7" y="780.36" text-anchor="end" font-size="22.7">-40</text>
<line x1="728.3" x2="731.3" y1="816.84" y2="816.84" stroke="#000" stroke-opacity="0.55" stroke-width="1.1"/>
<text x="724.7" y="825.01" text-anchor="end" font-size="22.7">-60</text>
<line x1="728.3" x2="728.3" y1="828" y2="825" stroke="#000" stroke-opacity="0.55" stroke-width="1.1"/>
<text x="728.3" y="849.7" text-anchor="middle" font-size="22.4">24</text>
<line x1="795" x2="795" y1="828" y2="825" stroke="#000" stroke-opacity="0.55" stroke-width="1.1"/>
<text x="795" y="849.7" text-anchor="middle" font-size="22.4">21</text>
<line x1="861.7" x2="861.7" y1="828" y2="825" stroke="#000" stroke-opacity="0.55" stroke-width="1.1"/>
<text x="861.7" y="849.7" text-anchor="middle" font-size="22.4">18</text>
<line x1="928.4" x2="928.4" y1="828" y2="825" stroke="#000" stroke-opacity="0.55" stroke-width="1.1"/>
<text x="928.4" y="849.7" text-anchor="middle" font-size="22.4">15</text>
<line x1="995.1" x2="995.1" y1="828" y2="825" stroke="#000" stroke-opacity="0.55" stroke-width="1.1"/>
<text x="995.1" y="849.7" text-anchor="middle" font-size="22.4">12</text>
<line x1="1061.8" x2="1061.8" y1="828" y2="825" stroke="#000" stroke-opacity="0.55" stroke-width="1.1"/>
<text x="1061.8" y="849.7" text-anchor="middle" font-size="22.4">9</text>
<line x1="1128.5" x2="1128.5" y1="828" y2="825" stroke="#000" stroke-opacity="0.55" stroke-width="1.1"/>
<text x="1128.5" y="849.7" text-anchor="middle" font-size="22.4">6</text>
<line x1="1195.2" x2="1195.2" y1="828" y2="825" stroke="#000" stroke-opacity="0.55" stroke-width="1.1"/>
<text x="1195.2" y="849.7" text-anchor="middle" font-size="22.4">3</text>
<line x1="1261.9" x2="1261.9" y1="828" y2="825" stroke="#000" stroke-opacity="0.55" stroke-width="1.1"/>
<text x="1261.9" y="849.7" text-anchor="middle" font-size="22.4">0</text>
<text x="995.1" y="532.6" text-anchor="middle" font-size="23.9">Northward velocity</text>
<text x="995.1" y="875.1" text-anchor="middle" font-size="24.1">Local time</text>
<text transform="translate(680.8 682.9) rotate(-90)" text-anchor="middle" font-size="23.85">Latitude</text>
<rect x="728.3" y="891.9" width="533.6" height="10.2" fill="url(#cbg)" stroke="#000" stroke-opacity="0.55" stroke-width="1.1"/>
<line x1="766.41" x2="766.41" y1="902.1" y2="899.1" stroke="#000" stroke-opacity="0.55" stroke-width="1.1"/>
<text x="766.41" y="922.6" text-anchor="middle" font-size="22.7">-6</text>
<line x1="880.76" x2="880.76" y1="902.1" y2="899.1" stroke="#000" stroke-opacity="0.55" stroke-width="1.1"/>
<text x="880.76" y="922.6" text-anchor="middle" font-size="22.7">-3</text>
<line x1="995.1" x2="995.1" y1="902.1" y2="899.1" stroke="#000" stroke-opacity="0.55" stroke-width="1.1"/>
<text x="995.1" y="922.6" text-anchor="middle" font-size="22.7">0</text>
<line x1="1109.44" x2="1109.44" y1="902.1" y2="899.1" stroke="#000" stroke-opacity="0.55" stroke-width="1.1"/>
<text x="1109.44" y="922.6" text-anchor="middle" font-size="22.7">3</text>
<line x1="1223.79" x2="1223.79" y1="902.1" y2="899.1" stroke="#000" stroke-opacity="0.55" stroke-width="1.1"/>
<text x="1223.79" y="922.6" text-anchor="middle" font-size="22.7">6</text>
<text x="995.1" y="949.4" text-anchor="middle" font-size="23.9">(m/s)</text>
<text x="1334" y="25.1" style="font-family:'Liberation Sans',Arial,sans-serif;font-weight:bold;font-size:33.5px;fill:#000">c</text>
<rect x="1383" y="69" width="143.02" height="364.3" fill="#f2f2f2"/>
<rect x="1787.47" y="69" width="129.33" height="364.3" fill="#f2f2f2"/>
<g clip-path="url(#cq2)" fill="#111"><polygon points="1392.91,95.46 1399.39,109.91 1397.2,110.46 1403.89,117.32 1403.22,107.76 1401.36,109.03 1394.87,94.58"/><polygon points="1414.85,95.7 1424.94,108.21 1422.96,109.29 1431.18,114.22 1428.1,105.15 1426.62,106.85 1416.52,94.35"/><polygon points="1436.63,95.69 1439.69,99.55 1437.69,100.62 1445.87,105.62 1442.87,96.52 1441.37,98.21 1438.31,94.35"/><polygon points="1459.62,94.9 1459.57,94.77 1460.36,94.65 1458.26,92.02 1458.16,95.39 1458.85,95.01 1458.9,95.14"/><polygon points="1482.1,94.81 1480.61,87.44 1482.87,87.39 1477.84,79.22 1476.4,88.7 1478.5,87.86 1479.99,95.23"/><polygon points="1503.82,95.44 1505.77,90.86 1507.66,92.1 1508.13,82.52 1501.58,89.52 1503.79,90.02 1501.84,94.6"/><polygon points="1525.67,95.24 1526.85,89.46 1528.95,90.3 1527.52,80.82 1522.49,88.98 1524.75,89.03 1523.57,94.81"/><polygon points="1547.48,94.95 1547.02,87.74 1549.27,88 1545.41,79.22 1542.68,88.41 1544.88,87.87 1545.34,95.09"/><polygon points="1569.16,94.54 1564.84,86.01 1567,85.36 1560,78.82 1561.12,88.34 1562.92,86.98 1567.24,95.51"/><polygon points="1590.79,94.31 1575.68,77.16 1577.61,75.99 1569.18,71.42 1572.66,80.36 1574.06,78.58 1589.18,95.73"/><polygon points="1612.76,94.6 1607.73,82.81 1609.94,82.31 1603.37,75.32 1603.87,84.89 1605.76,83.65 1610.78,95.44"/><polygon points="1634.62,95.19 1637.31,77.78 1639.45,78.52 1637.56,69.12 1632.92,77.51 1635.18,77.46 1632.5,94.86"/><polygon points="1656.3,95.52 1662.61,83.44 1664.4,84.83 1665.65,75.32 1658.55,81.77 1660.71,82.44 1654.39,94.52"/><polygon points="1677.73,95.74 1678,95.52 1678.97,97.22 1683.13,90.02 1675.3,92.82 1676.8,94.08 1676.54,94.3"/><polygon points="1698.27,95.02 1698.27,95.27 1696.91,95.02 1698.92,100.52 1700.94,95.02 1699.58,95.27 1699.58,95.02"/><polygon points="1719.81,94.9 1719.77,95.24 1717.96,94.65 1719.71,102.52 1723.46,95.39 1721.56,95.47 1721.61,95.14"/><polygon points="1742.02,95.32 1742.13,95.5 1741.03,95.94 1745,99.02 1743.96,94.1 1743.09,94.9 1742.98,94.72"/><polygon points="1763.69,95.14 1763.73,95.36 1762.45,95.39 1765.29,100.02 1766.12,94.65 1764.93,95.12 1764.88,94.9"/><polygon points="1786.85,95.74 1787.12,95.45 1788.46,97.22 1792.07,88.52 1783.69,92.82 1785.56,94.02 1785.3,94.3"/><polygon points="1808.94,94.99 1808.71,88.08 1810.95,88.41 1807.36,79.52 1804.35,88.62 1806.56,88.15 1806.79,95.06"/><polygon points="1830.72,95.11 1831.91,80.88 1834.09,81.46 1831.55,72.22 1827.51,80.92 1829.76,80.7 1828.58,94.93"/><polygon points="1852.46,94.7 1850.72,89.11 1852.96,88.83 1847.14,81.22 1846.66,90.8 1848.67,89.75 1850.41,95.34"/><polygon points="1873.4,94.01 1873.03,93.94 1873.77,91.9 1864.72,93.52 1872.67,98.14 1872.67,95.97 1873.05,96.04"/><polygon points="1894.41,94.13 1887.04,99.12 1886.12,97.05 1880.51,104.82 1889.82,102.52 1888.24,100.9 1895.61,95.91"/><polygon points="1393.06,121.72 1404.74,136.14 1402.76,137.23 1410.99,142.14 1407.89,133.07 1406.41,134.78 1394.73,120.37"/><polygon points="1415.04,121.91 1430.52,133.31 1428.88,134.86 1438.08,137.54 1432.79,129.55 1431.79,131.58 1416.32,120.18"/><polygon points="1436.79,121.87 1445.53,129.03 1443.81,130.5 1452.87,133.64 1447.99,125.39 1446.89,127.37 1438.15,120.21"/><polygon points="1459.26,122.06 1459.63,122.06 1459.26,124.16 1467.76,121.04 1459.26,117.93 1459.63,120.03 1459.26,120.03"/><polygon points="1481.81,121.8 1482.22,121.38 1483.51,123.24 1487.54,114.54 1478.85,118.57 1480.7,119.86 1480.28,120.28"/><polygon points="1503.59,121.8 1505.91,119.48 1507.2,121.34 1511.23,112.64 1502.54,116.67 1504.39,117.96 1502.07,120.28"/><polygon points="1525.69,121.14 1526.22,115.2 1528.4,115.8 1525.92,106.54 1521.83,115.21 1524.08,115.01 1523.55,120.95"/><polygon points="1547.48,120.92 1546.64,113.47 1548.89,113.62 1544.61,105.04 1542.34,114.36 1544.5,113.71 1545.34,121.16"/><polygon points="1569.26,120.88 1568.43,115.39 1570.69,115.45 1566.1,107.04 1564.17,116.43 1566.31,115.71 1567.13,121.2"/><polygon points="1591,120.69 1586.25,107.2 1588.48,106.84 1582.38,99.44 1582.26,109.03 1584.22,107.91 1588.97,121.4"/><polygon points="1612.83,120.83 1609.22,102.96 1611.48,102.91 1606.47,94.74 1605.01,104.22 1607.12,103.39 1610.72,121.26"/><polygon points="1634.63,120.94 1632.18,96.49 1634.44,96.67 1630.26,88.04 1627.87,97.33 1630.05,96.71 1632.49,121.15"/><polygon points="1656.42,121.14 1658.1,103.41 1660.28,104.01 1657.85,94.74 1653.71,103.39 1655.96,103.2 1654.28,120.94"/><polygon points="1678.21,121.04 1678.21,113.14 1680.43,113.54 1677.13,104.54 1673.83,113.54 1676.06,113.14 1676.06,121.04"/><polygon points="1699.58,120.39 1699.33,120.14 1700.94,119.03 1693.42,115.54 1696.91,123.06 1698.02,121.46 1698.27,121.7"/><polygon points="1720.87,119.98 1719.37,119.76 1720.1,117.61 1710.71,119.54 1719.12,124.14 1719.06,121.88 1720.55,122.11"/><polygon points="1742.38,120.45 1742.16,120.49 1742.13,119.21 1737.5,122.04 1742.86,122.88 1742.4,121.68 1742.62,121.64"/><polygon points="1763.75,120.51 1763.55,120.71 1762.64,119.39 1759.79,125.54 1765.94,122.69 1764.62,121.78 1764.82,121.58"/><polygon points="1786.13,120.21 1785.82,120.18 1786.26,118.48 1779.07,120.54 1785.89,123.61 1785.7,121.86 1786.01,121.88"/><polygon points="1808.7,120.37 1805.89,116.87 1807.87,115.79 1799.66,110.84 1802.73,119.92 1804.21,118.22 1807.02,121.72"/><polygon points="1830.72,120.96 1830.14,113.04 1832.39,113.28 1828.45,104.54 1825.81,113.76 1828,113.2 1828.58,121.12"/><polygon points="1852.49,120.81 1852.35,120.2 1854.61,120.11 1849.44,112.04 1848.17,121.54 1850.25,120.67 1850.39,121.28"/><polygon points="1872.81,120.45 1872.58,120.6 1871.94,119.21 1868.22,124.54 1874.51,122.88 1873.42,121.8 1873.64,121.64"/><polygon points="1894.13,120.43 1893.5,121.35 1891.89,119.76 1889.51,129.04 1897.33,123.5 1895.27,122.57 1895.9,121.65"/><polygon points="1393.07,147.75 1405.45,162.56 1403.49,163.68 1411.79,168.46 1408.55,159.44 1407.1,161.18 1394.72,146.37"/><polygon points="1414.86,147.76 1424.8,159.5 1422.85,160.63 1431.18,165.36 1427.88,156.36 1426.44,158.11 1416.5,146.37"/><polygon points="1436.6,147.7 1446.12,160.67 1444.08,161.66 1452.07,166.96 1449.41,157.76 1447.85,159.39 1438.34,146.43"/><polygon points="1458.42,147.48 1458.58,147.79 1456.69,148.35 1462.76,154.06 1461.82,145.78 1460.25,146.96 1460.09,146.65"/><polygon points="1480.45,147.06 1480.45,147.29 1479.21,147.06 1481.04,152.06 1482.88,147.06 1481.64,147.29 1481.64,147.06"/><circle cx="1502.83" cy="147.06" r="0.9" fill-opacity="0.55"/><circle cx="1524.62" cy="147.06" r="0.9" fill-opacity="0.55"/><circle cx="1546.41" cy="147.06" r="0.9" fill-opacity="0.55"/><polygon points="1568.91,146.89 1568.85,146.62 1570.4,146.51 1566.7,141.06 1566,147.61 1567.41,146.98 1567.48,147.24"/><polygon points="1591.02,146.78 1588.78,138.58 1591.04,138.38 1585.48,130.56 1584.67,140.12 1586.71,139.14 1588.95,147.35"/><polygon points="1612.83,146.89 1610.51,132.58 1612.77,132.62 1608.07,124.26 1606.26,133.68 1608.39,132.93 1610.71,147.24"/><polygon points="1634.63,146.95 1632.53,127 1634.78,127.17 1630.56,118.56 1628.22,127.86 1630.39,127.23 1632.49,147.18"/><polygon points="1656.42,147.03 1655.98,132.13 1658.21,132.46 1654.65,123.56 1651.62,132.66 1653.83,132.19 1654.27,147.1"/><polygon points="1678.21,147.03 1677.78,133.63 1680.02,133.95 1676.43,125.06 1673.42,134.16 1675.63,133.69 1676.06,147.1"/><polygon points="1699.98,146.85 1699.66,145.29 1701.92,145.24 1696.92,137.06 1695.45,146.54 1697.55,145.71 1697.87,147.28"/><polygon points="1721.61,146.77 1721.49,146.43 1723.46,146.15 1718.21,139.56 1717.96,147.98 1719.7,147.03 1719.81,147.36"/><circle cx="1742.5" cy="147.06" r="0.9" fill-opacity="0.55"/><circle cx="1764.29" cy="147.06" r="0.9" fill-opacity="0.55"/><polygon points="1786.13,146.29 1785.84,146.27 1786.26,144.68 1779.57,146.56 1785.89,149.45 1785.72,147.82 1786.01,147.84"/><polygon points="1808.88,146.72 1807.6,142.88 1809.84,142.56 1803.86,135.06 1803.58,144.65 1805.56,143.56 1806.84,147.4"/><polygon points="1830.65,146.67 1829.28,143.18 1831.5,142.74 1825.15,135.56 1825.36,145.15 1827.28,143.96 1828.65,147.46"/><polygon points="1851.8,146.23 1851.48,146.09 1852.54,144.5 1844.44,144.06 1850.34,149.63 1850.77,147.77 1851.08,147.9"/><polygon points="1872.33,146.89 1872.26,147.22 1870.47,146.51 1871.72,154.56 1875.97,147.61 1874.05,147.58 1874.12,147.24"/><polygon points="1894.06,147.06 1894.06,147.42 1892.08,147.06 1895.01,155.06 1897.95,147.06 1895.97,147.42 1895.97,147.06"/><polygon points="1392.97,173.63 1399.53,184.9 1397.41,185.67 1404.79,191.79 1403.11,182.35 1401.39,183.81 1394.82,172.54"/><polygon points="1414.66,173.41 1417.48,182.4 1415.24,182.69 1421.08,190.29 1421.53,180.71 1419.53,181.76 1416.71,172.76"/><polygon points="1436.41,173.25 1438.8,188.75 1436.54,188.69 1441.17,197.09 1443.06,187.69 1440.92,188.42 1438.53,172.92"/><polygon points="1458.18,173.04 1457.65,185.45 1455.45,184.95 1458.36,194.09 1462.04,185.24 1459.8,185.54 1460.33,173.13"/><polygon points="1479.97,173.03 1479.5,182.44 1477.3,181.93 1480.14,191.09 1483.89,182.26 1481.65,182.55 1482.12,173.14"/><polygon points="1502.06,172.43 1501.81,172.72 1500.45,171.07 1497.33,179.59 1505.22,175.1 1503.36,174.03 1503.61,173.74"/><circle cx="1524.62" cy="173.09" r="0.9" fill-opacity="0.55"/><polygon points="1546.11,172.85 1546.02,172.96 1545.49,172.35 1544.41,175.59 1547.32,173.82 1546.62,173.44 1546.71,173.32"/><polygon points="1567.78,172.85 1567.69,173 1566.91,172.35 1566.2,176.59 1569.48,173.82 1568.53,173.48 1568.61,173.32"/><circle cx="1589.98" cy="173.09" r="0.9" fill-opacity="0.55"/><polygon points="1612.85,173.13 1613.03,168.22 1615.24,168.7 1612.27,159.59 1608.64,168.46 1610.88,168.14 1610.7,173.05"/><polygon points="1634.63,173.14 1635.14,162.23 1637.34,162.73 1634.46,153.59 1630.75,162.42 1632.99,162.13 1632.49,173.04"/><polygon points="1656.42,173.09 1656.47,164.19 1658.7,164.6 1655.45,155.59 1652.1,164.57 1654.32,164.18 1654.27,173.08"/><polygon points="1678.21,173.13 1678.32,170.73 1680.52,171.23 1677.63,162.09 1673.93,170.93 1676.17,170.63 1676.06,173.04"/><polygon points="1698.98,173.5 1699.14,173.48 1699.11,174.37 1702.42,172.59 1698.74,171.8 1699.02,172.65 1698.86,172.67"/><polygon points="1720.71,173.56 1720.89,173.56 1720.71,174.55 1724.71,173.09 1720.71,171.62 1720.89,172.61 1720.71,172.61"/><polygon points="1741.66,173.09 1741.66,173.4 1739.93,173.09 1742.5,180.09 1745.06,173.09 1743.33,173.4 1743.33,173.09"/><polygon points="1763.33,172.73 1763.2,173.08 1761.35,171.99 1761.29,181.09 1767.22,174.19 1765.11,173.8 1765.24,173.44"/><polygon points="1785.52,172.16 1778.51,176.35 1777.71,174.24 1771.67,181.69 1781.09,179.9 1779.61,178.2 1786.62,174.01"/><polygon points="1807.86,172.67 1807.71,172.67 1807.86,171.8 1804.36,173.09 1807.86,174.37 1807.71,173.5 1807.86,173.5"/><polygon points="1829.89,172.73 1829.75,172.64 1830.38,171.99 1826.65,171.09 1828.92,174.19 1829.28,173.36 1829.41,173.44"/><circle cx="1851.44" cy="173.09" r="0.9" fill-opacity="0.55"/><polygon points="1872.15,173.09 1872.15,173.99 1869.92,173.59 1873.22,182.59 1876.52,173.59 1874.3,173.99 1874.3,173.09"/><polygon points="1894.11,173.67 1896.63,177.56 1894.55,178.43 1902.21,184.19 1900.08,174.84 1898.43,176.39 1895.91,172.5"/><polygon points="1392.85,199.38 1396.08,211.76 1393.83,211.93 1399.29,219.81 1400.22,210.27 1398.16,211.21 1394.93,198.84"/><polygon points="1414.61,199.21 1415.32,206.84 1413.07,206.65 1417.18,215.31 1419.64,206.04 1417.46,206.64 1416.75,199.01"/><polygon points="1436.4,199.06 1435.89,210.27 1433.68,209.77 1436.57,218.91 1440.27,210.07 1438.03,210.36 1438.54,199.16"/><polygon points="1458.2,198.91 1456.55,207.95 1454.43,207.16 1456.06,216.61 1460.92,208.35 1458.66,208.34 1460.31,199.3"/><polygon points="1479.98,198.99 1479.2,206.14 1477.03,205.5 1479.34,214.81 1483.59,206.21 1481.34,206.37 1482.11,199.22"/><polygon points="1502.3,198.57 1502.1,198.77 1501.18,197.46 1498.33,203.61 1504.48,200.76 1503.17,199.84 1503.37,199.64"/><circle cx="1524.62" cy="199.11" r="0.9" fill-opacity="0.55"/><circle cx="1546.41" cy="199.11" r="0.9" fill-opacity="0.55"/><polygon points="1567.78,198.57 1567.58,198.73 1566.91,197.46 1563.7,202.61 1569.48,200.76 1568.41,199.8 1568.61,199.64"/><circle cx="1589.98" cy="199.11" r="0.9" fill-opacity="0.55"/><polygon points="1612.61,199.11 1612.61,198.8 1614.34,199.11 1611.77,192.11 1609.2,199.11 1610.94,198.8 1610.94,199.11"/><polygon points="1634.56,199.51 1635.76,196.49 1637.68,197.69 1637.96,188.11 1631.55,195.24 1633.77,195.69 1632.56,198.71"/><polygon points="1656.32,199.56 1656.66,198.85 1658.5,200.16 1659.35,190.61 1652.53,197.35 1654.71,197.93 1654.37,198.65"/><polygon points="1677.73,199.47 1677.87,199.24 1678.97,200.21 1680.13,194.11 1675.3,198.01 1676.67,198.53 1676.54,198.75"/><polygon points="1698.86,199.94 1699.17,199.97 1698.74,201.67 1705.92,199.61 1699.11,196.54 1699.29,198.29 1698.98,198.27"/><circle cx="1720.71" cy="199.11" r="0.9" fill-opacity="0.55"/><polygon points="1741.48,199.45 1742.76,203.29 1740.52,203.61 1746.5,211.11 1746.78,201.53 1744.8,202.61 1743.52,198.77"/><polygon points="1763.21,199.06 1763.06,202.97 1760.85,202.48 1763.79,211.61 1767.44,202.75 1765.2,203.06 1765.36,199.15"/><polygon points="1785.11,198.63 1782.36,204.13 1780.55,202.78 1779.47,212.31 1786.45,205.73 1784.28,205.1 1787.03,199.59"/><polygon points="1807.2,199.11 1807.2,199.35 1805.84,199.11 1807.86,204.61 1809.88,199.11 1808.52,199.35 1808.52,199.11"/><polygon points="1829.23,198.75 1829.1,198.9 1828.37,198.01 1826.65,202.61 1830.93,200.21 1829.93,199.62 1830.07,199.47"/><polygon points="1850.66,198.99 1850.62,199.28 1849.05,198.74 1850.44,205.61 1853.82,199.47 1852.17,199.52 1852.21,199.23"/><polygon points="1872.23,198.71 1869.42,205.72 1867.5,204.53 1867.22,214.11 1873.63,206.98 1871.42,206.52 1874.22,199.51"/><polygon points="1893.95,199.29 1895.08,205.82 1892.82,205.8 1897.61,214.11 1899.33,204.68 1897.2,205.45 1896.07,198.92"/><polygon points="1392.82,225.13 1392.82,227.53 1390.59,227.13 1393.89,236.13 1397.19,227.13 1394.97,227.53 1394.97,225.13"/><polygon points="1415.08,224.89 1415,225.11 1413.85,224.4 1413.68,230.13 1417.51,225.86 1416.19,225.59 1416.28,225.37"/><polygon points="1436.45,224.79 1435.67,227.13 1433.68,226.05 1433.97,235.63 1439.95,228.13 1437.71,227.81 1438.49,225.47"/><polygon points="1458.27,224.71 1457.6,226.29 1455.71,225.05 1455.26,234.63 1461.79,227.61 1459.59,227.12 1460.25,225.55"/><polygon points="1480.03,225.13 1480.03,225.51 1477.93,225.13 1481.04,233.63 1484.16,225.13 1482.06,225.51 1482.06,225.13"/><circle cx="1502.83" cy="225.13" r="0.9" fill-opacity="0.55"/><circle cx="1524.62" cy="225.13" r="0.9" fill-opacity="0.55"/><polygon points="1546.05,225.25 1546.09,225.38 1545.31,225.5 1547.41,228.13 1547.51,224.76 1546.81,225.14 1546.77,225.01"/><polygon points="1567.66,225.13 1567.66,225.33 1566.55,225.13 1568.2,229.63 1569.85,225.13 1568.73,225.33 1568.73,225.13"/><circle cx="1589.98" cy="225.13" r="0.9" fill-opacity="0.55"/><polygon points="1612.13,225.19 1612.15,225.05 1612.87,225.31 1612.27,222.13 1610.67,224.95 1611.44,224.94 1611.41,225.07"/><polygon points="1634.22,225.79 1634.46,225.54 1635.58,227.15 1639.06,219.63 1631.54,223.11 1633.15,224.23 1632.9,224.47"/><polygon points="1655.71,226.08 1656.06,225.95 1656.45,228.06 1663.35,222.13 1654.25,222.2 1655.34,224.04 1654.99,224.17"/><polygon points="1677.13,225.79 1677.38,225.79 1677.13,227.15 1682.63,225.13 1677.13,223.11 1677.38,224.47 1677.13,224.47"/><polygon points="1698.6,226.15 1701.4,227.05 1700.35,229.04 1709.92,228.63 1702.35,222.76 1702.05,225 1699.25,224.1"/><polygon points="1720.41,225.9 1720.7,226.02 1719.79,227.51 1727.21,227.63 1721.63,222.75 1721.3,224.46 1721.01,224.35"/><polygon points="1741.62,225.75 1742.66,227.22 1740.61,228.18 1748.5,233.63 1746,224.37 1744.42,225.98 1743.38,224.51"/><polygon points="1763.39,224.71 1763.23,225.04 1761.54,223.85 1760.79,232.63 1767.04,226.41 1765.03,225.88 1765.18,225.55"/><polygon points="1785.26,224.42 1784.39,225.43 1782.97,223.67 1779.57,232.63 1787.96,227.99 1786.02,226.83 1786.89,225.83"/><circle cx="1807.86" cy="225.13" r="0.9" fill-opacity="0.55"/><circle cx="1829.65" cy="225.13" r="0.9" fill-opacity="0.55"/><polygon points="1851.38,224.53 1851.15,224.55 1851.25,223.3 1846.44,225.63 1851.62,226.96 1851.27,225.75 1851.5,225.73"/><polygon points="1872.52,224.32 1866.92,229.18 1865.76,227.24 1861.12,235.63 1870.08,232.22 1868.32,230.8 1873.93,225.94"/><polygon points="1894.13,224.52 1892.23,227.25 1890.63,225.65 1888.21,234.93 1896.05,229.42 1894,228.48 1895.9,225.74"/><polygon points="1393.82,252.22 1399.24,252.61 1398.68,254.8 1407.89,252.15 1399.15,248.22 1399.39,250.47 1393.97,250.08"/><polygon points="1416.24,252.07 1419.67,250.01 1420.47,252.12 1426.48,244.65 1417.07,246.46 1418.56,248.16 1415.13,250.23"/><circle cx="1437.47" cy="251.15" r="0.9" fill-opacity="0.55"/><circle cx="1459.26" cy="251.15" r="0.9" fill-opacity="0.55"/><polygon points="1480.99,250.43 1480.72,250.46 1480.86,248.95 1475.04,251.65 1481.23,253.35 1480.84,251.89 1481.1,251.87"/><circle cx="1502.83" cy="251.15" r="0.9" fill-opacity="0.55"/><polygon points="1524.32,251.15 1524.32,251.26 1523.7,251.15 1524.62,253.65 1525.54,251.15 1524.92,251.26 1524.92,251.15"/><polygon points="1545.93,251.15 1545.93,251.33 1544.94,251.15 1546.41,255.15 1547.87,251.15 1546.89,251.33 1546.89,251.15"/><polygon points="1567.65,250.22 1566.56,250.86 1565.78,248.74 1559.7,256.15 1569.13,254.43 1567.65,252.72 1568.74,252.08"/><polygon points="1589.82,250.09 1588.33,250.31 1588.39,248.05 1579.98,252.65 1589.37,254.58 1588.65,252.44 1590.14,252.21"/><polygon points="1611.71,250.25 1611.38,250.28 1611.59,248.4 1604.27,251.65 1611.95,253.9 1611.5,252.07 1611.83,252.05"/><polygon points="1633.74,251.39 1633.83,251.32 1634.11,251.88 1635.56,249.65 1633.01,250.42 1633.47,250.84 1633.38,250.91"/><polygon points="1655.53,251.87 1655.79,251.8 1655.9,253.35 1661.35,249.65 1654.8,248.95 1655.43,250.37 1655.17,250.43"/><polygon points="1677.13,251.93 1677.42,251.93 1677.13,253.53 1683.63,251.15 1677.13,248.77 1677.42,250.37 1677.13,250.37"/><polygon points="1698.78,252.22 1701.26,252.55 1700.56,254.7 1709.92,252.65 1701.45,248.16 1701.55,250.42 1699.07,250.08"/><polygon points="1720.65,251.87 1720.92,251.89 1720.53,253.35 1726.71,251.65 1720.89,248.95 1721.04,250.46 1720.77,250.43"/><polygon points="1742.2,252.17 1742.58,252.28 1741.58,254.27 1751,253.65 1743.41,248.03 1743.17,250.25 1742.8,250.13"/><circle cx="1764.29" cy="251.15" r="0.9" fill-opacity="0.55"/><circle cx="1786.07" cy="251.15" r="0.9" fill-opacity="0.55"/><polygon points="1808.52,250.91 1808.43,250.67 1809.88,250.42 1805.86,245.65 1805.84,251.88 1807.12,251.14 1807.2,251.39"/><polygon points="1830.35,250.33 1828.69,248.92 1830.44,247.48 1821.45,244.15 1826.15,252.5 1827.29,250.55 1828.95,251.97"/><polygon points="1851.89,250.18 1846.79,247.8 1848.09,245.95 1838.54,245.15 1845.31,251.94 1845.88,249.75 1850.98,252.12"/><polygon points="1872.85,250.14 1871.42,250.67 1871.03,248.44 1863.72,254.65 1873.31,254.64 1872.17,252.69 1873.6,252.16"/><polygon points="1894.59,251.63 1894.77,251.78 1893.73,252.62 1899.01,254.65 1896.3,249.68 1895.61,250.83 1895.43,250.67"/><polygon points="1394.35,278.15 1409.84,270.96 1410.42,273.15 1417.19,266.37 1407.64,267.16 1408.94,269.01 1393.44,276.2"/><polygon points="1416.5,277.87 1422.54,270.73 1423.98,272.47 1427.28,263.47 1418.95,268.21 1420.9,269.34 1414.86,276.48"/><polygon points="1438.01,277.29 1438.05,277.09 1439.12,277.54 1438.47,272.67 1435.82,276.8 1436.98,276.85 1436.93,277.05"/><polygon points="1459.62,276.22 1459.26,276.08 1460.36,274.24 1451.26,274.17 1458.16,280.1 1458.54,277.99 1458.9,278.13"/><polygon points="1481.36,276.14 1478.09,275.15 1479.12,273.13 1469.54,273.67 1477.19,279.45 1477.46,277.2 1480.73,278.2"/><polygon points="1502.83,276.22 1502.48,276.22 1502.83,274.24 1494.83,277.17 1502.83,280.1 1502.48,278.13 1502.83,278.13"/><circle cx="1524.62" cy="277.17" r="0.9" fill-opacity="0.55"/><polygon points="1545.77,276.3 1545.21,276.72 1544.21,274.69 1538.91,282.67 1548.12,280.01 1546.48,278.45 1547.04,278.04"/><polygon points="1567.87,276.15 1565.07,277.04 1564.77,274.8 1557.2,280.67 1566.77,281.09 1565.72,279.09 1568.52,278.2"/><polygon points="1589.62,276.16 1583.1,278.53 1582.72,276.3 1575.38,282.47 1584.97,282.5 1583.83,280.55 1590.35,278.18"/><polygon points="1611.22,276.25 1607.9,278.23 1607.1,276.12 1601.07,283.57 1610.49,281.78 1609,280.08 1612.32,278.09"/><polygon points="1633.08,276.75 1632.93,276.93 1632.09,275.89 1630.06,281.17 1635.03,278.45 1633.88,277.77 1634.04,277.59"/><polygon points="1655.17,277.47 1655.28,277.54 1654.8,278.09 1657.85,278.67 1655.9,276.25 1655.64,276.94 1655.53,276.87"/><polygon points="1676.83,278.2 1679.58,279 1678.57,281.03 1688.13,280.37 1680.41,274.69 1680.18,276.94 1677.43,276.14"/><polygon points="1698.5,278.16 1703.09,280.1 1701.85,282 1711.42,282.47 1704.42,275.92 1703.92,278.12 1699.34,276.18"/><polygon points="1720.59,278.24 1721.04,278.29 1720.4,280.46 1729.71,278.17 1721.13,273.9 1721.28,276.15 1720.83,276.1"/><polygon points="1742.74,277.89 1743,277.8 1743.23,279.37 1748.5,275.17 1741.76,274.97 1742.53,276.37 1742.26,276.45"/><polygon points="1765.36,277.17 1765.36,276.27 1767.59,276.67 1764.29,267.67 1760.99,276.67 1763.21,276.27 1763.21,277.17"/><polygon points="1787.13,276.95 1786.9,275.87 1789.16,275.8 1784.07,267.67 1782.7,277.16 1784.79,276.31 1785.02,277.39"/><polygon points="1808.93,277.03 1808.03,270.06 1810.29,270.18 1805.86,261.67 1803.74,271.02 1805.9,270.34 1806.8,277.31"/><polygon points="1830.67,276.84 1828.26,269.5 1830.5,269.19 1824.55,261.67 1824.23,271.25 1826.22,270.18 1828.63,277.51"/><polygon points="1852.34,276.58 1848.85,271.27 1850.93,270.39 1843.24,264.67 1845.41,274.01 1847.06,272.45 1850.54,277.76"/><polygon points="1874,277.23 1874.02,276.94 1875.61,277.35 1873.72,270.67 1870.84,276.99 1872.47,276.82 1872.45,277.11"/><polygon points="1895.64,278.05 1900.54,274.54 1901.51,276.59 1906.91,268.67 1897.67,271.22 1899.29,272.8 1894.39,276.3"/><polygon points="1394.57,304.03 1400.27,299.43 1401.36,301.41 1406.29,293.19 1397.22,296.27 1398.92,297.75 1393.22,302.36"/><polygon points="1416.6,303.75 1422.14,294.6 1423.84,296.1 1425.68,286.69 1418.19,292.68 1420.3,293.49 1414.76,302.64"/><polygon points="1438.54,303.21 1438.61,298.81 1440.83,299.24 1437.67,290.19 1434.23,299.14 1436.46,298.78 1436.39,303.18"/><polygon points="1460.07,302.49 1455.37,297.02 1457.32,295.87 1448.96,291.19 1452.31,300.17 1453.74,298.42 1458.44,303.89"/><polygon points="1481.55,302.24 1471.15,296.76 1472.54,294.98 1463.04,293.69 1469.46,300.81 1470.15,298.66 1480.54,304.14"/><polygon points="1503.17,302.17 1497.93,300.41 1499.01,298.43 1489.43,298.69 1496.91,304.69 1497.24,302.45 1502.49,304.21"/><polygon points="1524.78,302.13 1523.28,301.91 1524.01,299.76 1514.62,301.69 1523.03,306.29 1522.97,304.03 1524.46,304.26"/><polygon points="1546.32,302.12 1542.89,302.41 1543.1,300.16 1534.41,304.19 1543.65,306.73 1543.07,304.55 1546.5,304.26"/><polygon points="1568.2,302.12 1562.8,302.12 1563.2,299.89 1554.2,303.19 1563.2,306.49 1562.8,304.27 1568.2,304.27"/><polygon points="1589.79,302.14 1582.85,303.4 1582.85,301.14 1574.58,305.99 1584.03,307.63 1583.24,305.51 1590.18,304.25"/><polygon points="1611.01,302.43 1609.59,303.85 1608.3,302 1604.27,310.69 1612.97,306.66 1611.11,305.37 1612.53,303.95"/><polygon points="1632.49,303.09 1632.3,305.03 1630.13,304.42 1632.56,313.69 1636.7,305.05 1634.44,305.23 1634.63,303.29"/><polygon points="1654.57,303.85 1654.81,304.14 1652.96,305.21 1660.85,309.69 1657.73,301.18 1656.37,302.82 1656.12,302.54"/><polygon points="1676.7,304.18 1677.84,304.68 1676.57,306.55 1686.13,307.19 1679.25,300.52 1678.71,302.72 1677.57,302.21"/><polygon points="1698.72,304.25 1700.77,304.64 1699.96,306.75 1709.42,305.19 1701.2,300.27 1701.18,302.53 1699.12,302.14"/><polygon points="1720.89,303.97 1721.18,303.9 1721.26,305.58 1727.21,301.69 1720.16,300.81 1720.82,302.35 1720.53,302.42"/><polygon points="1742.98,303.73 1743.18,303.55 1743.96,304.84 1747,299.19 1741.03,301.54 1742.22,302.48 1742.02,302.66"/><polygon points="1765.28,303.59 1766.09,301.58 1768.01,302.77 1768.29,293.19 1761.88,300.32 1764.09,300.78 1763.29,302.79"/><polygon points="1787.15,303.24 1787.24,301.33 1789.44,301.84 1786.57,292.69 1782.85,301.53 1785.09,301.23 1785,303.14"/><polygon points="1808.78,303.75 1810.36,301.12 1812.06,302.61 1813.86,293.19 1806.4,299.21 1808.51,300.01 1806.94,302.64"/><polygon points="1830.71,303.37 1831.3,299.85 1833.42,300.61 1831.65,291.19 1826.91,299.53 1829.17,299.5 1828.59,303.02"/><polygon points="1851.6,304.25 1852.61,304.1 1852.56,306.36 1860.94,301.69 1851.53,299.84 1852.27,301.97 1851.27,302.13"/><polygon points="1873.28,303.97 1873.57,303.95 1873.41,305.58 1879.72,302.69 1873.04,300.81 1873.45,302.39 1873.16,302.42"/><polygon points="1895.01,304.27 1899.11,304.27 1898.71,306.49 1907.71,303.19 1898.71,299.89 1899.11,302.12 1895.01,302.12"/><polygon points="1394.67,329.39 1394.74,329.1 1396.28,329.76 1395.39,322.71 1391.51,328.66 1393.18,328.75 1393.12,329.04"/><polygon points="1416.72,329.47 1419.25,319.32 1421.31,320.24 1420.28,310.71 1414.91,318.65 1417.16,318.8 1414.64,328.95"/><polygon points="1438.51,328.96 1437.37,324.31 1439.62,324.16 1434.27,316.21 1433.22,325.74 1435.28,324.82 1436.43,329.47"/><polygon points="1460.19,328.68 1458.03,324.87 1460.16,324.12 1452.86,317.91 1454.42,327.37 1456.16,325.93 1458.32,329.74"/><polygon points="1481.46,328.22 1477.58,326.58 1478.82,324.69 1469.24,324.21 1476.24,330.76 1476.74,328.56 1480.63,330.2"/><polygon points="1502.83,328.14 1501.93,328.14 1502.33,325.91 1493.33,329.21 1502.33,332.51 1501.93,330.29 1502.83,330.29"/><polygon points="1524.74,328.26 1524.38,328.21 1524.99,326.28 1516.62,328.21 1524.25,332.15 1524.15,330.13 1524.5,330.17"/><polygon points="1546.41,328.26 1546.05,328.26 1546.41,326.28 1538.41,329.21 1546.41,332.15 1546.05,330.17 1546.41,330.17"/><polygon points="1568.14,328.14 1567.72,328.16 1568,325.92 1559.2,329.71 1568.37,332.51 1567.84,330.31 1568.26,330.29"/><polygon points="1589.38,328.33 1586.97,329.97 1586.05,327.91 1580.48,335.71 1589.77,333.36 1588.19,331.75 1590.59,330.1"/><polygon points="1610.7,329.17 1610.59,331.57 1608.38,331.07 1611.27,340.21 1614.98,331.37 1612.74,331.67 1612.85,329.26"/><polygon points="1632.55,329.57 1635.17,336.97 1632.94,337.34 1639.06,344.71 1639.16,335.13 1637.2,336.25 1634.57,328.85"/><polygon points="1654.46,329.82 1659.13,336.7 1657.06,337.62 1664.85,343.21 1662.52,333.91 1660.91,335.49 1656.24,328.61"/><polygon points="1676.21,329.76 1678.14,333.05 1676.02,333.83 1683.43,339.91 1681.71,330.48 1680,331.96 1678.06,328.67"/><polygon points="1698.29,329.63 1698.44,329.87 1696.98,330.5 1702.42,334.51 1700.87,327.93 1699.71,329.03 1699.56,328.8"/><circle cx="1720.71" cy="329.21" r="0.9" fill-opacity="0.55"/><polygon points="1743.1,329.09 1743.05,328.87 1744.33,328.85 1741.5,324.21 1740.66,329.58 1741.86,329.11 1741.9,329.33"/><polygon points="1765.36,329.21 1765.36,327.31 1767.59,327.71 1764.29,318.71 1760.99,327.71 1763.21,327.31 1763.21,329.21"/><polygon points="1787.12,328.95 1785.7,323.3 1787.96,323.15 1782.57,315.21 1781.55,324.75 1783.62,323.82 1785.03,329.48"/><polygon points="1808.46,329.87 1808.7,329.65 1809.69,331.23 1813.36,324.21 1806.03,327.2 1807.51,328.34 1807.26,328.56"/><polygon points="1829.76,330.28 1830.71,330.18 1830.54,332.44 1839.15,328.21 1829.85,325.87 1830.48,328.05 1829.54,328.15"/><polygon points="1851.23,330.27 1857.09,331.42 1856.27,333.52 1865.74,332.01 1857.54,327.05 1857.5,329.31 1851.64,328.16"/><polygon points="1873.16,330.17 1873.52,330.19 1873.04,332.15 1881.22,329.71 1873.41,326.28 1873.64,328.28 1873.28,328.26"/><polygon points="1895.73,329.75 1895.93,329.49 1897.21,330.86 1899.51,323.21 1892.81,327.56 1894.5,328.41 1894.3,328.68"/><polygon points="1393.83,354.16 1393.42,354.19 1393.7,351.94 1384.89,355.74 1394.06,358.53 1393.54,356.33 1393.95,356.31"/><polygon points="1416.72,355.52 1417.46,352.82 1419.5,353.79 1418.68,344.24 1413.13,352.05 1415.38,352.25 1414.64,354.95"/><polygon points="1438.52,354.99 1437.19,349.36 1439.45,349.24 1434.17,341.24 1433.02,350.75 1435.1,349.85 1436.42,355.48"/><polygon points="1460.29,355.54 1460.82,353.78 1462.83,354.8 1462.26,345.24 1456.51,352.91 1458.76,353.16 1458.23,354.93"/><circle cx="1481.04" cy="355.24" r="0.9" fill-opacity="0.55"/><circle cx="1502.83" cy="355.24" r="0.9" fill-opacity="0.55"/><circle cx="1524.62" cy="355.24" r="0.9" fill-opacity="0.55"/><circle cx="1546.41" cy="355.24" r="0.9" fill-opacity="0.55"/><polygon points="1567.5,354.42 1567.03,354.82 1565.88,352.87 1561.2,361.24 1570.18,357.88 1568.43,356.46 1568.9,356.05"/><polygon points="1589.04,354.71 1586.01,360.19 1584.26,358.76 1582.78,368.24 1590.03,361.96 1587.89,361.23 1590.92,355.76"/><polygon points="1610.71,355.39 1611.56,361.18 1609.3,361.11 1613.87,369.54 1615.83,360.15 1613.69,360.87 1612.84,355.08"/><polygon points="1632.59,355.69 1637.02,365.11 1634.84,365.7 1641.66,372.44 1640.81,362.89 1638.97,364.2 1634.53,354.78"/><polygon points="1654.34,355.62 1658.85,367.3 1656.63,367.73 1662.95,374.94 1662.79,365.35 1660.85,366.53 1656.35,354.85"/><polygon points="1676.06,355.22 1675.91,364.12 1673.69,363.68 1676.83,372.74 1680.29,363.79 1678.06,364.16 1678.21,355.25"/><polygon points="1697.85,355.19 1697.72,358.1 1695.52,357.6 1698.42,366.74 1702.11,357.89 1699.87,358.19 1700,355.28"/><circle cx="1720.71" cy="355.24" r="0.9" fill-opacity="0.55"/><circle cx="1742.5" cy="355.24" r="0.9" fill-opacity="0.55"/><polygon points="1765.06,354.82 1764.91,354.53 1766.67,353.95 1760.79,348.74 1761.9,356.52 1763.35,355.36 1763.51,355.65"/><polygon points="1786.93,354.59 1786.09,353.47 1788.11,352.46 1780.07,347.24 1782.83,356.42 1784.37,354.76 1785.21,355.88"/><circle cx="1807.86" cy="355.24" r="0.9" fill-opacity="0.55"/><polygon points="1828.86,355.97 1829.51,356.67 1827.61,357.89 1836.15,362.24 1832.44,353.4 1831.08,355.2 1830.44,354.5"/><polygon points="1850.82,356.11 1859.79,362.45 1858.18,364.04 1867.44,366.54 1861.99,358.65 1861.03,360.7 1852.06,354.36"/><polygon points="1872.39,355.3 1872.41,355.61 1870.66,355.42 1873.72,362.24 1875.79,355.05 1874.08,355.49 1874.06,355.18"/><polygon points="1894.2,355.06 1894.13,355.36 1892.52,354.69 1893.51,362.04 1897.51,355.79 1895.76,355.72 1895.82,355.41"/><circle cx="1393.89" cy="381.26" r="0.9" fill-opacity="0.55"/><polygon points="1416.71,381.58 1417.6,378.78 1419.6,379.83 1419.18,370.26 1413.31,377.83 1415.55,378.13 1414.66,380.93"/><polygon points="1438.37,381.56 1438.48,381.22 1440.22,382.17 1439.97,373.76 1434.72,380.34 1436.68,380.63 1436.57,380.96"/><polygon points="1459.56,382.03 1459.84,381.92 1460.17,383.64 1465.76,378.76 1458.34,378.87 1459.25,380.37 1458.96,380.48"/><polygon points="1480.39,381.97 1480.65,382.22 1479.03,383.46 1487.04,386.76 1483.06,379.06 1481.97,380.78 1481.7,380.54"/><polygon points="1502.05,381.99 1503.67,383.72 1501.77,384.95 1510.33,389.26 1506.58,380.43 1505.24,382.25 1503.62,380.52"/><polygon points="1523.65,381.72 1524.47,383.45 1522.29,384.04 1529.12,390.76 1528.25,381.21 1526.41,382.52 1525.59,380.8"/><polygon points="1545.33,381.26 1545.33,383.66 1543.11,383.26 1546.41,392.26 1549.71,383.26 1547.48,383.66 1547.48,381.26"/><polygon points="1567.15,381.01 1565.26,388.84 1563.19,387.93 1564.3,397.46 1569.61,389.48 1567.35,389.35 1569.24,381.51"/><polygon points="1588.92,381.11 1587.31,392.59 1585.16,391.89 1587.18,401.26 1591.7,392.8 1589.44,392.89 1591.05,381.41"/><polygon points="1610.7,381.22 1610.36,392.23 1608.15,391.76 1611.17,400.86 1614.75,391.96 1612.51,392.29 1612.85,381.29"/><polygon points="1632.52,381.54 1635.08,391.03 1632.83,391.23 1638.36,399.06 1639.2,389.51 1637.16,390.47 1634.6,380.98"/><polygon points="1654.27,381.3 1654.86,397.2 1652.62,396.88 1656.25,405.76 1659.21,396.64 1657.01,397.12 1656.42,381.22"/><polygon points="1676.07,381.08 1673.29,397.7 1671.17,396.94 1672.93,406.36 1677.67,398.03 1675.41,398.05 1678.19,381.43"/><polygon points="1697.88,381 1695.04,392.45 1692.98,391.53 1694.02,401.06 1699.39,393.11 1697.13,392.97 1699.97,381.52"/><polygon points="1719.84,380.63 1718.37,382.66 1716.8,381.03 1714.21,390.26 1722.15,384.89 1720.12,383.91 1721.58,381.89"/><polygon points="1742.38,380.36 1742.05,380.41 1742.13,378.51 1735,382.26 1742.86,384.01 1742.28,382.2 1742.62,382.15"/><polygon points="1764.35,380.18 1763.93,380.16 1764.45,377.96 1755.29,380.76 1764.09,384.55 1763.81,382.31 1764.23,382.33"/><polygon points="1786.13,380.3 1785.78,380.28 1786.26,378.32 1778.07,380.76 1785.89,384.19 1785.66,382.19 1786.01,382.21"/><polygon points="1807.08,380.9 1806.95,381.19 1805.48,380.16 1804.86,387.76 1810.24,382.36 1808.5,381.9 1808.64,381.62"/><polygon points="1828.58,381.38 1828.63,381.83 1826.38,381.68 1830.65,390.26 1832.93,380.95 1830.77,381.59 1830.72,381.14"/><polygon points="1851.14,381.85 1851.36,381.97 1850.52,383.09 1856.44,383.76 1852.35,379.42 1851.96,380.77 1851.74,380.66"/><polygon points="1872.78,381.38 1872.83,381.54 1871.87,381.62 1874.22,384.96 1874.58,380.89 1873.71,381.3 1873.67,381.14"/><circle cx="1895.01" cy="381.26" r="0.9" fill-opacity="0.55"/><polygon points="1393.72,406.22 1393.2,406.3 1393.23,404.04 1384.89,408.78 1394.31,410.55 1393.55,408.43 1394.07,408.34"/><polygon points="1416.22,406.74 1416.02,406.54 1417.33,405.63 1411.18,402.78 1414.03,408.93 1414.94,407.62 1415.14,407.82"/><polygon points="1438.31,407.28 1438.31,406.97 1440.04,407.28 1437.47,400.28 1434.9,407.28 1436.63,406.97 1436.63,407.28"/><polygon points="1459.68,408.27 1462.28,407.15 1462.78,409.36 1469.76,402.78 1460.18,403.29 1461.43,405.18 1458.83,406.29"/><polygon points="1481.13,408.35 1485.26,408.03 1485.03,410.27 1493.74,406.28 1484.51,403.7 1485.09,405.88 1480.96,406.21"/><polygon points="1502.66,408.34 1508.37,409.26 1507.62,411.4 1517.03,409.58 1508.68,404.88 1508.72,407.14 1503,406.22"/><polygon points="1523.84,408.01 1525.45,409.74 1523.56,410.97 1532.12,415.28 1528.37,406.46 1527.02,408.27 1525.4,406.54"/><polygon points="1545.33,407.28 1545.33,409.38 1543.11,408.98 1546.41,417.98 1549.71,408.98 1547.48,409.38 1547.48,407.28"/><polygon points="1567.14,407.07 1565.55,414.94 1563.45,414.1 1564.9,423.58 1569.92,415.41 1567.66,415.36 1569.25,407.49"/><polygon points="1588.91,407.21 1588.38,415.23 1586.19,414.68 1588.88,423.88 1592.77,415.12 1590.52,415.37 1591.06,407.35"/><polygon points="1610.7,407.34 1611.18,415.26 1608.93,414.99 1612.77,423.78 1615.52,414.6 1613.32,415.13 1612.84,407.21"/><polygon points="1632.49,407.22 1632.11,414.64 1629.91,414.13 1632.76,423.28 1636.5,414.45 1634.26,414.74 1634.63,407.33"/><polygon points="1654.28,407.12 1652.52,419.21 1650.38,418.5 1652.35,427.88 1656.91,419.45 1654.65,419.52 1656.41,407.43"/><polygon points="1676.09,407.03 1672.78,420.96 1670.71,420.06 1671.83,429.58 1677.13,421.59 1674.87,421.46 1678.18,407.53"/><polygon points="1697.87,407.05 1695.4,418.45 1693.31,417.58 1694.62,427.08 1699.76,418.98 1697.5,418.9 1699.97,407.51"/><polygon points="1719.81,406.7 1716.75,411.46 1715.09,409.92 1713.01,419.28 1720.65,413.49 1718.56,412.62 1721.61,407.86"/><polygon points="1741.53,406.81 1740.32,409.28 1738.5,407.94 1737.5,417.48 1744.42,410.85 1742.25,410.23 1743.46,407.75"/><polygon points="1763.35,406.75 1763.07,407.26 1761.32,405.82 1759.79,415.28 1767.07,409.05 1764.94,408.31 1765.22,407.81"/><polygon points="1785.01,407.11 1784.85,408.12 1782.72,407.37 1784.57,416.78 1789.24,408.4 1786.98,408.45 1787.14,407.45"/><polygon points="1806.85,407.22 1806.82,407.6 1804.74,407.1 1807.36,415.78 1810.98,407.46 1808.85,407.72 1808.88,407.34"/><polygon points="1828.58,407.4 1828.63,407.85 1826.38,407.7 1830.65,416.28 1832.93,406.97 1830.77,407.61 1830.72,407.16"/><polygon points="1850.37,407.41 1850.8,410.88 1848.55,410.76 1852.94,419.28 1855.09,409.94 1852.94,410.61 1852.5,407.15"/><polygon points="1872.16,407.42 1872.5,409.9 1870.24,409.81 1874.72,418.28 1876.78,408.92 1874.63,409.61 1874.29,407.13"/><polygon points="1893.95,407.13 1893.61,409.61 1891.46,408.92 1893.51,418.28 1898,409.81 1895.74,409.9 1896.08,407.42"/></g>
<rect x="1383" y="69" width="533.8" height="364.3" fill="none" stroke="#000" stroke-opacity="0.5" stroke-width="1.5"/>
<line x1="1383" x2="1386" y1="95.02" y2="95.02" stroke="#000" stroke-opacity="0.55" stroke-width="1.1"/>
<text x="1379.4" y="103.19" text-anchor="end" font-size="22.7">60</text>
<line x1="1383" x2="1386" y1="147.06" y2="147.06" stroke="#000" stroke-opacity="0.55" stroke-width="1.1"/>
<text x="1379.4" y="155.24" text-anchor="end" font-size="22.7">40</text>
<line x1="1383" x2="1386" y1="199.11" y2="199.11" stroke="#000" stroke-opacity="0.55" stroke-width="1.1"/>
<text x="1379.4" y="207.28" text-anchor="end" font-size="22.7">20</text>
<line x1="1383" x2="1386" y1="251.15" y2="251.15" stroke="#000" stroke-opacity="0.55" stroke-width="1.1"/>
<text x="1379.4" y="259.32" text-anchor="end" font-size="22.7">0</text>
<line x1="1383" x2="1386" y1="303.19" y2="303.19" stroke="#000" stroke-opacity="0.55" stroke-width="1.1"/>
<text x="1379.4" y="311.36" text-anchor="end" font-size="22.7">-20</text>
<line x1="1383" x2="1386" y1="355.24" y2="355.24" stroke="#000" stroke-opacity="0.55" stroke-width="1.1"/>
<text x="1379.4" y="363.41" text-anchor="end" font-size="22.7">-40</text>
<line x1="1383" x2="1386" y1="407.28" y2="407.28" stroke="#000" stroke-opacity="0.55" stroke-width="1.1"/>
<text x="1379.4" y="415.45" text-anchor="end" font-size="22.7">-60</text>
<line x1="1393.89" x2="1393.89" y1="433.3" y2="430.3" stroke="#000" stroke-opacity="0.55" stroke-width="1.1"/>
<text x="1393.89" y="454.3" text-anchor="middle" font-size="22.4">24</text>
<line x1="1459.26" x2="1459.26" y1="433.3" y2="430.3" stroke="#000" stroke-opacity="0.55" stroke-width="1.1"/>
<text x="1459.26" y="454.3" text-anchor="middle" font-size="22.4">21</text>
<line x1="1524.62" x2="1524.62" y1="433.3" y2="430.3" stroke="#000" stroke-opacity="0.55" stroke-width="1.1"/>
<text x="1524.62" y="454.3" text-anchor="middle" font-size="22.4">18</text>
<line x1="1589.98" x2="1589.98" y1="433.3" y2="430.3" stroke="#000" stroke-opacity="0.55" stroke-width="1.1"/>
<text x="1589.98" y="454.3" text-anchor="middle" font-size="22.4">15</text>
<line x1="1655.35" x2="1655.35" y1="433.3" y2="430.3" stroke="#000" stroke-opacity="0.55" stroke-width="1.1"/>
<text x="1655.35" y="454.3" text-anchor="middle" font-size="22.4">12</text>
<line x1="1720.71" x2="1720.71" y1="433.3" y2="430.3" stroke="#000" stroke-opacity="0.55" stroke-width="1.1"/>
<text x="1720.71" y="454.3" text-anchor="middle" font-size="22.4">9</text>
<line x1="1786.07" x2="1786.07" y1="433.3" y2="430.3" stroke="#000" stroke-opacity="0.55" stroke-width="1.1"/>
<text x="1786.07" y="454.3" text-anchor="middle" font-size="22.4">6</text>
<line x1="1851.44" x2="1851.44" y1="433.3" y2="430.3" stroke="#000" stroke-opacity="0.55" stroke-width="1.1"/>
<text x="1851.44" y="454.3" text-anchor="middle" font-size="22.4">3</text>
<line x1="1916.8" x2="1916.8" y1="433.3" y2="430.3" stroke="#000" stroke-opacity="0.55" stroke-width="1.1"/>
<text x="1916.8" y="454.3" text-anchor="middle" font-size="22.4">0</text>
<text x="1649.9" y="63.4" text-anchor="middle" font-size="23.15">Velocity vectors</text>
<text x="1649.9" y="479.6" text-anchor="middle" font-size="24.1">Local time</text>
<text transform="translate(1335.5 251.15) rotate(-90)" text-anchor="middle" font-size="23.85">Latitude</text>
<g><rect x="1382.7" y="537.8" width="22.27" height="22.32" fill="#5757ff"/><rect x="1404.97" y="537.8" width="22.27" height="22.32" fill="#7575ff"/><rect x="1427.23" y="537.8" width="22.27" height="22.32" fill="#afafff"/><rect x="1449.5" y="537.8" width="22.27" height="22.32" fill="#ffdbdb"/><rect x="1471.77" y="537.8" width="22.27" height="22.32" fill="#ff8080"/><rect x="1494.03" y="537.8" width="22.27" height="22.32" fill="#ff9999"/><rect x="1516.3" y="537.8" width="22.27" height="22.32" fill="#ff9292"/><rect x="1538.57" y="537.8" width="22.27" height="22.32" fill="#ff8787"/><rect x="1560.83" y="537.8" width="22.27" height="22.32" fill="#ff8787"/><rect x="1583.1" y="537.8" width="22.27" height="22.32" fill="#ff5050"/><rect x="1605.37" y="537.8" width="22.27" height="22.32" fill="#ff6262"/><rect x="1627.63" y="537.8" width="22.27" height="22.32" fill="#ff3a3a"/><rect x="1649.9" y="537.8" width="22.27" height="22.32" fill="#ff6a6a"/><rect x="1672.17" y="537.8" width="22.27" height="22.32" fill="#ffd7d7"/><rect x="1694.43" y="537.8" width="22.27" height="22.32" fill="#cbcbff"/><rect x="1716.7" y="537.8" width="22.27" height="22.32" fill="#b7b7ff"/><rect x="1738.97" y="537.8" width="22.27" height="22.32" fill="#dbdbff"/><rect x="1761.23" y="537.8" width="22.27" height="22.32" fill="#d7d7ff"/><rect x="1783.5" y="537.8" width="22.27" height="22.32" fill="#ffbbbb"/><rect x="1805.77" y="537.8" width="22.27" height="22.32" fill="#ff8080"/><rect x="1828.03" y="537.8" width="22.27" height="22.32" fill="#ff5050"/><rect x="1850.3" y="537.8" width="22.27" height="22.32" fill="#ff8787"/><rect x="1872.57" y="537.8" width="22.27" height="22.32" fill="#ffefef"/><rect x="1894.83" y="537.8" width="22.27" height="22.32" fill="#b7b7ff"/><rect x="1382.7" y="560.12" width="22.27" height="22.32" fill="#6262ff"/><rect x="1404.97" y="560.12" width="22.27" height="22.32" fill="#8787ff"/><rect x="1427.23" y="560.12" width="22.27" height="22.32" fill="#a8a8ff"/><rect x="1449.5" y="560.12" width="22.27" height="22.32" fill="#ffffff"/><rect x="1471.77" y="560.12" width="22.27" height="22.32" fill="#ffc3c3"/><rect x="1494.03" y="560.12" width="22.27" height="22.32" fill="#ffb7b7"/><rect x="1516.3" y="560.12" width="22.27" height="22.32" fill="#ff8787"/><rect x="1538.57" y="560.12" width="22.27" height="22.32" fill="#ff8080"/><rect x="1560.83" y="560.12" width="22.27" height="22.32" fill="#ff9292"/><rect x="1583.1" y="560.12" width="22.27" height="22.32" fill="#ff5757"/><rect x="1605.37" y="560.12" width="22.27" height="22.32" fill="#ff2f2f"/><rect x="1627.63" y="560.12" width="22.27" height="22.32" fill="#ff0404"/><rect x="1649.9" y="560.12" width="22.27" height="22.32" fill="#ff2c2c"/><rect x="1672.17" y="560.12" width="22.27" height="22.32" fill="#ff8080"/><rect x="1694.43" y="560.12" width="22.27" height="22.32" fill="#ffcbcb"/><rect x="1716.7" y="560.12" width="22.27" height="22.32" fill="#ffe7e7"/><rect x="1738.97" y="560.12" width="22.27" height="22.32" fill="#f3f3ff"/><rect x="1761.23" y="560.12" width="22.27" height="22.32" fill="#d7d7ff"/><rect x="1783.5" y="560.12" width="22.27" height="22.32" fill="#ffefef"/><rect x="1805.77" y="560.12" width="22.27" height="22.32" fill="#ffabab"/><rect x="1828.03" y="560.12" width="22.27" height="22.32" fill="#ff8080"/><rect x="1850.3" y="560.12" width="22.27" height="22.32" fill="#ffb3b3"/><rect x="1872.57" y="560.12" width="22.27" height="22.32" fill="#ebebff"/><rect x="1894.83" y="560.12" width="22.27" height="22.32" fill="#bbbbff"/><rect x="1382.7" y="582.45" width="22.27" height="22.32" fill="#5b5bff"/><rect x="1404.97" y="582.45" width="22.27" height="22.32" fill="#7575ff"/><rect x="1427.23" y="582.45" width="22.27" height="22.32" fill="#6d6dff"/><rect x="1449.5" y="582.45" width="22.27" height="22.32" fill="#cbcbff"/><rect x="1471.77" y="582.45" width="22.27" height="22.32" fill="#cfcfff"/><rect x="1494.03" y="582.45" width="22.27" height="22.32" fill="#efefff"/><rect x="1516.3" y="582.45" width="22.27" height="22.32" fill="#ffffff"/><rect x="1538.57" y="582.45" width="22.27" height="22.32" fill="#ffe3e3"/><rect x="1560.83" y="582.45" width="22.27" height="22.32" fill="#ffc3c3"/><rect x="1583.1" y="582.45" width="22.27" height="22.32" fill="#ff7575"/><rect x="1605.37" y="582.45" width="22.27" height="22.32" fill="#ff5050"/><rect x="1627.63" y="582.45" width="22.27" height="22.32" fill="#ff2424"/><rect x="1649.9" y="582.45" width="22.27" height="22.32" fill="#ff4545"/><rect x="1672.17" y="582.45" width="22.27" height="22.32" fill="#ff5050"/><rect x="1694.43" y="582.45" width="22.27" height="22.32" fill="#ffa8a8"/><rect x="1716.7" y="582.45" width="22.27" height="22.32" fill="#ffbbbb"/><rect x="1738.97" y="582.45" width="22.27" height="22.32" fill="#f7f7ff"/><rect x="1761.23" y="582.45" width="22.27" height="22.32" fill="#f7f7ff"/><rect x="1783.5" y="582.45" width="22.27" height="22.32" fill="#fff3f3"/><rect x="1805.77" y="582.45" width="22.27" height="22.32" fill="#ff9999"/><rect x="1828.03" y="582.45" width="22.27" height="22.32" fill="#ff9999"/><rect x="1850.3" y="582.45" width="22.27" height="22.32" fill="#ffdbdb"/><rect x="1872.57" y="582.45" width="22.27" height="22.32" fill="#bbbbff"/><rect x="1894.83" y="582.45" width="22.27" height="22.32" fill="#b7b7ff"/><rect x="1382.7" y="604.77" width="22.27" height="22.32" fill="#7575ff"/><rect x="1404.97" y="604.77" width="22.27" height="22.32" fill="#8080ff"/><rect x="1427.23" y="604.77" width="22.27" height="22.32" fill="#4242ff"/><rect x="1449.5" y="604.77" width="22.27" height="22.32" fill="#6262ff"/><rect x="1471.77" y="604.77" width="22.27" height="22.32" fill="#7575ff"/><rect x="1494.03" y="604.77" width="22.27" height="22.32" fill="#c3c3ff"/><rect x="1516.3" y="604.77" width="22.27" height="22.32" fill="#ebebff"/><rect x="1538.57" y="604.77" width="22.27" height="22.32" fill="#dfdfff"/><rect x="1560.83" y="604.77" width="22.27" height="22.32" fill="#dfdfff"/><rect x="1583.1" y="604.77" width="22.27" height="22.32" fill="#ffe7e7"/><rect x="1605.37" y="604.77" width="22.27" height="22.32" fill="#ff9292"/><rect x="1627.63" y="604.77" width="22.27" height="22.32" fill="#ff6a6a"/><rect x="1649.9" y="604.77" width="22.27" height="22.32" fill="#ff7575"/><rect x="1672.17" y="604.77" width="22.27" height="22.32" fill="#ffa8a8"/><rect x="1694.43" y="604.77" width="22.27" height="22.32" fill="#fff3f3"/><rect x="1716.7" y="604.77" width="22.27" height="22.32" fill="#fff3f3"/><rect x="1738.97" y="604.77" width="22.27" height="22.32" fill="#bbbbff"/><rect x="1761.23" y="604.77" width="22.27" height="22.32" fill="#b7b7ff"/><rect x="1783.5" y="604.77" width="22.27" height="22.32" fill="#bfbfff"/><rect x="1805.77" y="604.77" width="22.27" height="22.32" fill="#ffffff"/><rect x="1828.03" y="604.77" width="22.27" height="22.32" fill="#ffe7e7"/><rect x="1850.3" y="604.77" width="22.27" height="22.32" fill="#ebebff"/><rect x="1872.57" y="604.77" width="22.27" height="22.32" fill="#a8a8ff"/><rect x="1894.83" y="604.77" width="22.27" height="22.32" fill="#ababff"/><rect x="1382.7" y="627.09" width="22.27" height="22.32" fill="#6262ff"/><rect x="1404.97" y="627.09" width="22.27" height="22.32" fill="#8787ff"/><rect x="1427.23" y="627.09" width="22.27" height="22.32" fill="#6262ff"/><rect x="1449.5" y="627.09" width="22.27" height="22.32" fill="#7575ff"/><rect x="1471.77" y="627.09" width="22.27" height="22.32" fill="#8787ff"/><rect x="1494.03" y="627.09" width="22.27" height="22.32" fill="#d7d7ff"/><rect x="1516.3" y="627.09" width="22.27" height="22.32" fill="#efefff"/><rect x="1538.57" y="627.09" width="22.27" height="22.32" fill="#ebebff"/><rect x="1560.83" y="627.09" width="22.27" height="22.32" fill="#dfdfff"/><rect x="1583.1" y="627.09" width="22.27" height="22.32" fill="#efefff"/><rect x="1605.37" y="627.09" width="22.27" height="22.32" fill="#ffbbbb"/><rect x="1627.63" y="627.09" width="22.27" height="22.32" fill="#ffa8a8"/><rect x="1649.9" y="627.09" width="22.27" height="22.32" fill="#ffabab"/><rect x="1672.17" y="627.09" width="22.27" height="22.32" fill="#ffcbcb"/><rect x="1694.43" y="627.09" width="22.27" height="22.32" fill="#fbfbff"/><rect x="1716.7" y="627.09" width="22.27" height="22.32" fill="#fbfbff"/><rect x="1738.97" y="627.09" width="22.27" height="22.32" fill="#a8a8ff"/><rect x="1761.23" y="627.09" width="22.27" height="22.32" fill="#9292ff"/><rect x="1783.5" y="627.09" width="22.27" height="22.32" fill="#9999ff"/><rect x="1805.77" y="627.09" width="22.27" height="22.32" fill="#cbcbff"/><rect x="1828.03" y="627.09" width="22.27" height="22.32" fill="#e3e3ff"/><rect x="1850.3" y="627.09" width="22.27" height="22.32" fill="#cbcbff"/><rect x="1872.57" y="627.09" width="22.27" height="22.32" fill="#8080ff"/><rect x="1894.83" y="627.09" width="22.27" height="22.32" fill="#8080ff"/><rect x="1382.7" y="649.42" width="22.27" height="22.32" fill="#a8a8ff"/><rect x="1404.97" y="649.42" width="22.27" height="22.32" fill="#d7d7ff"/><rect x="1427.23" y="649.42" width="22.27" height="22.32" fill="#9999ff"/><rect x="1449.5" y="649.42" width="22.27" height="22.32" fill="#ababff"/><rect x="1471.77" y="649.42" width="22.27" height="22.32" fill="#afafff"/><rect x="1494.03" y="649.42" width="22.27" height="22.32" fill="#ebebff"/><rect x="1516.3" y="649.42" width="22.27" height="22.32" fill="#efefff"/><rect x="1538.57" y="649.42" width="22.27" height="22.32" fill="#d7d7ff"/><rect x="1560.83" y="649.42" width="22.27" height="22.32" fill="#cfcfff"/><rect x="1583.1" y="649.42" width="22.27" height="22.32" fill="#e3e3ff"/><rect x="1605.37" y="649.42" width="22.27" height="22.32" fill="#ffdbdb"/><rect x="1627.63" y="649.42" width="22.27" height="22.32" fill="#ffcbcb"/><rect x="1649.9" y="649.42" width="22.27" height="22.32" fill="#ffd7d7"/><rect x="1672.17" y="649.42" width="22.27" height="22.32" fill="#fff3f3"/><rect x="1694.43" y="649.42" width="22.27" height="22.32" fill="#d7d7ff"/><rect x="1716.7" y="649.42" width="22.27" height="22.32" fill="#dfdfff"/><rect x="1738.97" y="649.42" width="22.27" height="22.32" fill="#afafff"/><rect x="1761.23" y="649.42" width="22.27" height="22.32" fill="#bfbfff"/><rect x="1783.5" y="649.42" width="22.27" height="22.32" fill="#c3c3ff"/><rect x="1805.77" y="649.42" width="22.27" height="22.32" fill="#f7f7ff"/><rect x="1828.03" y="649.42" width="22.27" height="22.32" fill="#fffbfb"/><rect x="1850.3" y="649.42" width="22.27" height="22.32" fill="#fffbfb"/><rect x="1872.57" y="649.42" width="22.27" height="22.32" fill="#a8a8ff"/><rect x="1894.83" y="649.42" width="22.27" height="22.32" fill="#afafff"/><rect x="1382.7" y="671.74" width="22.27" height="22.32" fill="#fbfbff"/><rect x="1404.97" y="671.74" width="22.27" height="22.32" fill="#ffcbcb"/><rect x="1427.23" y="671.74" width="22.27" height="22.32" fill="#ffe7e7"/><rect x="1449.5" y="671.74" width="22.27" height="22.32" fill="#fff3f3"/><rect x="1471.77" y="671.74" width="22.27" height="22.32" fill="#fffbfb"/><rect x="1494.03" y="671.74" width="22.27" height="22.32" fill="#f7f7ff"/><rect x="1516.3" y="671.74" width="22.27" height="22.32" fill="#dfdfff"/><rect x="1538.57" y="671.74" width="22.27" height="22.32" fill="#d7d7ff"/><rect x="1560.83" y="671.74" width="22.27" height="22.32" fill="#d7d7ff"/><rect x="1583.1" y="671.74" width="22.27" height="22.32" fill="#efefff"/><rect x="1605.37" y="671.74" width="22.27" height="22.32" fill="#ffffff"/><rect x="1627.63" y="671.74" width="22.27" height="22.32" fill="#ffe3e3"/><rect x="1649.9" y="671.74" width="22.27" height="22.32" fill="#ffe3e3"/><rect x="1672.17" y="671.74" width="22.27" height="22.32" fill="#ffffff"/><rect x="1694.43" y="671.74" width="22.27" height="22.32" fill="#efefff"/><rect x="1716.7" y="671.74" width="22.27" height="22.32" fill="#f3f3ff"/><rect x="1738.97" y="671.74" width="22.27" height="22.32" fill="#ebebff"/><rect x="1761.23" y="671.74" width="22.27" height="22.32" fill="#fff3f3"/><rect x="1783.5" y="671.74" width="22.27" height="22.32" fill="#fff3f3"/><rect x="1805.77" y="671.74" width="22.27" height="22.32" fill="#ffcbcb"/><rect x="1828.03" y="671.74" width="22.27" height="22.32" fill="#ffc3c3"/><rect x="1850.3" y="671.74" width="22.27" height="22.32" fill="#ffcbcb"/><rect x="1872.57" y="671.74" width="22.27" height="22.32" fill="#dbdbff"/><rect x="1894.83" y="671.74" width="22.27" height="22.32" fill="#dfdfff"/><rect x="1382.7" y="694.06" width="22.27" height="22.32" fill="#ffb3b3"/><rect x="1404.97" y="694.06" width="22.27" height="22.32" fill="#ff9292"/><rect x="1427.23" y="694.06" width="22.27" height="22.32" fill="#ffcfcf"/><rect x="1449.5" y="694.06" width="22.27" height="22.32" fill="#ffdbdb"/><rect x="1471.77" y="694.06" width="22.27" height="22.32" fill="#ffd7d7"/><rect x="1494.03" y="694.06" width="22.27" height="22.32" fill="#fff3f3"/><rect x="1516.3" y="694.06" width="22.27" height="22.32" fill="#efefff"/><rect x="1538.57" y="694.06" width="22.27" height="22.32" fill="#cbcbff"/><rect x="1560.83" y="694.06" width="22.27" height="22.32" fill="#e3e3ff"/><rect x="1583.1" y="694.06" width="22.27" height="22.32" fill="#dbdbff"/><rect x="1605.37" y="694.06" width="22.27" height="22.32" fill="#cfcfff"/><rect x="1627.63" y="694.06" width="22.27" height="22.32" fill="#dfdfff"/><rect x="1649.9" y="694.06" width="22.27" height="22.32" fill="#f3f3ff"/><rect x="1672.17" y="694.06" width="22.27" height="22.32" fill="#e3e3ff"/><rect x="1694.43" y="694.06" width="22.27" height="22.32" fill="#dbdbff"/><rect x="1716.7" y="694.06" width="22.27" height="22.32" fill="#f7f7ff"/><rect x="1738.97" y="694.06" width="22.27" height="22.32" fill="#ffdfdf"/><rect x="1761.23" y="694.06" width="22.27" height="22.32" fill="#ffabab"/><rect x="1783.5" y="694.06" width="22.27" height="22.32" fill="#ffabab"/><rect x="1805.77" y="694.06" width="22.27" height="22.32" fill="#ff8080"/><rect x="1828.03" y="694.06" width="22.27" height="22.32" fill="#ff8080"/><rect x="1850.3" y="694.06" width="22.27" height="22.32" fill="#ff9292"/><rect x="1872.57" y="694.06" width="22.27" height="22.32" fill="#ffc3c3"/><rect x="1894.83" y="694.06" width="22.27" height="22.32" fill="#ffb7b7"/><rect x="1382.7" y="716.38" width="22.27" height="22.32" fill="#ffb3b3"/><rect x="1404.97" y="716.38" width="22.27" height="22.32" fill="#ff8080"/><rect x="1427.23" y="716.38" width="22.27" height="22.32" fill="#ff9999"/><rect x="1449.5" y="716.38" width="22.27" height="22.32" fill="#ffa0a0"/><rect x="1471.77" y="716.38" width="22.27" height="22.32" fill="#ffabab"/><rect x="1494.03" y="716.38" width="22.27" height="22.32" fill="#ffdbdb"/><rect x="1516.3" y="716.38" width="22.27" height="22.32" fill="#ffefef"/><rect x="1538.57" y="716.38" width="22.27" height="22.32" fill="#f7f7ff"/><rect x="1560.83" y="716.38" width="22.27" height="22.32" fill="#fffbfb"/><rect x="1583.1" y="716.38" width="22.27" height="22.32" fill="#ebebff"/><rect x="1605.37" y="716.38" width="22.27" height="22.32" fill="#c3c3ff"/><rect x="1627.63" y="716.38" width="22.27" height="22.32" fill="#afafff"/><rect x="1649.9" y="716.38" width="22.27" height="22.32" fill="#d7d7ff"/><rect x="1672.17" y="716.38" width="22.27" height="22.32" fill="#e3e3ff"/><rect x="1694.43" y="716.38" width="22.27" height="22.32" fill="#f3f3ff"/><rect x="1716.7" y="716.38" width="22.27" height="22.32" fill="#ffefef"/><rect x="1738.97" y="716.38" width="22.27" height="22.32" fill="#ffcbcb"/><rect x="1761.23" y="716.38" width="22.27" height="22.32" fill="#ffa8a8"/><rect x="1783.5" y="716.38" width="22.27" height="22.32" fill="#ffabab"/><rect x="1805.77" y="716.38" width="22.27" height="22.32" fill="#ffabab"/><rect x="1828.03" y="716.38" width="22.27" height="22.32" fill="#ff9999"/><rect x="1850.3" y="716.38" width="22.27" height="22.32" fill="#fff3f3"/><rect x="1872.57" y="716.38" width="22.27" height="22.32" fill="#fffbfb"/><rect x="1894.83" y="716.38" width="22.27" height="22.32" fill="#fffbfb"/><rect x="1382.7" y="738.71" width="22.27" height="22.32" fill="#ffcbcb"/><rect x="1404.97" y="738.71" width="22.27" height="22.32" fill="#ff6a6a"/><rect x="1427.23" y="738.71" width="22.27" height="22.32" fill="#ff9999"/><rect x="1449.5" y="738.71" width="22.27" height="22.32" fill="#ffabab"/><rect x="1471.77" y="738.71" width="22.27" height="22.32" fill="#ffdbdb"/><rect x="1494.03" y="738.71" width="22.27" height="22.32" fill="#fff3f3"/><rect x="1516.3" y="738.71" width="22.27" height="22.32" fill="#ffdbdb"/><rect x="1538.57" y="738.71" width="22.27" height="22.32" fill="#fffbfb"/><rect x="1560.83" y="738.71" width="22.27" height="22.32" fill="#fffbfb"/><rect x="1583.1" y="738.71" width="22.27" height="22.32" fill="#cbcbff"/><rect x="1605.37" y="738.71" width="22.27" height="22.32" fill="#a8a8ff"/><rect x="1627.63" y="738.71" width="22.27" height="22.32" fill="#8787ff"/><rect x="1649.9" y="738.71" width="22.27" height="22.32" fill="#9999ff"/><rect x="1672.17" y="738.71" width="22.27" height="22.32" fill="#afafff"/><rect x="1694.43" y="738.71" width="22.27" height="22.32" fill="#d7d7ff"/><rect x="1716.7" y="738.71" width="22.27" height="22.32" fill="#ffffff"/><rect x="1738.97" y="738.71" width="22.27" height="22.32" fill="#ffcbcb"/><rect x="1761.23" y="738.71" width="22.27" height="22.32" fill="#ffa8a8"/><rect x="1783.5" y="738.71" width="22.27" height="22.32" fill="#ff8787"/><rect x="1805.77" y="738.71" width="22.27" height="22.32" fill="#ffd7d7"/><rect x="1828.03" y="738.71" width="22.27" height="22.32" fill="#fff3f3"/><rect x="1850.3" y="738.71" width="22.27" height="22.32" fill="#efefff"/><rect x="1872.57" y="738.71" width="22.27" height="22.32" fill="#fbfbff"/><rect x="1894.83" y="738.71" width="22.27" height="22.32" fill="#ffcbcb"/><rect x="1382.7" y="761.03" width="22.27" height="22.32" fill="#f7f7ff"/><rect x="1404.97" y="761.03" width="22.27" height="22.32" fill="#ffabab"/><rect x="1427.23" y="761.03" width="22.27" height="22.32" fill="#ff9292"/><rect x="1449.5" y="761.03" width="22.27" height="22.32" fill="#ffb3b3"/><rect x="1471.77" y="761.03" width="22.27" height="22.32" fill="#ffffff"/><rect x="1494.03" y="761.03" width="22.27" height="22.32" fill="#efefff"/><rect x="1516.3" y="761.03" width="22.27" height="22.32" fill="#fbfbff"/><rect x="1538.57" y="761.03" width="22.27" height="22.32" fill="#f3f3ff"/><rect x="1560.83" y="761.03" width="22.27" height="22.32" fill="#cbcbff"/><rect x="1583.1" y="761.03" width="22.27" height="22.32" fill="#9999ff"/><rect x="1605.37" y="761.03" width="22.27" height="22.32" fill="#9292ff"/><rect x="1627.63" y="761.03" width="22.27" height="22.32" fill="#8080ff"/><rect x="1649.9" y="761.03" width="22.27" height="22.32" fill="#6a6aff"/><rect x="1672.17" y="761.03" width="22.27" height="22.32" fill="#8080ff"/><rect x="1694.43" y="761.03" width="22.27" height="22.32" fill="#a8a8ff"/><rect x="1716.7" y="761.03" width="22.27" height="22.32" fill="#dfdfff"/><rect x="1738.97" y="761.03" width="22.27" height="22.32" fill="#fff3f3"/><rect x="1761.23" y="761.03" width="22.27" height="22.32" fill="#ffc3c3"/><rect x="1783.5" y="761.03" width="22.27" height="22.32" fill="#ffbbbb"/><rect x="1805.77" y="761.03" width="22.27" height="22.32" fill="#f3f3ff"/><rect x="1828.03" y="761.03" width="22.27" height="22.32" fill="#cbcbff"/><rect x="1850.3" y="761.03" width="22.27" height="22.32" fill="#a8a8ff"/><rect x="1872.57" y="761.03" width="22.27" height="22.32" fill="#cbcbff"/><rect x="1894.83" y="761.03" width="22.27" height="22.32" fill="#cbcbff"/><rect x="1382.7" y="783.35" width="22.27" height="22.32" fill="#efefff"/><rect x="1404.97" y="783.35" width="22.27" height="22.32" fill="#ffabab"/><rect x="1427.23" y="783.35" width="22.27" height="22.32" fill="#ffcbcb"/><rect x="1449.5" y="783.35" width="22.27" height="22.32" fill="#ffe7e7"/><rect x="1471.77" y="783.35" width="22.27" height="22.32" fill="#cbcbff"/><rect x="1494.03" y="783.35" width="22.27" height="22.32" fill="#c3c3ff"/><rect x="1516.3" y="783.35" width="22.27" height="22.32" fill="#afafff"/><rect x="1538.57" y="783.35" width="22.27" height="22.32" fill="#a8a8ff"/><rect x="1560.83" y="783.35" width="22.27" height="22.32" fill="#8787ff"/><rect x="1583.1" y="783.35" width="22.27" height="22.32" fill="#6a6aff"/><rect x="1605.37" y="783.35" width="22.27" height="22.32" fill="#7575ff"/><rect x="1627.63" y="783.35" width="22.27" height="22.32" fill="#8080ff"/><rect x="1649.9" y="783.35" width="22.27" height="22.32" fill="#5050ff"/><rect x="1672.17" y="783.35" width="22.27" height="22.32" fill="#5050ff"/><rect x="1694.43" y="783.35" width="22.27" height="22.32" fill="#6a6aff"/><rect x="1716.7" y="783.35" width="22.27" height="22.32" fill="#bbbbff"/><rect x="1738.97" y="783.35" width="22.27" height="22.32" fill="#f7f7ff"/><rect x="1761.23" y="783.35" width="22.27" height="22.32" fill="#fff3f3"/><rect x="1783.5" y="783.35" width="22.27" height="22.32" fill="#fff3f3"/><rect x="1805.77" y="783.35" width="22.27" height="22.32" fill="#cbcbff"/><rect x="1828.03" y="783.35" width="22.27" height="22.32" fill="#bbbbff"/><rect x="1850.3" y="783.35" width="22.27" height="22.32" fill="#e3e3ff"/><rect x="1872.57" y="783.35" width="22.27" height="22.32" fill="#e3e3ff"/><rect x="1894.83" y="783.35" width="22.27" height="22.32" fill="#ebebff"/><rect x="1382.7" y="805.68" width="22.27" height="22.32" fill="#ebebff"/><rect x="1404.97" y="805.68" width="22.27" height="22.32" fill="#ffd7d7"/><rect x="1427.23" y="805.68" width="22.27" height="22.32" fill="#ffcbcb"/><rect x="1449.5" y="805.68" width="22.27" height="22.32" fill="#ffdbdb"/><rect x="1471.77" y="805.68" width="22.27" height="22.32" fill="#fff3f3"/><rect x="1494.03" y="805.68" width="22.27" height="22.32" fill="#efefff"/><rect x="1516.3" y="805.68" width="22.27" height="22.32" fill="#bbbbff"/><rect x="1538.57" y="805.68" width="22.27" height="22.32" fill="#afafff"/><rect x="1560.83" y="805.68" width="22.27" height="22.32" fill="#8787ff"/><rect x="1583.1" y="805.68" width="22.27" height="22.32" fill="#8787ff"/><rect x="1605.37" y="805.68" width="22.27" height="22.32" fill="#9292ff"/><rect x="1627.63" y="805.68" width="22.27" height="22.32" fill="#8787ff"/><rect x="1649.9" y="805.68" width="22.27" height="22.32" fill="#6a6aff"/><rect x="1672.17" y="805.68" width="22.27" height="22.32" fill="#6262ff"/><rect x="1694.43" y="805.68" width="22.27" height="22.32" fill="#6a6aff"/><rect x="1716.7" y="805.68" width="22.27" height="22.32" fill="#a8a8ff"/><rect x="1738.97" y="805.68" width="22.27" height="22.32" fill="#afafff"/><rect x="1761.23" y="805.68" width="22.27" height="22.32" fill="#c3c3ff"/><rect x="1783.5" y="805.68" width="22.27" height="22.32" fill="#bbbbff"/><rect x="1805.77" y="805.68" width="22.27" height="22.32" fill="#bbbbff"/><rect x="1828.03" y="805.68" width="22.27" height="22.32" fill="#bbbbff"/><rect x="1850.3" y="805.68" width="22.27" height="22.32" fill="#9999ff"/><rect x="1872.57" y="805.68" width="22.27" height="22.32" fill="#a8a8ff"/><rect x="1894.83" y="805.68" width="22.27" height="22.32" fill="#a8a8ff"/></g>
<rect x="1382.7" y="537.8" width="534.4" height="290.2" fill="none" stroke="#000" stroke-opacity="0.5" stroke-width="1.5"/>
<line x1="1382.7" x2="1385.7" y1="548.96" y2="548.96" stroke="#000" stroke-opacity="0.55" stroke-width="1.1"/>
<text x="1379.1" y="557.13" text-anchor="end" font-size="22.7">60</text>
<line x1="1382.7" x2="1385.7" y1="593.61" y2="593.61" stroke="#000" stroke-opacity="0.55" stroke-width="1.1"/>
<text x="1379.1" y="601.78" text-anchor="end" font-size="22.7">40</text>
<line x1="1382.7" x2="1385.7" y1="638.25" y2="638.25" stroke="#000" stroke-opacity="0.55" stroke-width="1.1"/>
<text x="1379.1" y="646.43" text-anchor="end" font-size="22.7">20</text>
<line x1="1382.7" x2="1385.7" y1="682.9" y2="682.9" stroke="#000" stroke-opacity="0.55" stroke-width="1.1"/>
<text x="1379.1" y="691.07" text-anchor="end" font-size="22.7">0</text>
<line x1="1382.7" x2="1385.7" y1="727.55" y2="727.55" stroke="#000" stroke-opacity="0.55" stroke-width="1.1"/>
<text x="1379.1" y="735.72" text-anchor="end" font-size="22.7">-20</text>
<line x1="1382.7" x2="1385.7" y1="772.19" y2="772.19" stroke="#000" stroke-opacity="0.55" stroke-width="1.1"/>
<text x="1379.1" y="780.36" text-anchor="end" font-size="22.7">-40</text>
<line x1="1382.7" x2="1385.7" y1="816.84" y2="816.84" stroke="#000" stroke-opacity="0.55" stroke-width="1.1"/>
<text x="1379.1" y="825.01" text-anchor="end" font-size="22.7">-60</text>
<line x1="1382.7" x2="1382.7" y1="828" y2="825" stroke="#000" stroke-opacity="0.55" stroke-width="1.1"/>
<text x="1382.7" y="849.7" text-anchor="middle" font-size="22.4">24</text>
<line x1="1449.5" x2="1449.5" y1="828" y2="825" stroke="#000" stroke-opacity="0.55" stroke-width="1.1"/>
<text x="1449.5" y="849.7" text-anchor="middle" font-size="22.4">21</text>
<line x1="1516.3" x2="1516.3" y1="828" y2="825" stroke="#000" stroke-opacity="0.55" stroke-width="1.1"/>
<text x="1516.3" y="849.7" text-anchor="middle" font-size="22.4">18</text>
<line x1="1583.1" x2="1583.1" y1="828" y2="825" stroke="#000" stroke-opacity="0.55" stroke-width="1.1"/>
<text x="1583.1" y="849.7" text-anchor="middle" font-size="22.4">15</text>
<line x1="1649.9" x2="1649.9" y1="828" y2="825" stroke="#000" stroke-opacity="0.55" stroke-width="1.1"/>
<text x="1649.9" y="849.7" text-anchor="middle" font-size="22.4">12</text>
<line x1="1716.7" x2="1716.7" y1="828" y2="825" stroke="#000" stroke-opacity="0.55" stroke-width="1.1"/>
<text x="1716.7" y="849.7" text-anchor="middle" font-size="22.4">9</text>
<line x1="1783.5" x2="1783.5" y1="828" y2="825" stroke="#000" stroke-opacity="0.55" stroke-width="1.1"/>
<text x="1783.5" y="849.7" text-anchor="middle" font-size="22.4">6</text>
<line x1="1850.3" x2="1850.3" y1="828" y2="825" stroke="#000" stroke-opacity="0.55" stroke-width="1.1"/>
<text x="1850.3" y="849.7" text-anchor="middle" font-size="22.4">3</text>
<line x1="1917.1" x2="1917.1" y1="828" y2="825" stroke="#000" stroke-opacity="0.55" stroke-width="1.1"/>
<text x="1917.1" y="849.7" text-anchor="middle" font-size="22.4">0</text>
<text x="1649.9" y="532.6" text-anchor="middle" font-size="23.9">Northward velocity</text>
<text x="1649.9" y="875.1" text-anchor="middle" font-size="24.1">Local time</text>
<text transform="translate(1335.2 682.9) rotate(-90)" text-anchor="middle" font-size="23.85">Latitude</text>
<rect x="1382.7" y="891.9" width="534.4" height="9.9" fill="url(#cbg)" stroke="#000" stroke-opacity="0.55" stroke-width="1.1"/>
<line x1="1420.87" x2="1420.87" y1="901.8" y2="898.8" stroke="#000" stroke-opacity="0.55" stroke-width="1.1"/>
<text x="1420.87" y="922.3" text-anchor="middle" font-size="22.7">-6</text>
<line x1="1535.39" x2="1535.39" y1="901.8" y2="898.8" stroke="#000" stroke-opacity="0.55" stroke-width="1.1"/>
<text x="1535.39" y="922.3" text-anchor="middle" font-size="22.7">-3</text>
<line x1="1649.9" x2="1649.9" y1="901.8" y2="898.8" stroke="#000" stroke-opacity="0.55" stroke-width="1.1"/>
<text x="1649.9" y="922.3" text-anchor="middle" font-size="22.7">0</text>
<line x1="1764.41" x2="1764.41" y1="901.8" y2="898.8" stroke="#000" stroke-opacity="0.55" stroke-width="1.1"/>
<text x="1764.41" y="922.3" text-anchor="middle" font-size="22.7">3</text>
<line x1="1878.93" x2="1878.93" y1="901.8" y2="898.8" stroke="#000" stroke-opacity="0.55" stroke-width="1.1"/>
<text x="1878.93" y="922.3" text-anchor="middle" font-size="22.7">6</text>
<text x="1649.9" y="949.1" text-anchor="middle" font-size="23.9">(m/s)</text>
</svg></body></html>
